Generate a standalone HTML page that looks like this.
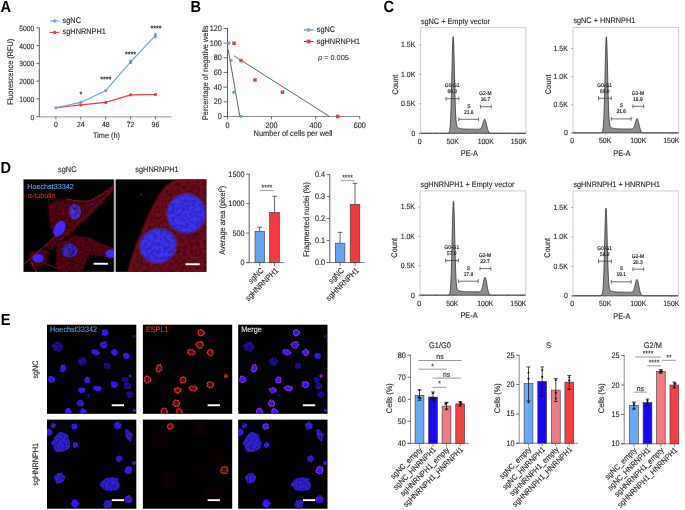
<!DOCTYPE html>
<html><head><meta charset="utf-8"><style>
html,body{margin:0;padding:0;background:#fff;width:685px;height:510px;overflow:hidden}
svg{position:absolute;left:0;top:0;font-family:"Liberation Sans", sans-serif;text-rendering:geometricPrecision;will-change:transform}
</style></head><body>
<svg width="685" height="510" viewBox="0 0 685 510">
<defs>
<filter id="b05" x="-50%" y="-50%" width="200%" height="200%"><feGaussianBlur stdDeviation="0.45"/></filter>
<filter id="b1" x="-50%" y="-50%" width="200%" height="200%"><feGaussianBlur stdDeviation="0.8"/></filter>
<filter id="b2" x="-50%" y="-50%" width="200%" height="200%"><feGaussianBlur stdDeviation="1.6"/></filter>
<filter id="b3" x="-50%" y="-50%" width="200%" height="200%"><feGaussianBlur stdDeviation="3"/></filter>
<filter id="tx1" x="-10%" y="-10%" width="120%" height="120%">
  <feTurbulence type="fractalNoise" baseFrequency="0.45" numOctaves="2" seed="4" result="n"/>
  <feColorMatrix in="n" type="matrix" values="0 0 0 0 0  0 0 0 0 0  0 0 0 0 0  1.8 0 0 0 -0.55" result="a"/>
  <feComposite in="SourceGraphic" in2="a" operator="in" result="c"/>
  <feGaussianBlur in="c" stdDeviation="0.5"/>
</filter>
<filter id="tx2" x="-10%" y="-10%" width="120%" height="120%">
  <feTurbulence type="fractalNoise" baseFrequency="0.5" numOctaves="2" seed="9" result="n"/>
  <feColorMatrix in="n" type="matrix" values="0 0 0 0 0  0 0 0 0 0  0 0 0 0 0  2.2 0 0 0 -0.85" result="a"/>
  <feComposite in="SourceGraphic" in2="a" operator="in" result="c"/>
  <feGaussianBlur in="c" stdDeviation="0.5"/>
</filter>
<filter id="txD" x="-10%" y="-10%" width="120%" height="120%">
  <feTurbulence type="fractalNoise" baseFrequency="0.3" numOctaves="3" seed="11" result="n"/>
  <feColorMatrix in="n" type="matrix" values="0 0 0 0 0  0 0 0 0 0  0 0 0 0 0  2.4 0 0 0 -0.9" result="a"/>
  <feComposite in="SourceGraphic" in2="a" operator="in" result="c"/>
  <feGaussianBlur in="c" stdDeviation="0.6"/>
</filter>
<filter id="txN" x="-10%" y="-10%" width="120%" height="120%">
  <feTurbulence type="fractalNoise" baseFrequency="0.28" numOctaves="3" seed="5" result="n"/>
  <feColorMatrix in="n" type="matrix" values="0 0 0 0 0  0 0 0 0 0  0 0 0 0 0  2.6 0 0 0 -1.0" result="a"/>
  <feComposite in="SourceGraphic" in2="a" operator="in" result="c"/>
  <feGaussianBlur in="c" stdDeviation="0.7"/>
</filter>
<clipPath id="cD1"><rect x="23.5" y="179.4" width="90.4" height="92.5"/></clipPath>
<clipPath id="cD2"><rect x="115.8" y="179.4" width="90.5" height="92.5"/></clipPath>

<clipPath id="cE1"><rect x="47.00" y="324.70" width="89.3" height="89.1"/></clipPath>
<clipPath id="cE2"><rect x="142.90" y="324.70" width="89.3" height="89.1"/></clipPath>
<clipPath id="cE3"><rect x="238.20" y="324.70" width="89.3" height="89.1"/></clipPath>
<clipPath id="cE4"><rect x="47.00" y="419.60" width="89.3" height="89.1"/></clipPath>
<clipPath id="cE5"><rect x="142.90" y="419.60" width="89.3" height="89.1"/></clipPath>
<clipPath id="cE6"><rect x="238.20" y="419.60" width="89.3" height="89.1"/></clipPath></defs>
<rect width="685" height="510" fill="#fff"/>
<rect x="23.5" y="179.4" width="90.4" height="92.5" fill="#000"/>
<g clip-path="url(#cD1)">
<g filter="url(#b2)" fill="#3a060c">
<path d="M48,206 L55,200 L67,199 L80,201 L90,201 L100,195 L113,186 L114,191 L106,199 L96,210 L86,220 L77,227 L70,235 L62,240 L55,237 L50,226Z"/>
<path d="M56,240 L65,241 L75,235 L86,237 L100,244 L114,249 L114,258 L100,257 L90,255 L86,262 L82,272 L58,272 L55,262 L56,250Z"/>
<path d="M30,252 L42,249 L50,252 L48,262 L40,268 L30,266Z"/>
<path d="M44,247 L56,236 L60,240 L52,250Z"/>
</g>
<g filter="url(#tx1)" fill="#9a1222" opacity="0.5">
<path d="M48,206 L55,200 L67,199 L80,201 L90,201 L100,195 L113,186 L114,191 L106,199 L96,210 L86,220 L77,227 L70,235 L62,240 L55,237 L50,226Z"/>
<path d="M56,240 L65,241 L75,235 L86,237 L100,244 L114,249 L114,258 L100,257 L90,255 L86,262 L82,272 L58,272 L55,262 L56,250Z"/>
<path d="M30,252 L42,249 L50,252 L48,262 L40,268 L30,266Z"/>
<path d="M44,247 L56,236 L60,240 L52,250Z"/>
</g>
<path d="M48,254 L55,253 L56,267 L49,268Z" fill="#000" filter="url(#b1)"/>
<g fill="none" filter="url(#b05)" stroke-linecap="round">
<path d="M24.4,263.7 L40,250 L57,235" stroke="#c82030" stroke-width="0.8" opacity="0.85"/>
<path d="M60,240 L76.2,225 L95,207 L112.5,189" stroke="#b01c28" stroke-width="0.65" opacity="0.8"/>
<path d="M67,199 Q80,202 90,201 Q100,196 113,186" stroke="#8a1420" stroke-width="1.0"/>
<path d="M45.6,190 Q50,204 53.4,217.7" stroke="#5a0c14" stroke-width="0.8"/>
<path d="M31.8,262.8 Q34,267 36.8,272" stroke="#c01e28" stroke-width="0.9"/>
<path d="M41.4,261.9 Q50,266 58,268.3 Q64,267 68,264" stroke="#7a1018" stroke-width="0.8"/>
<path d="M86,237 L100,244 L114,249" stroke="#7a1018" stroke-width="0.8"/>
</g>
<g filter="url(#b05)">
<ellipse cx="74.8" cy="211.7" rx="6.1" ry="7.8" fill="#4a36cc"/>
<ellipse cx="59.5" cy="228.6" rx="5.2" ry="8.4" fill="#3c2cff" transform="rotate(28 59.5 228.6)"/>
<ellipse cx="69.5" cy="250.6" rx="8.2" ry="6.9" fill="#3a2ab8"/>
<ellipse cx="38.2" cy="258.2" rx="5.6" ry="4.3" fill="#3a28ff"/>
<ellipse cx="110.6" cy="253.6" rx="5" ry="4.1" fill="#3c2aff"/>
<circle cx="92.3" cy="204.3" r="0.9" fill="#3a28d0"/>
</g>
<g filter="url(#txN)" fill="#100640" opacity="0.6">
<ellipse cx="74.8" cy="211.7" rx="5.9" ry="7.6"/><ellipse cx="69.5" cy="250.6" rx="8" ry="6.7"/>
</g>
</g>
<rect x="93.6" y="262.8" width="14.3" height="1.9" fill="#fff"/>
<text x="27.3" y="188.8" font-size="7.2" fill="#62a2ee" stroke="#62a2ee" stroke-width="0.12">Hoechst33342</text>
<text x="27.7" y="198.3" font-size="7.2" fill="#e02424" stroke="#e02424" stroke-width="0.12">&#945;-tubulin</text>
<rect x="113.9" y="179.4" width="1.9" height="92.5" fill="#b8b8b8"/>
<rect x="115.8" y="179.4" width="90.5" height="92.5" fill="#000"/>
<g clip-path="url(#cD2)">
<path d="M188,176 L210,176 L210,275 L128,275 C131,262 136,246 142,234 C147,222 153,204 164,190 C170,183 178,179 188,177Z" fill="#660a1a" filter="url(#b2)"/>
<path d="M188,176 L210,176 L210,275 L128,275 C131,262 136,246 142,234 C147,222 153,204 164,190 C170,183 178,179 188,177Z" fill="#200206" filter="url(#txD)" opacity="0.6"/>
<path d="M188,176 L210,176 L210,275 L128,275 C131,262 136,246 142,234 C147,222 153,204 164,190 C170,183 178,179 188,177Z" fill="#a01424" filter="url(#tx1)" opacity="0.35"/>
<path d="M129,273 C131,262 136,246 142,234 C147,222 153,204 164,190 C170,183 178,179 188,177" fill="none" stroke="#8a1424" stroke-width="2.4" filter="url(#b1)" opacity="0.8"/>
<g filter="url(#b1)">
<ellipse cx="186.1" cy="213.6" rx="19.2" ry="19.6" fill="#3e34ec" transform="rotate(25 186.1 213.6)"/>
<ellipse cx="158.1" cy="245.8" rx="18.6" ry="17.2" fill="#3e34ec" transform="rotate(-20 158.1 245.8)"/>
</g>
<g filter="url(#txN)" fill="#140a80" opacity="0.45">
<ellipse cx="186.1" cy="213.6" rx="18.6" ry="19" transform="rotate(25 186.1 213.6)"/>
<ellipse cx="158.1" cy="245.8" rx="18" ry="16.6" transform="rotate(-20 158.1 245.8)"/>
</g>
<circle cx="141.3" cy="194.6" r="1.3" fill="#4a0a10"/>
<circle cx="124" cy="254" r="1.6" fill="none" stroke="#3a0810" stroke-width="0.6"/>
</g>
<rect x="185.6" y="263.3" width="14.1" height="1.9" fill="#fff"/>
<rect x="47.00" y="324.70" width="89.3" height="89.1" fill="#000"/>
<g clip-path="url(#cE1)">
<path d="M108.78,333.10 C108.73,333.56 108.22,333.69 107.95,334.06 C107.69,334.43 107.56,335.01 107.18,335.30 C106.81,335.60 106.13,335.71 105.68,335.84 C105.23,335.98 104.93,336.22 104.46,336.11 C104.00,336.00 103.30,335.44 102.90,335.17 C102.49,334.91 102.17,334.93 102.05,334.52 C101.93,334.11 102.20,333.33 102.18,332.71 C102.16,332.09 101.77,331.30 101.92,330.80 C102.07,330.30 102.70,329.94 103.09,329.70 C103.47,329.46 103.71,329.41 104.25,329.37 C104.79,329.33 105.85,329.27 106.30,329.47 C106.76,329.67 106.64,330.26 106.96,330.56 C107.29,330.86 107.96,330.84 108.26,331.27 C108.56,331.69 108.83,332.63 108.78,333.10Z" fill="#3018ff" filter="url(#b05)"/>
<path d="M63.50,346.38 C63.53,347.20 62.28,348.52 61.84,349.28 C61.39,350.05 61.38,350.41 60.85,350.97 C60.33,351.53 59.32,352.56 58.69,352.62 C58.05,352.68 57.81,351.64 57.04,351.31 C56.26,350.99 54.64,351.14 54.06,350.68 C53.47,350.22 53.88,349.17 53.52,348.56 C53.16,347.94 52.16,347.63 51.90,346.97 C51.64,346.32 51.40,345.25 51.94,344.62 C52.49,343.98 54.52,343.63 55.17,343.17 C55.82,342.70 55.14,342.01 55.82,341.83 C56.50,341.65 58.46,341.95 59.25,342.09 C60.03,342.23 60.13,342.28 60.54,342.66 C60.94,343.03 61.17,343.72 61.66,344.34 C62.16,344.96 63.47,345.56 63.50,346.38Z" fill="#2010a0" filter="url(#b05)"/>
<path d="M63.21,346.41 C63.24,347.19 62.04,348.44 61.62,349.16 C61.20,349.89 61.19,350.24 60.69,350.77 C60.19,351.29 59.24,352.28 58.63,352.33 C58.03,352.39 57.80,351.40 57.06,351.09 C56.33,350.79 54.79,350.92 54.23,350.49 C53.68,350.05 54.07,349.06 53.72,348.47 C53.38,347.89 52.44,347.60 52.19,346.97 C51.94,346.35 51.71,345.33 52.22,344.73 C52.74,344.13 54.68,343.79 55.29,343.35 C55.91,342.91 55.26,342.25 55.91,342.08 C56.55,341.91 58.42,342.20 59.16,342.33 C59.91,342.46 60.01,342.51 60.39,342.87 C60.77,343.23 60.99,343.88 61.46,344.47 C61.93,345.06 63.18,345.62 63.21,346.41Z" fill="#0a0440" opacity="0.8" filter="url(#tx2)"/>
<path d="M108.04,345.27 C107.97,345.71 107.13,345.39 106.79,345.87 C106.46,346.34 106.43,347.73 106.03,348.12 C105.64,348.50 104.96,348.13 104.43,348.20 C103.90,348.27 103.31,348.66 102.85,348.52 C102.40,348.37 102.08,347.67 101.71,347.32 C101.34,346.96 100.98,346.86 100.61,346.40 C100.24,345.94 99.48,345.17 99.48,344.57 C99.48,343.97 100.25,343.22 100.61,342.82 C100.97,342.41 101.28,342.32 101.64,342.16 C102.00,342.01 102.29,341.99 102.78,341.87 C103.26,341.74 103.95,341.48 104.54,341.41 C105.13,341.34 105.87,341.15 106.32,341.45 C106.76,341.74 106.93,342.55 107.21,343.18 C107.50,343.82 108.11,344.82 108.04,345.27Z" fill="#3420e0" filter="url(#b05)"/>
<path d="M107.83,345.24 C107.76,345.67 106.96,345.36 106.64,345.81 C106.33,346.26 106.29,347.58 105.92,347.95 C105.55,348.32 104.90,347.97 104.40,348.03 C103.90,348.09 103.33,348.47 102.90,348.33 C102.47,348.19 102.17,347.53 101.82,347.19 C101.46,346.86 101.13,346.76 100.77,346.32 C100.42,345.89 99.70,345.15 99.70,344.58 C99.70,344.01 100.43,343.30 100.77,342.91 C101.11,342.53 101.40,342.45 101.75,342.30 C102.09,342.15 102.37,342.13 102.83,342.01 C103.29,341.90 103.95,341.65 104.51,341.58 C105.07,341.51 105.77,341.33 106.19,341.62 C106.62,341.90 106.77,342.66 107.04,343.26 C107.31,343.87 107.89,344.82 107.83,345.24Z" fill="#0a0440" opacity="0.7" filter="url(#tx2)"/>
<path d="M99.88,352.91 C99.82,353.26 99.75,353.91 99.32,354.17 C98.90,354.44 97.78,354.31 97.31,354.52 C96.84,354.72 97.01,355.40 96.52,355.41 C96.02,355.41 95.09,354.85 94.35,354.53 C93.62,354.21 92.60,353.85 92.09,353.50 C91.59,353.14 91.39,352.73 91.33,352.37 C91.27,352.02 91.71,351.77 91.74,351.35 C91.77,350.94 91.29,350.25 91.51,349.90 C91.74,349.56 92.47,349.31 93.10,349.29 C93.73,349.26 94.60,349.69 95.30,349.77 C96.00,349.84 96.85,349.57 97.30,349.74 C97.75,349.90 97.59,350.37 97.99,350.76 C98.38,351.14 99.35,351.69 99.67,352.05 C99.98,352.40 99.94,352.55 99.88,352.91Z" fill="#3018ff" filter="url(#b05)"/>
<path d="M117.45,352.42 C117.36,352.86 117.36,353.39 117.26,353.80 C117.15,354.21 117.20,354.47 116.84,354.87 C116.47,355.28 115.56,356.11 115.05,356.21 C114.54,356.31 114.15,355.67 113.75,355.46 C113.36,355.26 112.95,355.21 112.68,354.97 C112.41,354.73 112.44,354.39 112.13,354.04 C111.82,353.69 110.94,353.40 110.83,352.86 C110.72,352.31 111.10,351.21 111.45,350.76 C111.80,350.32 112.56,350.41 112.93,350.16 C113.30,349.91 113.23,349.47 113.68,349.28 C114.13,349.10 115.14,348.83 115.62,349.05 C116.10,349.26 116.20,350.20 116.56,350.55 C116.92,350.91 117.64,350.85 117.78,351.17 C117.93,351.48 117.54,351.98 117.45,352.42Z" fill="#3018ff" filter="url(#b05)"/>
<path d="M129.56,355.90 C129.59,356.53 129.52,357.15 129.30,357.63 C129.07,358.11 128.57,358.59 128.21,358.79 C127.86,358.98 127.68,358.75 127.15,358.78 C126.61,358.82 125.50,359.14 125.01,358.98 C124.51,358.82 124.42,358.11 124.17,357.80 C123.91,357.48 123.70,357.43 123.47,357.09 C123.25,356.75 122.84,356.14 122.82,355.77 C122.80,355.39 123.22,355.31 123.37,354.86 C123.51,354.41 123.29,353.38 123.67,353.07 C124.05,352.76 125.11,353.00 125.65,353.01 C126.19,353.01 126.54,353.01 126.92,353.11 C127.29,353.22 127.53,353.54 127.90,353.67 C128.27,353.79 128.86,353.49 129.14,353.86 C129.41,354.23 129.54,355.27 129.56,355.90Z" fill="#3018ff" filter="url(#b05)"/>
<path d="M86.84,361.72 C86.78,362.24 85.94,362.57 85.70,363.02 C85.46,363.48 85.78,363.98 85.38,364.44 C84.99,364.89 83.98,365.52 83.32,365.74 C82.67,365.97 82.04,365.90 81.44,365.79 C80.83,365.68 80.15,365.56 79.68,365.08 C79.21,364.61 78.91,363.55 78.62,362.93 C78.34,362.31 77.98,361.87 77.95,361.36 C77.91,360.85 78.05,360.38 78.42,359.87 C78.79,359.36 79.63,358.75 80.17,358.29 C80.71,357.82 81.09,357.19 81.64,357.09 C82.19,357.00 82.95,357.62 83.47,357.71 C83.99,357.80 84.33,357.24 84.76,357.61 C85.19,357.98 85.70,359.24 86.04,359.92 C86.39,360.61 86.89,361.20 86.84,361.72Z" fill="#2010a0" filter="url(#b05)"/>
<path d="M86.61,361.70 C86.56,362.19 85.76,362.51 85.53,362.94 C85.30,363.37 85.61,363.85 85.23,364.28 C84.85,364.71 83.90,365.31 83.27,365.53 C82.65,365.74 82.06,365.68 81.48,365.57 C80.90,365.47 80.25,365.35 79.81,364.90 C79.36,364.45 79.08,363.44 78.81,362.85 C78.53,362.26 78.20,361.85 78.16,361.36 C78.13,360.88 78.26,360.43 78.61,359.95 C78.96,359.46 79.77,358.88 80.28,358.44 C80.79,358.00 81.15,357.40 81.67,357.31 C82.20,357.22 82.92,357.81 83.41,357.89 C83.90,357.98 84.23,357.45 84.64,357.80 C85.04,358.15 85.53,359.35 85.86,360.00 C86.18,360.65 86.66,361.21 86.61,361.70Z" fill="#0a0440" opacity="0.8" filter="url(#tx2)"/>
<path d="M109.91,365.68 C109.79,366.19 109.66,366.68 109.49,367.11 C109.33,367.55 109.18,367.98 108.94,368.28 C108.71,368.58 108.46,368.81 108.07,368.93 C107.69,369.05 107.07,369.13 106.64,369.00 C106.20,368.88 105.95,368.45 105.47,368.19 C104.98,367.93 103.97,367.80 103.73,367.45 C103.49,367.10 104.04,366.64 104.02,366.07 C104.01,365.50 103.45,364.51 103.63,364.05 C103.80,363.58 104.55,363.44 105.06,363.27 C105.57,363.10 106.21,363.09 106.69,363.03 C107.17,362.96 107.62,362.82 107.94,362.88 C108.25,362.95 108.21,363.21 108.59,363.41 C108.97,363.61 110.00,363.69 110.22,364.06 C110.44,364.44 110.03,365.17 109.91,365.68Z" fill="#2010a0" filter="url(#b05)"/>
<path d="M109.76,365.68 C109.65,366.17 109.52,366.64 109.37,367.05 C109.22,367.46 109.07,367.87 108.85,368.16 C108.62,368.44 108.39,368.66 108.02,368.77 C107.65,368.89 107.07,368.96 106.65,368.84 C106.24,368.73 106.00,368.32 105.54,368.07 C105.08,367.83 104.12,367.70 103.89,367.37 C103.66,367.03 104.19,366.60 104.17,366.06 C104.16,365.52 103.63,364.58 103.79,364.13 C103.96,363.69 104.67,363.56 105.16,363.40 C105.64,363.24 106.25,363.23 106.71,363.16 C107.16,363.10 107.59,362.97 107.89,363.03 C108.19,363.09 108.15,363.34 108.51,363.53 C108.87,363.72 109.85,363.79 110.06,364.15 C110.26,364.51 109.87,365.20 109.76,365.68Z" fill="#0a0440" opacity="0.8" filter="url(#tx2)"/>
<path d="M66.04,368.81 C65.95,369.41 65.58,370.15 65.25,370.61 C64.92,371.07 64.52,371.29 64.05,371.57 C63.57,371.85 62.83,372.16 62.39,372.28 C61.96,372.41 61.72,372.47 61.42,372.33 C61.12,372.20 60.86,371.79 60.60,371.45 C60.34,371.11 59.89,370.80 59.86,370.29 C59.83,369.78 60.25,368.97 60.41,368.38 C60.57,367.80 60.62,367.43 60.84,366.77 C61.05,366.12 61.33,364.79 61.70,364.47 C62.06,364.16 62.58,364.99 63.03,364.88 C63.48,364.77 64.04,363.77 64.39,363.81 C64.74,363.85 64.90,364.62 65.13,365.15 C65.37,365.68 65.65,366.37 65.81,366.98 C65.96,367.59 66.13,368.20 66.04,368.81Z" fill="#3018ff" filter="url(#b05)"/>
<path d="M54.75,379.57 C54.79,380.05 55.22,380.58 55.08,380.99 C54.94,381.41 54.44,381.80 53.89,382.06 C53.34,382.33 52.34,382.40 51.79,382.58 C51.23,382.76 50.91,383.16 50.54,383.14 C50.18,383.11 49.99,382.80 49.61,382.44 C49.22,382.07 48.44,381.44 48.23,380.94 C48.01,380.44 48.25,379.85 48.31,379.43 C48.37,379.02 48.49,378.95 48.59,378.46 C48.69,377.96 48.57,376.90 48.91,376.47 C49.25,376.03 50.09,375.95 50.63,375.85 C51.17,375.75 51.72,375.71 52.14,375.88 C52.56,376.05 52.72,376.50 53.18,376.88 C53.63,377.25 54.60,377.66 54.86,378.11 C55.12,378.56 54.71,379.09 54.75,379.57Z" fill="#3018ff" filter="url(#b05)"/>
<path d="M90.32,380.15 C90.34,380.55 89.96,380.92 89.77,381.40 C89.58,381.88 89.54,382.79 89.20,383.04 C88.86,383.28 88.18,382.88 87.73,382.88 C87.28,382.88 86.96,382.99 86.52,383.03 C86.07,383.07 85.39,383.46 85.07,383.12 C84.76,382.78 84.84,381.53 84.64,380.98 C84.45,380.42 83.92,380.16 83.90,379.81 C83.88,379.47 84.25,379.27 84.49,378.89 C84.73,378.51 84.99,377.91 85.34,377.55 C85.69,377.20 86.21,376.93 86.60,376.78 C86.99,376.63 87.13,376.52 87.67,376.64 C88.21,376.76 89.50,377.09 89.83,377.49 C90.17,377.88 89.59,378.55 89.67,378.99 C89.75,379.44 90.30,379.75 90.32,380.15Z" fill="#3018ff" filter="url(#b05)"/>
<path d="M117.97,384.46 C117.97,385.07 117.57,385.83 117.35,386.31 C117.13,386.79 116.96,387.06 116.64,387.32 C116.32,387.58 115.97,387.71 115.44,387.86 C114.90,388.01 113.90,388.33 113.43,388.22 C112.96,388.12 113.01,387.52 112.62,387.24 C112.23,386.95 111.29,386.99 111.10,386.51 C110.90,386.03 111.47,385.06 111.45,384.36 C111.43,383.67 110.84,382.80 110.98,382.33 C111.11,381.87 111.81,381.68 112.24,381.57 C112.66,381.47 113.04,381.71 113.52,381.71 C113.99,381.72 114.63,381.58 115.08,381.60 C115.53,381.63 115.83,381.69 116.20,381.86 C116.57,382.04 117.03,382.23 117.33,382.66 C117.62,383.09 117.97,383.85 117.97,384.46Z" fill="#3018ff" filter="url(#b05)"/>
<path d="M128.66,379.58 C128.66,379.97 128.01,380.50 127.83,380.84 C127.64,381.18 127.78,381.30 127.54,381.62 C127.31,381.95 126.89,382.63 126.41,382.79 C125.93,382.95 125.16,382.71 124.67,382.59 C124.19,382.47 123.78,382.30 123.49,382.05 C123.21,381.80 123.20,381.46 122.97,381.10 C122.74,380.73 122.20,380.31 122.10,379.88 C122.00,379.44 122.17,378.91 122.37,378.48 C122.56,378.06 122.87,377.60 123.27,377.32 C123.66,377.04 124.25,376.82 124.74,376.80 C125.24,376.78 125.82,377.22 126.26,377.21 C126.69,377.19 127.08,376.50 127.34,376.71 C127.60,376.93 127.61,378.01 127.83,378.48 C128.05,378.96 128.66,379.19 128.66,379.58Z" fill="#2010a0" filter="url(#b05)"/>
<path d="M128.50,379.58 C128.50,379.95 127.89,380.45 127.71,380.78 C127.53,381.10 127.66,381.21 127.44,381.52 C127.22,381.83 126.82,382.48 126.37,382.63 C125.91,382.78 125.18,382.56 124.71,382.44 C124.25,382.32 123.86,382.16 123.59,381.92 C123.32,381.69 123.32,381.36 123.10,381.02 C122.88,380.68 122.36,380.28 122.27,379.86 C122.17,379.45 122.34,378.94 122.52,378.54 C122.71,378.13 123.00,377.70 123.38,377.44 C123.75,377.17 124.31,376.96 124.78,376.94 C125.26,376.92 125.81,377.34 126.22,377.33 C126.63,377.31 127.00,376.66 127.25,376.86 C127.50,377.06 127.50,378.09 127.71,378.54 C127.92,378.99 128.50,379.21 128.50,379.58Z" fill="#0a0440" opacity="0.8" filter="url(#tx2)"/>
<path d="M131.12,385.98 C131.12,386.62 131.11,387.67 130.85,388.11 C130.58,388.54 129.95,388.40 129.53,388.60 C129.10,388.80 128.81,389.20 128.29,389.31 C127.78,389.41 126.93,389.32 126.43,389.22 C125.92,389.13 125.62,388.95 125.25,388.73 C124.89,388.50 124.49,388.35 124.21,387.88 C123.93,387.41 123.59,386.36 123.58,385.90 C123.57,385.44 124.00,385.56 124.16,385.12 C124.31,384.67 124.09,383.73 124.51,383.26 C124.94,382.78 126.05,382.40 126.71,382.27 C127.36,382.14 127.90,382.29 128.46,382.48 C129.03,382.66 129.69,383.09 130.09,383.39 C130.48,383.68 130.65,383.81 130.82,384.24 C130.99,384.68 131.12,385.34 131.12,385.98Z" fill="#2010a0" filter="url(#b05)"/>
<path d="M130.93,385.99 C130.93,386.60 130.92,387.60 130.67,388.01 C130.42,388.43 129.82,388.29 129.41,388.48 C129.01,388.67 128.73,389.05 128.24,389.15 C127.75,389.25 126.95,389.17 126.47,389.07 C125.99,388.98 125.71,388.81 125.36,388.60 C125.01,388.39 124.63,388.24 124.37,387.80 C124.10,387.35 123.77,386.35 123.77,385.91 C123.76,385.48 124.17,385.59 124.31,385.17 C124.46,384.75 124.25,383.85 124.65,383.40 C125.06,382.95 126.11,382.59 126.74,382.47 C127.36,382.34 127.87,382.49 128.40,382.66 C128.94,382.84 129.57,383.25 129.95,383.53 C130.32,383.81 130.48,383.93 130.65,384.34 C130.81,384.75 130.93,385.38 130.93,385.99Z" fill="#0a0440" opacity="0.8" filter="url(#tx2)"/>
<path d="M131.50,375.85 C131.56,376.10 131.54,376.61 131.43,376.80 C131.31,377.00 131.03,376.90 130.82,377.03 C130.61,377.15 130.36,377.47 130.16,377.56 C129.97,377.65 129.83,377.61 129.62,377.57 C129.41,377.53 129.06,377.45 128.91,377.31 C128.76,377.16 128.81,376.94 128.73,376.70 C128.66,376.46 128.54,376.08 128.48,375.86 C128.42,375.64 128.26,375.52 128.37,375.37 C128.47,375.22 128.91,375.09 129.11,374.94 C129.31,374.79 129.40,374.54 129.57,374.45 C129.74,374.37 129.94,374.38 130.13,374.44 C130.31,374.50 130.53,374.67 130.68,374.82 C130.83,374.96 130.92,375.12 131.05,375.30 C131.19,375.47 131.43,375.60 131.50,375.85Z" fill="#3018ff" filter="url(#b05)"/>
<path d="M85.18,390.46 C85.12,390.83 85.22,391.09 84.96,391.38 C84.71,391.66 84.07,391.87 83.65,392.15 C83.23,392.44 82.99,392.91 82.46,393.09 C81.93,393.28 80.94,393.39 80.49,393.26 C80.04,393.14 80.08,392.67 79.75,392.33 C79.43,391.98 78.76,391.52 78.52,391.19 C78.28,390.86 78.39,390.77 78.31,390.34 C78.23,389.91 77.80,388.99 78.06,388.62 C78.32,388.25 79.31,388.34 79.87,388.15 C80.43,387.95 80.97,387.56 81.41,387.46 C81.86,387.36 82.10,387.38 82.52,387.53 C82.95,387.67 83.50,388.07 83.96,388.33 C84.43,388.59 85.12,388.75 85.32,389.10 C85.53,389.45 85.24,390.08 85.18,390.46Z" fill="#3018ff" filter="url(#b05)"/>
<path d="M101.35,388.31 C101.31,388.75 101.16,389.16 100.94,389.56 C100.73,389.95 100.46,390.41 100.05,390.69 C99.64,390.97 99.01,391.19 98.49,391.25 C97.96,391.30 97.45,391.17 96.89,391.03 C96.34,390.89 95.70,390.68 95.18,390.41 C94.66,390.14 94.20,389.78 93.77,389.41 C93.34,389.04 92.72,388.54 92.60,388.17 C92.47,387.80 92.64,387.55 93.02,387.18 C93.40,386.81 94.38,386.16 94.87,385.93 C95.36,385.69 95.40,385.78 95.97,385.77 C96.53,385.75 97.67,385.77 98.26,385.85 C98.84,385.92 98.98,386.05 99.48,386.22 C99.97,386.40 100.90,386.54 101.22,386.89 C101.53,387.24 101.40,387.86 101.35,388.31Z" fill="#3018ff" filter="url(#b05)"/>
<path d="M133.65,394.62 C133.52,395.17 132.85,395.78 132.58,396.28 C132.30,396.77 132.34,397.38 131.98,397.58 C131.63,397.79 130.85,397.45 130.44,397.50 C130.04,397.54 129.98,397.94 129.54,397.85 C129.10,397.75 128.24,397.23 127.82,396.92 C127.40,396.60 127.33,396.42 127.03,395.98 C126.72,395.54 126.12,394.78 126.00,394.27 C125.87,393.77 126.07,393.35 126.28,392.96 C126.49,392.57 126.72,392.14 127.26,391.92 C127.80,391.70 128.90,391.74 129.50,391.63 C130.10,391.52 130.41,391.13 130.84,391.26 C131.26,391.39 131.64,392.14 132.06,392.43 C132.48,392.71 133.11,392.60 133.38,392.97 C133.64,393.33 133.79,394.07 133.65,394.62Z" fill="#2010a0" filter="url(#b05)"/>
<path d="M133.47,394.62 C133.34,395.14 132.71,395.72 132.44,396.19 C132.18,396.66 132.21,397.24 131.88,397.43 C131.54,397.63 130.80,397.31 130.42,397.35 C130.03,397.40 129.97,397.78 129.56,397.68 C129.14,397.59 128.32,397.09 127.92,396.80 C127.52,396.50 127.46,396.33 127.17,395.91 C126.88,395.50 126.31,394.77 126.19,394.29 C126.08,393.81 126.26,393.41 126.46,393.04 C126.66,392.67 126.88,392.27 127.39,392.06 C127.90,391.84 128.95,391.88 129.52,391.78 C130.09,391.67 130.39,391.30 130.79,391.43 C131.20,391.55 131.55,392.27 131.95,392.54 C132.35,392.81 132.95,392.70 133.20,393.05 C133.46,393.40 133.59,394.09 133.47,394.62Z" fill="#0a0440" opacity="0.8" filter="url(#tx2)"/>
<path d="M89.97,395.39 C89.94,395.62 89.75,395.80 89.65,396.00 C89.55,396.20 89.51,396.45 89.37,396.59 C89.23,396.73 89.00,396.81 88.81,396.84 C88.63,396.87 88.48,396.82 88.29,396.76 C88.09,396.71 87.83,396.60 87.63,396.49 C87.43,396.38 87.21,396.30 87.09,396.11 C86.97,395.92 86.86,395.54 86.89,395.36 C86.93,395.18 87.19,395.19 87.32,395.02 C87.45,394.85 87.54,394.49 87.67,394.33 C87.79,394.17 87.85,394.13 88.07,394.08 C88.29,394.03 88.79,393.96 88.98,394.02 C89.18,394.07 89.09,394.33 89.24,394.43 C89.39,394.53 89.75,394.47 89.87,394.63 C89.99,394.79 90.01,395.16 89.97,395.39Z" fill="#2010a0" filter="url(#b05)"/>
<path d="M89.90,395.39 C89.86,395.61 89.69,395.78 89.59,395.97 C89.50,396.17 89.46,396.40 89.33,396.54 C89.20,396.67 88.97,396.75 88.80,396.78 C88.63,396.80 88.48,396.76 88.30,396.70 C88.11,396.65 87.87,396.54 87.68,396.44 C87.49,396.34 87.28,396.26 87.16,396.08 C87.04,395.90 86.94,395.54 86.98,395.37 C87.01,395.19 87.25,395.21 87.38,395.04 C87.50,394.88 87.59,394.54 87.71,394.39 C87.83,394.24 87.88,394.20 88.09,394.15 C88.30,394.10 88.77,394.04 88.96,394.09 C89.14,394.15 89.06,394.38 89.20,394.48 C89.35,394.58 89.69,394.52 89.80,394.67 C89.92,394.82 89.93,395.18 89.90,395.39Z" fill="#0a0440" opacity="0.8" filter="url(#tx2)"/>
<path d="M84.04,403.56 C84.04,404.03 83.56,404.45 83.36,404.94 C83.16,405.43 83.22,406.29 82.83,406.53 C82.44,406.77 81.56,406.36 81.04,406.37 C80.51,406.37 80.12,406.63 79.67,406.57 C79.21,406.51 78.68,406.25 78.30,406.00 C77.92,405.76 77.66,405.51 77.38,405.10 C77.10,404.69 76.61,404.03 76.62,403.56 C76.63,403.10 77.23,402.76 77.42,402.30 C77.62,401.84 77.49,401.22 77.79,400.79 C78.10,400.36 78.69,399.85 79.26,399.74 C79.83,399.63 80.70,400.07 81.19,400.15 C81.69,400.23 81.90,399.91 82.26,400.24 C82.61,400.57 83.03,401.57 83.33,402.12 C83.62,402.68 84.03,403.09 84.04,403.56Z" fill="#3420e0" filter="url(#b05)"/>
<path d="M83.84,403.55 C83.85,404.00 83.39,404.39 83.20,404.86 C83.01,405.33 83.07,406.15 82.70,406.38 C82.33,406.60 81.50,406.21 80.99,406.22 C80.49,406.22 80.13,406.47 79.69,406.41 C79.26,406.35 78.75,406.10 78.39,405.87 C78.03,405.64 77.79,405.40 77.52,405.02 C77.26,404.63 76.79,404.00 76.80,403.55 C76.81,403.11 77.37,402.79 77.56,402.35 C77.75,401.91 77.62,401.32 77.91,400.92 C78.21,400.51 78.77,400.02 79.31,399.92 C79.85,399.82 80.67,400.23 81.15,400.31 C81.62,400.39 81.82,400.08 82.15,400.40 C82.49,400.71 82.89,401.66 83.17,402.19 C83.45,402.71 83.84,403.11 83.84,403.55Z" fill="#0a0440" opacity="0.7" filter="url(#tx2)"/>
<path d="M71.90,411.76 C72.06,412.35 71.88,412.96 71.67,413.35 C71.46,413.75 71.14,413.80 70.64,414.13 C70.15,414.45 69.23,415.26 68.70,415.31 C68.17,415.36 67.95,414.53 67.46,414.42 C66.96,414.31 66.06,414.87 65.72,414.65 C65.38,414.43 65.55,413.70 65.39,413.10 C65.23,412.50 64.82,411.51 64.78,411.03 C64.74,410.54 64.88,410.59 65.15,410.19 C65.42,409.79 66.04,409.02 66.40,408.63 C66.77,408.24 66.86,407.95 67.33,407.85 C67.80,407.76 68.75,407.97 69.22,408.06 C69.69,408.15 69.89,408.10 70.14,408.39 C70.40,408.67 70.46,409.23 70.76,409.80 C71.05,410.36 71.75,411.17 71.90,411.76Z" fill="#3018ff" filter="url(#b05)"/>
<path d="M86.81,411.41 C86.80,411.85 86.37,412.75 86.19,413.26 C86.01,413.77 86.14,414.15 85.72,414.46 C85.31,414.76 84.25,415.03 83.71,415.08 C83.18,415.12 82.88,414.82 82.51,414.72 C82.14,414.61 81.81,414.77 81.49,414.46 C81.17,414.16 80.79,413.40 80.56,412.91 C80.33,412.41 80.12,411.86 80.12,411.48 C80.11,411.10 80.35,411.11 80.54,410.62 C80.73,410.14 80.90,408.98 81.27,408.57 C81.63,408.17 82.34,408.21 82.73,408.20 C83.11,408.19 83.17,408.32 83.56,408.52 C83.95,408.72 84.59,409.04 85.04,409.39 C85.49,409.74 85.97,410.28 86.26,410.62 C86.56,410.95 86.82,410.97 86.81,411.41Z" fill="#3018ff" filter="url(#b05)"/>
<path d="M135.61,336.54 C135.64,336.73 136.03,336.84 135.96,336.98 C135.89,337.11 135.42,337.22 135.19,337.36 C134.96,337.49 134.78,337.74 134.57,337.80 C134.35,337.85 134.08,337.76 133.87,337.69 C133.66,337.63 133.50,337.50 133.31,337.40 C133.12,337.30 132.85,337.29 132.73,337.11 C132.61,336.93 132.51,336.54 132.59,336.32 C132.66,336.10 133.04,336.00 133.18,335.79 C133.33,335.59 133.32,335.22 133.45,335.11 C133.58,334.99 133.72,335.14 133.94,335.11 C134.16,335.08 134.52,334.91 134.77,334.93 C135.02,334.95 135.29,335.07 135.45,335.23 C135.61,335.39 135.72,335.67 135.75,335.89 C135.77,336.11 135.57,336.36 135.61,336.54Z" fill="#2010a0" filter="url(#b05)"/>
<path d="M135.54,336.54 C135.58,336.71 135.94,336.82 135.87,336.95 C135.81,337.08 135.37,337.18 135.15,337.31 C134.92,337.44 134.76,337.67 134.55,337.73 C134.34,337.78 134.09,337.69 133.90,337.63 C133.70,337.57 133.54,337.44 133.36,337.35 C133.18,337.25 132.92,337.24 132.81,337.07 C132.70,336.90 132.60,336.54 132.67,336.33 C132.74,336.12 133.10,336.02 133.24,335.82 C133.38,335.63 133.37,335.28 133.49,335.17 C133.61,335.06 133.75,335.20 133.96,335.17 C134.17,335.14 134.51,334.98 134.74,335.00 C134.98,335.02 135.24,335.14 135.39,335.29 C135.55,335.44 135.65,335.71 135.67,335.92 C135.70,336.12 135.51,336.37 135.54,336.54Z" fill="#0a0440" opacity="0.8" filter="url(#tx2)"/>
<path d="M136.13,410.69 C136.09,410.90 135.62,411.03 135.48,411.21 C135.33,411.38 135.39,411.63 135.24,411.74 C135.10,411.85 134.80,411.81 134.60,411.87 C134.40,411.92 134.26,412.06 134.06,412.05 C133.86,412.04 133.56,411.93 133.40,411.79 C133.25,411.66 133.25,411.46 133.14,411.23 C133.03,411.00 132.81,410.67 132.74,410.42 C132.68,410.17 132.63,409.90 132.75,409.75 C132.86,409.59 133.20,409.61 133.42,409.47 C133.63,409.32 133.82,408.97 134.04,408.87 C134.26,408.78 134.51,408.80 134.73,408.89 C134.95,408.98 135.22,409.25 135.38,409.42 C135.54,409.59 135.59,409.71 135.72,409.92 C135.84,410.13 136.17,410.47 136.13,410.69Z" fill="#3018ff" filter="url(#b05)"/>
</g>
<text x="50.00" y="332.20" font-size="7.3" fill="#68a0e8" stroke="#68a0e8" stroke-width="0.08" transform="translate(50.00 332.20) scale(1 1.08) translate(-50.00 -332.20)">Hoechst33342</text>
<rect x="111.70" y="404.30" width="12.3" height="1.9" fill="#fff"/>
<rect x="142.90" y="324.70" width="89.3" height="89.1" fill="#000"/>
<g clip-path="url(#cE2)">
<path d="M204.39,333.07 C204.34,333.50 203.88,333.62 203.63,333.96 C203.39,334.30 203.27,334.83 202.93,335.10 C202.58,335.37 201.96,335.47 201.54,335.60 C201.12,335.72 200.85,335.95 200.42,335.85 C200.00,335.74 199.35,335.22 198.98,334.98 C198.61,334.74 198.32,334.76 198.21,334.39 C198.10,334.01 198.34,333.29 198.32,332.72 C198.30,332.15 197.94,331.42 198.08,330.96 C198.22,330.50 198.80,330.17 199.15,329.95 C199.51,329.73 199.73,329.68 200.23,329.65 C200.72,329.61 201.70,329.56 202.12,329.74 C202.53,329.92 202.42,330.46 202.72,330.74 C203.02,331.01 203.64,331.00 203.92,331.39 C204.19,331.78 204.44,332.64 204.39,333.07Z" fill="#4a0808" filter="url(#b05)"/>
<path d="M204.32,333.07 C204.27,333.49 203.82,333.61 203.58,333.94 C203.34,334.27 203.23,334.78 202.89,335.05 C202.54,335.32 201.94,335.42 201.53,335.54 C201.12,335.66 200.85,335.88 200.44,335.78 C200.02,335.68 199.39,335.17 199.03,334.93 C198.67,334.69 198.38,334.72 198.27,334.35 C198.16,333.98 198.40,333.28 198.38,332.72 C198.36,332.16 198.01,331.45 198.15,331.00 C198.28,330.55 198.85,330.23 199.20,330.01 C199.55,329.80 199.76,329.75 200.25,329.71 C200.73,329.68 201.69,329.63 202.09,329.80 C202.50,329.98 202.39,330.51 202.69,330.78 C202.98,331.05 203.58,331.04 203.86,331.42 C204.13,331.80 204.37,332.65 204.32,333.07Z" fill="none" stroke="#f02c1e" stroke-width="1.3" stroke-dasharray="2.2 0.45" filter="url(#b05)"/>
<path d="M203.60,345.23 C203.53,345.64 202.76,345.34 202.45,345.78 C202.15,346.22 202.12,347.49 201.75,347.85 C201.39,348.21 200.77,347.87 200.28,347.93 C199.79,347.99 199.24,348.35 198.83,348.22 C198.41,348.08 198.12,347.44 197.78,347.12 C197.44,346.79 197.11,346.69 196.77,346.27 C196.43,345.85 195.73,345.14 195.73,344.59 C195.73,344.04 196.44,343.34 196.77,342.97 C197.10,342.61 197.38,342.52 197.71,342.37 C198.04,342.23 198.31,342.22 198.76,342.10 C199.20,341.99 199.84,341.74 200.38,341.68 C200.93,341.62 201.61,341.44 202.02,341.72 C202.43,341.99 202.58,342.73 202.84,343.31 C203.10,343.90 203.66,344.82 203.60,345.23Z" fill="#4a0808" filter="url(#b05)"/>
<path d="M203.51,345.22 C203.45,345.62 202.69,345.33 202.39,345.76 C202.09,346.19 202.06,347.43 201.71,347.78 C201.36,348.13 200.75,347.80 200.27,347.86 C199.79,347.92 199.25,348.28 198.85,348.14 C198.44,348.01 198.16,347.38 197.82,347.06 C197.48,346.75 197.17,346.65 196.83,346.24 C196.50,345.83 195.82,345.13 195.82,344.59 C195.82,344.05 196.51,343.37 196.83,343.01 C197.15,342.65 197.43,342.57 197.76,342.43 C198.08,342.28 198.34,342.27 198.78,342.16 C199.21,342.05 199.84,341.81 200.37,341.75 C200.90,341.69 201.57,341.52 201.97,341.78 C202.37,342.05 202.51,342.77 202.77,343.34 C203.03,343.92 203.58,344.82 203.51,345.22Z" fill="none" stroke="#f02c1e" stroke-width="1.3" stroke-dasharray="2.2 0.45" filter="url(#b05)"/>
<path d="M195.43,352.85 C195.38,353.18 195.31,353.77 194.92,354.02 C194.52,354.26 193.50,354.14 193.07,354.33 C192.64,354.52 192.79,355.15 192.33,355.15 C191.88,355.15 191.02,354.64 190.35,354.34 C189.67,354.05 188.73,353.72 188.26,353.39 C187.80,353.06 187.62,352.69 187.57,352.36 C187.51,352.03 187.91,351.80 187.94,351.42 C187.97,351.04 187.52,350.40 187.73,350.09 C187.94,349.77 188.61,349.54 189.19,349.52 C189.77,349.50 190.57,349.89 191.22,349.96 C191.86,350.03 192.64,349.78 193.05,349.94 C193.47,350.09 193.33,350.52 193.69,350.87 C194.05,351.23 194.95,351.73 195.24,352.06 C195.53,352.39 195.48,352.52 195.43,352.85Z" fill="#4a0808" filter="url(#b05)"/>
<path d="M195.34,352.83 C195.29,353.15 195.23,353.74 194.84,353.98 C194.46,354.22 193.45,354.10 193.03,354.28 C192.61,354.47 192.76,355.08 192.31,355.09 C191.87,355.09 191.03,354.58 190.37,354.30 C189.71,354.01 188.79,353.69 188.33,353.37 C187.88,353.04 187.70,352.68 187.65,352.36 C187.60,352.04 187.99,351.81 188.02,351.44 C188.04,351.07 187.61,350.44 187.81,350.13 C188.02,349.82 188.67,349.60 189.24,349.58 C189.81,349.56 190.59,349.94 191.22,350.01 C191.85,350.08 192.62,349.84 193.02,349.99 C193.42,350.13 193.28,350.56 193.64,350.90 C194.00,351.25 194.87,351.74 195.15,352.06 C195.44,352.38 195.39,352.52 195.34,352.83Z" fill="none" stroke="#f02c1e" stroke-width="1.3" stroke-dasharray="2.2 0.45" filter="url(#b05)"/>
<path d="M213.12,352.43 C213.04,352.84 213.04,353.33 212.94,353.70 C212.85,354.08 212.90,354.32 212.56,354.69 C212.22,355.06 211.39,355.83 210.91,355.92 C210.44,356.01 210.08,355.43 209.72,355.24 C209.36,355.05 208.98,355.00 208.73,354.78 C208.48,354.56 208.51,354.25 208.23,353.92 C207.94,353.60 207.13,353.34 207.03,352.84 C206.93,352.34 207.28,351.33 207.60,350.91 C207.93,350.50 208.62,350.58 208.96,350.36 C209.30,350.13 209.24,349.72 209.66,349.55 C210.07,349.38 211.00,349.14 211.44,349.33 C211.88,349.53 211.97,350.39 212.31,350.72 C212.64,351.04 213.29,350.99 213.43,351.28 C213.57,351.57 213.20,352.03 213.12,352.43Z" fill="#4a0808" filter="url(#b05)"/>
<path d="M213.06,352.44 C212.98,352.83 212.98,353.31 212.89,353.68 C212.80,354.05 212.84,354.28 212.51,354.65 C212.18,355.01 211.37,355.76 210.91,355.85 C210.44,355.94 210.09,355.36 209.74,355.18 C209.38,354.99 209.01,354.94 208.77,354.73 C208.53,354.52 208.55,354.21 208.28,353.89 C208.00,353.58 207.21,353.32 207.11,352.83 C207.00,352.34 207.35,351.35 207.67,350.95 C207.98,350.54 208.66,350.63 209.00,350.41 C209.33,350.18 209.27,349.78 209.67,349.61 C210.08,349.45 210.99,349.21 211.42,349.40 C211.85,349.59 211.94,350.44 212.27,350.76 C212.59,351.08 213.23,351.03 213.37,351.31 C213.50,351.59 213.14,352.04 213.06,352.44Z" fill="none" stroke="#f02c1e" stroke-width="1.3" stroke-dasharray="2.2 0.45" filter="url(#b05)"/>
<path d="M161.69,368.78 C161.61,369.34 161.27,370.01 160.96,370.44 C160.66,370.86 160.29,371.07 159.86,371.33 C159.42,371.58 158.74,371.86 158.33,371.98 C157.93,372.10 157.72,372.16 157.44,372.03 C157.17,371.90 156.92,371.53 156.68,371.21 C156.44,370.90 156.03,370.62 156.00,370.15 C155.98,369.68 156.36,368.93 156.51,368.39 C156.66,367.85 156.70,367.51 156.90,366.91 C157.10,366.31 157.36,365.08 157.69,364.79 C158.03,364.50 158.51,365.27 158.92,365.17 C159.33,365.07 159.85,364.14 160.17,364.19 C160.49,364.23 160.64,364.93 160.86,365.42 C161.07,365.90 161.33,366.54 161.47,367.11 C161.61,367.67 161.78,368.23 161.69,368.78Z" fill="#4a0808" filter="url(#b05)"/>
<path d="M161.63,368.78 C161.54,369.32 161.22,369.98 160.92,370.40 C160.62,370.81 160.26,371.01 159.83,371.26 C159.41,371.52 158.74,371.79 158.34,371.91 C157.95,372.02 157.74,372.08 157.47,371.95 C157.20,371.83 156.96,371.46 156.73,371.15 C156.50,370.85 156.09,370.57 156.07,370.11 C156.04,369.65 156.41,368.92 156.56,368.40 C156.71,367.87 156.75,367.53 156.94,366.95 C157.13,366.36 157.39,365.16 157.72,364.87 C158.05,364.59 158.51,365.34 158.92,365.24 C159.32,365.14 159.82,364.24 160.14,364.28 C160.45,364.32 160.60,365.01 160.81,365.48 C161.02,365.96 161.28,366.59 161.42,367.14 C161.55,367.68 161.71,368.23 161.63,368.78Z" fill="none" stroke="#f02c1e" stroke-width="1.3" stroke-dasharray="2.2 0.45" filter="url(#b05)"/>
<path d="M150.38,379.57 C150.41,380.02 150.82,380.50 150.69,380.88 C150.56,381.26 150.10,381.62 149.59,381.86 C149.09,382.11 148.17,382.17 147.65,382.34 C147.14,382.50 146.85,382.87 146.51,382.85 C146.18,382.83 146.01,382.55 145.65,382.21 C145.30,381.87 144.58,381.29 144.38,380.83 C144.18,380.37 144.40,379.83 144.46,379.45 C144.51,379.07 144.62,379.00 144.71,378.55 C144.80,378.09 144.69,377.12 145.01,376.72 C145.32,376.32 146.10,376.24 146.59,376.15 C147.09,376.06 147.59,376.02 147.98,376.18 C148.37,376.33 148.52,376.75 148.93,377.09 C149.35,377.44 150.24,377.81 150.48,378.23 C150.73,378.64 150.35,379.13 150.38,379.57Z" fill="#4a0808" filter="url(#b05)"/>
<path d="M150.31,379.57 C150.35,380.01 150.74,380.48 150.61,380.85 C150.48,381.23 150.04,381.58 149.54,381.82 C149.05,382.05 148.15,382.12 147.65,382.28 C147.14,382.44 146.86,382.80 146.53,382.78 C146.20,382.76 146.04,382.48 145.69,382.15 C145.34,381.82 144.64,381.26 144.45,380.81 C144.25,380.36 144.47,379.82 144.52,379.45 C144.57,379.08 144.68,379.02 144.77,378.57 C144.86,378.13 144.75,377.17 145.06,376.78 C145.36,376.39 146.12,376.31 146.61,376.23 C147.09,376.14 147.58,376.10 147.97,376.25 C148.35,376.41 148.49,376.81 148.90,377.15 C149.31,377.48 150.18,377.85 150.41,378.26 C150.65,378.66 150.28,379.14 150.31,379.57Z" fill="none" stroke="#f02c1e" stroke-width="1.3" stroke-dasharray="2.2 0.45" filter="url(#b05)"/>
<path d="M185.97,380.15 C185.99,380.52 185.64,380.85 185.47,381.29 C185.29,381.74 185.25,382.57 184.94,382.80 C184.63,383.03 184.00,382.66 183.59,382.66 C183.17,382.66 182.88,382.76 182.47,382.80 C182.06,382.84 181.43,383.19 181.14,382.88 C180.86,382.56 180.93,381.41 180.75,380.91 C180.57,380.40 180.09,380.16 180.06,379.84 C180.04,379.52 180.39,379.33 180.61,378.99 C180.83,378.64 181.07,378.08 181.39,377.76 C181.71,377.43 182.19,377.18 182.54,377.04 C182.90,376.90 183.04,376.81 183.54,376.92 C184.03,377.03 185.22,377.33 185.52,377.69 C185.83,378.06 185.30,378.67 185.37,379.08 C185.44,379.49 185.96,379.78 185.97,380.15Z" fill="#4a0808" filter="url(#b05)"/>
<path d="M185.91,380.15 C185.93,380.51 185.58,380.84 185.41,381.27 C185.25,381.70 185.21,382.52 184.90,382.74 C184.59,382.96 183.98,382.60 183.57,382.60 C183.17,382.60 182.88,382.70 182.48,382.74 C182.09,382.78 181.47,383.13 181.19,382.82 C180.91,382.51 180.97,381.38 180.80,380.89 C180.62,380.39 180.15,380.16 180.13,379.84 C180.11,379.53 180.45,379.35 180.66,379.01 C180.88,378.67 181.11,378.13 181.43,377.81 C181.74,377.49 182.21,377.25 182.56,377.11 C182.91,376.97 183.04,376.88 183.53,376.99 C184.01,377.09 185.17,377.39 185.47,377.75 C185.77,378.10 185.25,378.70 185.32,379.10 C185.39,379.50 185.89,379.79 185.91,380.15Z" fill="none" stroke="#f02c1e" stroke-width="1.3" stroke-dasharray="2.2 0.45" filter="url(#b05)"/>
<path d="M213.59,384.46 C213.59,385.02 213.22,385.73 213.01,386.17 C212.81,386.60 212.66,386.86 212.36,387.10 C212.07,387.33 211.75,387.45 211.26,387.59 C210.76,387.73 209.84,388.02 209.40,387.93 C208.97,387.83 209.02,387.28 208.66,387.02 C208.31,386.76 207.44,386.79 207.26,386.35 C207.08,385.91 207.60,385.01 207.58,384.37 C207.57,383.73 207.03,382.93 207.15,382.51 C207.27,382.08 207.92,381.90 208.31,381.81 C208.70,381.71 209.05,381.93 209.49,381.94 C209.92,381.94 210.52,381.81 210.93,381.84 C211.34,381.86 211.61,381.91 211.96,382.07 C212.30,382.24 212.72,382.41 212.99,382.81 C213.26,383.20 213.58,383.90 213.59,384.46Z" fill="#4a0808" filter="url(#b05)"/>
<path d="M213.51,384.46 C213.52,385.01 213.15,385.70 212.95,386.13 C212.75,386.56 212.60,386.81 212.32,387.04 C212.03,387.27 211.72,387.39 211.23,387.52 C210.75,387.66 209.85,387.94 209.42,387.85 C209.00,387.76 209.05,387.22 208.70,386.97 C208.35,386.71 207.50,386.74 207.33,386.31 C207.15,385.88 207.66,385.00 207.64,384.38 C207.63,383.75 207.10,382.97 207.22,382.55 C207.34,382.13 207.97,381.96 208.35,381.87 C208.74,381.77 209.08,381.99 209.51,381.99 C209.93,382.00 210.51,381.87 210.91,381.89 C211.32,381.92 211.58,381.97 211.92,382.13 C212.26,382.28 212.67,382.45 212.93,382.84 C213.20,383.23 213.51,383.92 213.51,384.46Z" fill="none" stroke="#f02c1e" stroke-width="1.3" stroke-dasharray="2.2 0.45" filter="url(#b05)"/>
<path d="M227.27,375.86 C227.33,376.09 227.31,376.56 227.20,376.74 C227.10,376.92 226.84,376.83 226.64,376.94 C226.45,377.06 226.23,377.35 226.04,377.43 C225.86,377.52 225.73,377.48 225.54,377.44 C225.35,377.41 225.02,377.34 224.89,377.20 C224.75,377.07 224.79,376.86 224.73,376.64 C224.66,376.42 224.55,376.08 224.49,375.87 C224.44,375.67 224.30,375.56 224.39,375.42 C224.49,375.28 224.89,375.17 225.07,375.03 C225.26,374.89 225.34,374.65 225.49,374.58 C225.65,374.50 225.84,374.51 226.01,374.56 C226.18,374.62 226.38,374.78 226.52,374.91 C226.66,375.04 226.73,375.19 226.86,375.35 C226.98,375.51 227.21,375.63 227.27,375.86Z" fill="#4a0808" filter="url(#b05)"/>
<path d="M227.24,375.86 C227.29,376.09 227.28,376.55 227.17,376.72 C227.07,376.90 226.81,376.81 226.62,376.92 C226.43,377.04 226.22,377.32 226.04,377.40 C225.86,377.48 225.74,377.45 225.55,377.41 C225.36,377.37 225.04,377.31 224.91,377.18 C224.78,377.05 224.82,376.85 224.75,376.63 C224.69,376.41 224.58,376.08 224.52,375.88 C224.47,375.68 224.33,375.57 224.42,375.43 C224.52,375.29 224.91,375.18 225.09,375.05 C225.27,374.91 225.35,374.68 225.50,374.61 C225.65,374.53 225.84,374.54 226.00,374.60 C226.17,374.65 226.36,374.81 226.50,374.94 C226.64,375.06 226.71,375.21 226.84,375.37 C226.96,375.52 227.18,375.64 227.24,375.86Z" fill="none" stroke="#f02c1e" stroke-width="1.3" stroke-dasharray="2.2 0.45" filter="url(#b05)"/>
<path d="M180.82,390.44 C180.76,390.78 180.85,391.02 180.62,391.28 C180.38,391.54 179.79,391.73 179.41,392.00 C179.02,392.26 178.80,392.69 178.31,392.86 C177.83,393.03 176.91,393.14 176.50,393.02 C176.08,392.90 176.13,392.48 175.83,392.16 C175.52,391.84 174.91,391.41 174.69,391.11 C174.47,390.80 174.57,390.72 174.50,390.33 C174.43,389.94 174.03,389.08 174.27,388.75 C174.50,388.41 175.42,388.49 175.93,388.31 C176.45,388.13 176.95,387.77 177.35,387.68 C177.76,387.58 177.98,387.61 178.37,387.74 C178.76,387.87 179.27,388.24 179.70,388.48 C180.13,388.72 180.76,388.86 180.95,389.19 C181.14,389.51 180.87,390.09 180.82,390.44Z" fill="#4a0808" filter="url(#b05)"/>
<path d="M180.75,390.43 C180.70,390.77 180.79,391.00 180.56,391.26 C180.33,391.51 179.75,391.70 179.37,391.96 C179.00,392.21 178.78,392.64 178.30,392.80 C177.83,392.97 176.93,393.07 176.53,392.96 C176.12,392.84 176.16,392.43 175.87,392.12 C175.57,391.80 174.98,391.39 174.76,391.09 C174.54,390.79 174.64,390.71 174.57,390.33 C174.50,389.94 174.11,389.11 174.34,388.78 C174.58,388.45 175.47,388.53 175.97,388.35 C176.48,388.18 176.97,387.83 177.36,387.73 C177.76,387.64 177.98,387.66 178.36,387.79 C178.74,387.92 179.24,388.28 179.66,388.52 C180.08,388.75 180.70,388.89 180.88,389.21 C181.06,389.53 180.81,390.09 180.75,390.43Z" fill="none" stroke="#f02c1e" stroke-width="1.3" stroke-dasharray="2.2 0.45" filter="url(#b05)"/>
<path d="M196.93,388.31 C196.88,388.72 196.75,389.10 196.55,389.46 C196.35,389.83 196.11,390.25 195.73,390.51 C195.36,390.77 194.78,390.97 194.29,391.02 C193.81,391.07 193.33,390.95 192.83,390.82 C192.32,390.69 191.73,390.49 191.25,390.24 C190.77,390.00 190.35,389.67 189.95,389.33 C189.56,388.99 188.99,388.53 188.87,388.19 C188.76,387.85 188.92,387.62 189.26,387.28 C189.61,386.93 190.51,386.34 190.96,386.13 C191.41,385.91 191.45,385.99 191.97,385.98 C192.49,385.96 193.54,385.98 194.08,386.05 C194.62,386.12 194.75,386.24 195.20,386.40 C195.66,386.56 196.52,386.69 196.80,387.01 C197.09,387.33 196.97,387.91 196.93,388.31Z" fill="#4a0808" filter="url(#b05)"/>
<path d="M196.85,388.32 C196.80,388.72 196.67,389.08 196.48,389.44 C196.28,389.80 196.05,390.21 195.68,390.46 C195.31,390.72 194.74,390.91 194.27,390.96 C193.80,391.01 193.33,390.89 192.83,390.76 C192.34,390.64 191.76,390.45 191.29,390.20 C190.82,389.96 190.41,389.64 190.02,389.31 C189.64,388.97 189.08,388.53 188.97,388.20 C188.86,387.86 189.01,387.64 189.35,387.30 C189.69,386.96 190.57,386.39 191.01,386.17 C191.45,385.96 191.49,386.04 192.00,386.03 C192.51,386.02 193.54,386.03 194.06,386.10 C194.59,386.17 194.72,386.28 195.16,386.44 C195.60,386.60 196.44,386.73 196.72,387.04 C197.01,387.35 196.89,387.92 196.85,388.32Z" fill="none" stroke="#f02c1e" stroke-width="1.3" stroke-dasharray="2.2 0.45" filter="url(#b05)"/>
<path d="M179.63,403.55 C179.63,403.98 179.19,404.36 179.01,404.82 C178.82,405.27 178.88,406.06 178.52,406.28 C178.17,406.50 177.36,406.12 176.87,406.13 C176.38,406.13 176.03,406.37 175.61,406.32 C175.19,406.26 174.70,406.02 174.35,405.79 C174.00,405.57 173.76,405.34 173.51,404.96 C173.25,404.59 172.80,403.98 172.81,403.55 C172.81,403.12 173.36,402.81 173.54,402.39 C173.72,401.96 173.60,401.39 173.89,401.00 C174.17,400.61 174.71,400.13 175.24,400.03 C175.76,399.94 176.56,400.33 177.02,400.41 C177.47,400.49 177.67,400.19 177.99,400.49 C178.32,400.79 178.70,401.72 178.98,402.23 C179.25,402.74 179.62,403.12 179.63,403.55Z" fill="#4a0808" filter="url(#b05)"/>
<path d="M179.55,403.55 C179.56,403.97 179.12,404.34 178.94,404.79 C178.76,405.23 178.82,406.01 178.47,406.22 C178.12,406.43 177.33,406.06 176.85,406.07 C176.38,406.07 176.03,406.31 175.62,406.25 C175.21,406.20 174.73,405.96 174.39,405.74 C174.04,405.52 173.81,405.30 173.56,404.93 C173.31,404.57 172.87,403.97 172.88,403.55 C172.89,403.13 173.42,402.83 173.60,402.41 C173.77,401.99 173.66,401.43 173.93,401.05 C174.21,400.67 174.74,400.20 175.26,400.11 C175.77,400.01 176.55,400.40 177.00,400.48 C177.44,400.55 177.63,400.26 177.95,400.56 C178.27,400.85 178.65,401.75 178.91,402.25 C179.18,402.75 179.55,403.12 179.55,403.55Z" fill="none" stroke="#f02c1e" stroke-width="1.3" stroke-dasharray="2.2 0.45" filter="url(#b05)"/>
<path d="M167.51,411.73 C167.65,412.28 167.49,412.83 167.29,413.20 C167.10,413.56 166.80,413.61 166.35,413.91 C165.89,414.21 165.05,414.95 164.56,415.00 C164.07,415.04 163.87,414.28 163.42,414.17 C162.96,414.07 162.14,414.59 161.82,414.39 C161.50,414.19 161.66,413.52 161.51,412.96 C161.37,412.41 160.99,411.51 160.95,411.06 C160.92,410.61 161.05,410.65 161.29,410.28 C161.54,409.91 162.11,409.21 162.45,408.85 C162.78,408.49 162.86,408.22 163.30,408.14 C163.73,408.05 164.61,408.25 165.04,408.33 C165.47,408.41 165.65,408.36 165.89,408.63 C166.12,408.89 166.18,409.41 166.45,409.92 C166.72,410.44 167.37,411.19 167.51,411.73Z" fill="#4a0808" filter="url(#b05)"/>
<path d="M167.43,411.73 C167.57,412.26 167.41,412.80 167.22,413.16 C167.03,413.51 166.75,413.56 166.30,413.85 C165.85,414.15 165.03,414.88 164.55,414.92 C164.07,414.96 163.88,414.21 163.43,414.11 C162.98,414.02 162.18,414.52 161.87,414.32 C161.56,414.13 161.71,413.47 161.57,412.93 C161.43,412.39 161.06,411.50 161.02,411.07 C160.99,410.63 161.11,410.67 161.36,410.31 C161.60,409.95 162.16,409.25 162.48,408.90 C162.81,408.55 162.89,408.29 163.31,408.21 C163.74,408.12 164.60,408.32 165.02,408.40 C165.44,408.48 165.62,408.43 165.85,408.69 C166.08,408.95 166.14,409.45 166.40,409.96 C166.66,410.46 167.30,411.19 167.43,411.73Z" fill="none" stroke="#f02c1e" stroke-width="1.3" stroke-dasharray="2.2 0.45" filter="url(#b05)"/>
<path d="M182.42,411.43 C182.41,411.84 182.02,412.67 181.85,413.14 C181.69,413.60 181.80,413.96 181.42,414.24 C181.04,414.51 180.06,414.77 179.57,414.81 C179.08,414.85 178.80,414.57 178.46,414.48 C178.12,414.38 177.83,414.52 177.53,414.24 C177.23,413.97 176.88,413.27 176.67,412.81 C176.46,412.35 176.27,411.85 176.26,411.50 C176.26,411.15 176.48,411.15 176.65,410.71 C176.83,410.26 176.99,409.20 177.32,408.82 C177.66,408.45 178.31,408.49 178.66,408.48 C179.02,408.47 179.08,408.59 179.43,408.77 C179.79,408.96 180.38,409.25 180.79,409.57 C181.21,409.89 181.65,410.39 181.92,410.70 C182.19,411.01 182.43,411.03 182.42,411.43Z" fill="#4a0808" filter="url(#b05)"/>
<path d="M182.35,411.44 C182.34,411.84 181.96,412.65 181.79,413.11 C181.63,413.56 181.74,413.91 181.37,414.18 C181.00,414.45 180.04,414.70 179.56,414.74 C179.08,414.78 178.81,414.51 178.48,414.41 C178.14,414.32 177.85,414.46 177.56,414.19 C177.27,413.92 176.93,413.23 176.72,412.78 C176.52,412.34 176.33,411.85 176.33,411.50 C176.32,411.16 176.53,411.17 176.70,410.73 C176.88,410.29 177.03,409.25 177.36,408.89 C177.69,408.52 178.33,408.56 178.67,408.55 C179.02,408.54 179.08,408.66 179.42,408.84 C179.77,409.01 180.35,409.30 180.76,409.62 C181.16,409.93 181.59,410.42 181.86,410.72 C182.12,411.03 182.36,411.04 182.35,411.44Z" fill="none" stroke="#f02c1e" stroke-width="1.3" stroke-dasharray="2.2 0.45" filter="url(#b05)"/>
</g>
<text x="145.90" y="332.20" font-size="7.3" fill="#ee2a22" stroke="#ee2a22" stroke-width="0.22" transform="translate(145.90 332.20) scale(1 1.08) translate(-145.90 -332.20)">ESPL1</text>
<rect x="207.60" y="404.30" width="12.3" height="1.9" fill="#fff"/>
<rect x="238.20" y="324.70" width="89.3" height="89.1" fill="#000"/>
<g clip-path="url(#cE3)">
<path d="M299.98,333.10 C299.93,333.56 299.42,333.69 299.15,334.06 C298.89,334.43 298.76,335.01 298.38,335.30 C298.01,335.60 297.33,335.71 296.88,335.84 C296.43,335.98 296.13,336.22 295.66,336.11 C295.20,336.00 294.50,335.44 294.10,335.17 C293.69,334.91 293.37,334.93 293.25,334.52 C293.13,334.11 293.40,333.33 293.38,332.71 C293.36,332.09 292.97,331.30 293.12,330.80 C293.27,330.30 293.90,329.94 294.29,329.70 C294.67,329.46 294.91,329.41 295.45,329.37 C295.99,329.33 297.05,329.27 297.50,329.47 C297.96,329.67 297.84,330.26 298.16,330.56 C298.49,330.86 299.16,330.84 299.46,331.27 C299.76,331.69 300.03,332.63 299.98,333.10Z" fill="#3018ff" filter="url(#b05)"/>
<path d="M299.69,333.07 C299.64,333.50 299.18,333.62 298.93,333.96 C298.69,334.30 298.57,334.83 298.23,335.10 C297.88,335.37 297.26,335.47 296.84,335.60 C296.42,335.72 296.15,335.95 295.72,335.85 C295.30,335.74 294.65,335.22 294.28,334.98 C293.91,334.74 293.62,334.76 293.51,334.39 C293.40,334.01 293.64,333.29 293.62,332.72 C293.60,332.15 293.24,331.42 293.38,330.96 C293.52,330.50 294.10,330.17 294.45,329.95 C294.81,329.73 295.03,329.68 295.53,329.65 C296.02,329.61 297.00,329.56 297.42,329.74 C297.83,329.92 297.72,330.46 298.02,330.74 C298.32,331.01 298.94,331.00 299.22,331.39 C299.49,331.78 299.74,332.64 299.69,333.07Z" fill="none" stroke="#e030d0" stroke-width="1.0" stroke-dasharray="2 0.6" opacity="0.9" filter="url(#b05)"/>
<path d="M254.70,346.38 C254.73,347.20 253.48,348.52 253.04,349.28 C252.59,350.05 252.58,350.41 252.05,350.97 C251.53,351.53 250.52,352.56 249.89,352.62 C249.25,352.68 249.01,351.64 248.24,351.31 C247.46,350.99 245.84,351.14 245.26,350.68 C244.67,350.22 245.08,349.17 244.72,348.56 C244.36,347.94 243.36,347.63 243.10,346.97 C242.84,346.32 242.60,345.25 243.14,344.62 C243.69,343.98 245.72,343.63 246.37,343.17 C247.02,342.70 246.34,342.01 247.02,341.83 C247.70,341.65 249.66,341.95 250.45,342.09 C251.23,342.23 251.33,342.28 251.74,342.66 C252.14,343.03 252.37,343.72 252.86,344.34 C253.36,344.96 254.67,345.56 254.70,346.38Z" fill="#2010a0" filter="url(#b05)"/>
<path d="M254.41,346.41 C254.44,347.19 253.24,348.44 252.82,349.16 C252.40,349.89 252.39,350.24 251.89,350.77 C251.39,351.29 250.44,352.28 249.83,352.33 C249.23,352.39 249.00,351.40 248.26,351.09 C247.53,350.79 245.99,350.92 245.43,350.49 C244.88,350.05 245.27,349.06 244.92,348.47 C244.58,347.89 243.64,347.60 243.39,346.97 C243.14,346.35 242.91,345.33 243.42,344.73 C243.94,344.13 245.88,343.79 246.49,343.35 C247.11,342.91 246.46,342.25 247.11,342.08 C247.75,341.91 249.62,342.20 250.36,342.33 C251.11,342.46 251.21,342.51 251.59,342.87 C251.97,343.23 252.19,343.88 252.66,344.47 C253.13,345.06 254.38,345.62 254.41,346.41Z" fill="#0a0440" opacity="0.8" filter="url(#tx2)"/>
<path d="M299.24,345.27 C299.17,345.71 298.33,345.39 297.99,345.87 C297.66,346.34 297.63,347.73 297.23,348.12 C296.84,348.50 296.16,348.13 295.63,348.20 C295.10,348.27 294.51,348.66 294.05,348.52 C293.60,348.37 293.28,347.67 292.91,347.32 C292.54,346.96 292.18,346.86 291.81,346.40 C291.44,345.94 290.68,345.17 290.68,344.57 C290.68,343.97 291.45,343.22 291.81,342.82 C292.17,342.41 292.48,342.32 292.84,342.16 C293.20,342.01 293.49,341.99 293.98,341.87 C294.46,341.74 295.15,341.48 295.74,341.41 C296.33,341.34 297.07,341.15 297.52,341.45 C297.96,341.74 298.13,342.55 298.41,343.18 C298.70,343.82 299.31,344.82 299.24,345.27Z" fill="#3420e0" filter="url(#b05)"/>
<path d="M299.03,345.24 C298.96,345.67 298.16,345.36 297.84,345.81 C297.53,346.26 297.49,347.58 297.12,347.95 C296.75,348.32 296.10,347.97 295.60,348.03 C295.10,348.09 294.53,348.47 294.10,348.33 C293.67,348.19 293.37,347.53 293.02,347.19 C292.66,346.86 292.33,346.76 291.97,346.32 C291.62,345.89 290.90,345.15 290.90,344.58 C290.90,344.01 291.63,343.30 291.97,342.91 C292.31,342.53 292.60,342.45 292.95,342.30 C293.29,342.15 293.57,342.13 294.03,342.01 C294.49,341.90 295.15,341.65 295.71,341.58 C296.27,341.51 296.97,341.33 297.39,341.62 C297.82,341.90 297.97,342.66 298.24,343.26 C298.51,343.87 299.09,344.82 299.03,345.24Z" fill="#0a0440" opacity="0.7" filter="url(#tx2)"/>
<path d="M298.90,345.23 C298.83,345.64 298.06,345.34 297.75,345.78 C297.45,346.22 297.42,347.49 297.05,347.85 C296.69,348.21 296.07,347.87 295.58,347.93 C295.09,347.99 294.54,348.35 294.13,348.22 C293.71,348.08 293.42,347.44 293.08,347.12 C292.74,346.79 292.41,346.69 292.07,346.27 C291.73,345.85 291.03,345.14 291.03,344.59 C291.03,344.04 291.74,343.34 292.07,342.97 C292.40,342.61 292.68,342.52 293.01,342.37 C293.34,342.23 293.61,342.22 294.06,342.10 C294.50,341.99 295.14,341.74 295.68,341.68 C296.23,341.62 296.91,341.44 297.32,341.72 C297.73,341.99 297.88,342.73 298.14,343.31 C298.40,343.90 298.96,344.82 298.90,345.23Z" fill="none" stroke="#e030d0" stroke-width="1.0" stroke-dasharray="2 0.6" opacity="0.9" filter="url(#b05)"/>
<path d="M291.08,352.91 C291.02,353.26 290.95,353.91 290.52,354.17 C290.10,354.44 288.98,354.31 288.51,354.52 C288.04,354.72 288.21,355.40 287.72,355.41 C287.22,355.41 286.29,354.85 285.55,354.53 C284.82,354.21 283.80,353.85 283.29,353.50 C282.79,353.14 282.59,352.73 282.53,352.37 C282.47,352.02 282.91,351.77 282.94,351.35 C282.97,350.94 282.49,350.25 282.71,349.90 C282.94,349.56 283.67,349.31 284.30,349.29 C284.93,349.26 285.80,349.69 286.50,349.77 C287.20,349.84 288.05,349.57 288.50,349.74 C288.95,349.90 288.79,350.37 289.19,350.76 C289.58,351.14 290.55,351.69 290.87,352.05 C291.18,352.40 291.14,352.55 291.08,352.91Z" fill="#3018ff" filter="url(#b05)"/>
<path d="M290.73,352.85 C290.68,353.18 290.61,353.77 290.22,354.02 C289.82,354.26 288.80,354.14 288.37,354.33 C287.94,354.52 288.09,355.15 287.63,355.15 C287.18,355.15 286.32,354.64 285.65,354.34 C284.97,354.05 284.03,353.72 283.56,353.39 C283.10,353.06 282.92,352.69 282.87,352.36 C282.81,352.03 283.21,351.80 283.24,351.42 C283.27,351.04 282.82,350.40 283.03,350.09 C283.24,349.77 283.91,349.54 284.49,349.52 C285.07,349.50 285.87,349.89 286.52,349.96 C287.16,350.03 287.94,349.78 288.35,349.94 C288.77,350.09 288.63,350.52 288.99,350.87 C289.35,351.23 290.25,351.73 290.54,352.06 C290.83,352.39 290.78,352.52 290.73,352.85Z" fill="none" stroke="#e030d0" stroke-width="1.0" stroke-dasharray="2 0.6" opacity="0.9" filter="url(#b05)"/>
<path d="M308.65,352.42 C308.56,352.86 308.56,353.39 308.46,353.80 C308.35,354.21 308.40,354.47 308.04,354.87 C307.67,355.28 306.76,356.11 306.25,356.21 C305.74,356.31 305.35,355.67 304.95,355.46 C304.56,355.26 304.15,355.21 303.88,354.97 C303.61,354.73 303.64,354.39 303.33,354.04 C303.02,353.69 302.14,353.40 302.03,352.86 C301.92,352.31 302.30,351.21 302.65,350.76 C303.00,350.32 303.76,350.41 304.13,350.16 C304.50,349.91 304.43,349.47 304.88,349.28 C305.33,349.10 306.34,348.83 306.82,349.05 C307.30,349.26 307.40,350.20 307.76,350.55 C308.12,350.91 308.84,350.85 308.98,351.17 C309.13,351.48 308.74,351.98 308.65,352.42Z" fill="#3018ff" filter="url(#b05)"/>
<path d="M308.42,352.43 C308.34,352.84 308.34,353.33 308.24,353.70 C308.15,354.08 308.20,354.32 307.86,354.69 C307.52,355.06 306.69,355.83 306.21,355.92 C305.74,356.01 305.38,355.43 305.02,355.24 C304.66,355.05 304.28,355.00 304.03,354.78 C303.78,354.56 303.81,354.25 303.53,353.92 C303.24,353.60 302.43,353.34 302.33,352.84 C302.23,352.34 302.58,351.33 302.90,350.91 C303.23,350.50 303.92,350.58 304.26,350.36 C304.60,350.13 304.54,349.72 304.96,349.55 C305.37,349.38 306.30,349.14 306.74,349.33 C307.18,349.53 307.27,350.39 307.61,350.72 C307.94,351.04 308.59,350.99 308.73,351.28 C308.87,351.57 308.50,352.03 308.42,352.43Z" fill="none" stroke="#e030d0" stroke-width="1.0" stroke-dasharray="2 0.6" opacity="0.9" filter="url(#b05)"/>
<path d="M320.76,355.90 C320.79,356.53 320.72,357.15 320.50,357.63 C320.27,358.11 319.77,358.59 319.41,358.79 C319.06,358.98 318.88,358.75 318.35,358.78 C317.81,358.82 316.70,359.14 316.21,358.98 C315.71,358.82 315.62,358.11 315.37,357.80 C315.11,357.48 314.90,357.43 314.67,357.09 C314.45,356.75 314.04,356.14 314.02,355.77 C314.00,355.39 314.42,355.31 314.57,354.86 C314.71,354.41 314.49,353.38 314.87,353.07 C315.25,352.76 316.31,353.00 316.85,353.01 C317.39,353.01 317.74,353.01 318.12,353.11 C318.49,353.22 318.73,353.54 319.10,353.67 C319.47,353.79 320.06,353.49 320.34,353.86 C320.61,354.23 320.74,355.27 320.76,355.90Z" fill="#3018ff" filter="url(#b05)"/>
<path d="M278.04,361.72 C277.98,362.24 277.14,362.57 276.90,363.02 C276.66,363.48 276.98,363.98 276.58,364.44 C276.19,364.89 275.18,365.52 274.52,365.74 C273.87,365.97 273.24,365.90 272.64,365.79 C272.03,365.68 271.35,365.56 270.88,365.08 C270.41,364.61 270.11,363.55 269.82,362.93 C269.54,362.31 269.18,361.87 269.15,361.36 C269.11,360.85 269.25,360.38 269.62,359.87 C269.99,359.36 270.83,358.75 271.37,358.29 C271.91,357.82 272.29,357.19 272.84,357.09 C273.39,357.00 274.15,357.62 274.67,357.71 C275.19,357.80 275.53,357.24 275.96,357.61 C276.39,357.98 276.90,359.24 277.24,359.92 C277.59,360.61 278.09,361.20 278.04,361.72Z" fill="#2010a0" filter="url(#b05)"/>
<path d="M277.81,361.70 C277.76,362.19 276.96,362.51 276.73,362.94 C276.50,363.37 276.81,363.85 276.43,364.28 C276.05,364.71 275.10,365.31 274.47,365.53 C273.85,365.74 273.26,365.68 272.68,365.57 C272.10,365.47 271.45,365.35 271.01,364.90 C270.56,364.45 270.28,363.44 270.01,362.85 C269.73,362.26 269.40,361.85 269.36,361.36 C269.33,360.88 269.46,360.43 269.81,359.95 C270.16,359.46 270.97,358.88 271.48,358.44 C271.99,358.00 272.35,357.40 272.87,357.31 C273.40,357.22 274.12,357.81 274.61,357.89 C275.10,357.98 275.43,357.45 275.84,357.80 C276.24,358.15 276.73,359.35 277.06,360.00 C277.38,360.65 277.86,361.21 277.81,361.70Z" fill="#0a0440" opacity="0.8" filter="url(#tx2)"/>
<path d="M301.11,365.68 C300.99,366.19 300.86,366.68 300.69,367.11 C300.53,367.55 300.38,367.98 300.14,368.28 C299.91,368.58 299.66,368.81 299.27,368.93 C298.89,369.05 298.27,369.13 297.84,369.00 C297.40,368.88 297.15,368.45 296.67,368.19 C296.18,367.93 295.17,367.80 294.93,367.45 C294.69,367.10 295.24,366.64 295.22,366.07 C295.21,365.50 294.65,364.51 294.83,364.05 C295.00,363.58 295.75,363.44 296.26,363.27 C296.77,363.10 297.41,363.09 297.89,363.03 C298.37,362.96 298.82,362.82 299.14,362.88 C299.45,362.95 299.41,363.21 299.79,363.41 C300.17,363.61 301.20,363.69 301.42,364.06 C301.64,364.44 301.23,365.17 301.11,365.68Z" fill="#2010a0" filter="url(#b05)"/>
<path d="M300.96,365.68 C300.85,366.17 300.72,366.64 300.57,367.05 C300.42,367.46 300.27,367.87 300.05,368.16 C299.82,368.44 299.59,368.66 299.22,368.77 C298.85,368.89 298.27,368.96 297.85,368.84 C297.44,368.73 297.20,368.32 296.74,368.07 C296.28,367.83 295.32,367.70 295.09,367.37 C294.86,367.03 295.39,366.60 295.37,366.06 C295.36,365.52 294.83,364.58 294.99,364.13 C295.16,363.69 295.87,363.56 296.36,363.40 C296.84,363.24 297.45,363.23 297.91,363.16 C298.36,363.10 298.79,362.97 299.09,363.03 C299.39,363.09 299.35,363.34 299.71,363.53 C300.07,363.72 301.05,363.79 301.26,364.15 C301.46,364.51 301.07,365.20 300.96,365.68Z" fill="#0a0440" opacity="0.8" filter="url(#tx2)"/>
<path d="M257.24,368.81 C257.15,369.41 256.78,370.15 256.45,370.61 C256.12,371.07 255.72,371.29 255.25,371.57 C254.77,371.85 254.03,372.16 253.59,372.28 C253.16,372.41 252.92,372.47 252.62,372.33 C252.32,372.20 252.06,371.79 251.80,371.45 C251.54,371.11 251.09,370.80 251.06,370.29 C251.03,369.78 251.45,368.97 251.61,368.38 C251.77,367.80 251.82,367.43 252.04,366.77 C252.25,366.12 252.53,364.79 252.90,364.47 C253.26,364.16 253.78,364.99 254.23,364.88 C254.68,364.77 255.24,363.77 255.59,363.81 C255.94,363.85 256.10,364.62 256.33,365.15 C256.57,365.68 256.85,366.37 257.01,366.98 C257.16,367.59 257.33,368.20 257.24,368.81Z" fill="#3018ff" filter="url(#b05)"/>
<path d="M256.99,368.78 C256.91,369.34 256.57,370.01 256.26,370.44 C255.96,370.86 255.59,371.07 255.16,371.33 C254.72,371.58 254.04,371.86 253.63,371.98 C253.23,372.10 253.02,372.16 252.74,372.03 C252.47,371.90 252.22,371.53 251.98,371.21 C251.74,370.90 251.33,370.62 251.30,370.15 C251.28,369.68 251.66,368.93 251.81,368.39 C251.96,367.85 252.00,367.51 252.20,366.91 C252.40,366.31 252.66,365.08 252.99,364.79 C253.33,364.50 253.81,365.27 254.22,365.17 C254.63,365.07 255.15,364.14 255.47,364.19 C255.79,364.23 255.94,364.93 256.16,365.42 C256.37,365.90 256.63,366.54 256.77,367.11 C256.91,367.67 257.08,368.23 256.99,368.78Z" fill="none" stroke="#e030d0" stroke-width="1.0" stroke-dasharray="2 0.6" opacity="0.9" filter="url(#b05)"/>
<path d="M245.95,379.57 C245.99,380.05 246.42,380.58 246.28,380.99 C246.14,381.41 245.64,381.80 245.09,382.06 C244.54,382.33 243.54,382.40 242.99,382.58 C242.43,382.76 242.11,383.16 241.74,383.14 C241.38,383.11 241.19,382.80 240.81,382.44 C240.42,382.07 239.64,381.44 239.43,380.94 C239.21,380.44 239.45,379.85 239.51,379.43 C239.57,379.02 239.69,378.95 239.79,378.46 C239.89,377.96 239.77,376.90 240.11,376.47 C240.45,376.03 241.29,375.95 241.83,375.85 C242.37,375.75 242.92,375.71 243.34,375.88 C243.76,376.05 243.92,376.50 244.38,376.88 C244.83,377.25 245.80,377.66 246.06,378.11 C246.32,378.56 245.91,379.09 245.95,379.57Z" fill="#3018ff" filter="url(#b05)"/>
<path d="M245.68,379.57 C245.71,380.02 246.12,380.50 245.99,380.88 C245.86,381.26 245.40,381.62 244.89,381.86 C244.39,382.11 243.47,382.17 242.95,382.34 C242.44,382.50 242.15,382.87 241.81,382.85 C241.48,382.83 241.31,382.55 240.95,382.21 C240.60,381.87 239.88,381.29 239.68,380.83 C239.48,380.37 239.70,379.83 239.76,379.45 C239.81,379.07 239.92,379.00 240.01,378.55 C240.10,378.09 239.99,377.12 240.31,376.72 C240.62,376.32 241.40,376.24 241.89,376.15 C242.39,376.06 242.89,376.02 243.28,376.18 C243.67,376.33 243.82,376.75 244.23,377.09 C244.65,377.44 245.54,377.81 245.78,378.23 C246.03,378.64 245.65,379.13 245.68,379.57Z" fill="none" stroke="#e030d0" stroke-width="1.0" stroke-dasharray="2 0.6" opacity="0.9" filter="url(#b05)"/>
<path d="M281.52,380.15 C281.54,380.55 281.16,380.92 280.97,381.40 C280.78,381.88 280.74,382.79 280.40,383.04 C280.06,383.28 279.38,382.88 278.93,382.88 C278.48,382.88 278.16,382.99 277.72,383.03 C277.27,383.07 276.59,383.46 276.27,383.12 C275.96,382.78 276.04,381.53 275.84,380.98 C275.65,380.42 275.12,380.16 275.10,379.81 C275.08,379.47 275.45,379.27 275.69,378.89 C275.93,378.51 276.19,377.91 276.54,377.55 C276.89,377.20 277.41,376.93 277.80,376.78 C278.19,376.63 278.33,376.52 278.87,376.64 C279.41,376.76 280.70,377.09 281.03,377.49 C281.37,377.88 280.79,378.55 280.87,378.99 C280.95,379.44 281.50,379.75 281.52,380.15Z" fill="#3018ff" filter="url(#b05)"/>
<path d="M281.27,380.15 C281.29,380.52 280.94,380.85 280.77,381.29 C280.59,381.74 280.55,382.57 280.24,382.80 C279.93,383.03 279.30,382.66 278.89,382.66 C278.47,382.66 278.18,382.76 277.77,382.80 C277.36,382.84 276.73,383.19 276.44,382.88 C276.16,382.56 276.23,381.41 276.05,380.91 C275.87,380.40 275.39,380.16 275.36,379.84 C275.34,379.52 275.69,379.33 275.91,378.99 C276.13,378.64 276.37,378.08 276.69,377.76 C277.01,377.43 277.49,377.18 277.84,377.04 C278.20,376.90 278.34,376.81 278.84,376.92 C279.33,377.03 280.52,377.33 280.82,377.69 C281.13,378.06 280.60,378.67 280.67,379.08 C280.74,379.49 281.26,379.78 281.27,380.15Z" fill="none" stroke="#e030d0" stroke-width="1.0" stroke-dasharray="2 0.6" opacity="0.9" filter="url(#b05)"/>
<path d="M309.17,384.46 C309.17,385.07 308.77,385.83 308.55,386.31 C308.33,386.79 308.16,387.06 307.84,387.32 C307.52,387.58 307.17,387.71 306.64,387.86 C306.10,388.01 305.10,388.33 304.63,388.22 C304.16,388.12 304.21,387.52 303.82,387.24 C303.43,386.95 302.49,386.99 302.30,386.51 C302.10,386.03 302.67,385.06 302.65,384.36 C302.63,383.67 302.04,382.80 302.18,382.33 C302.31,381.87 303.01,381.68 303.44,381.57 C303.86,381.47 304.24,381.71 304.72,381.71 C305.19,381.72 305.83,381.58 306.28,381.60 C306.73,381.63 307.03,381.69 307.40,381.86 C307.77,382.04 308.23,382.23 308.53,382.66 C308.82,383.09 309.17,383.85 309.17,384.46Z" fill="#3018ff" filter="url(#b05)"/>
<path d="M308.89,384.46 C308.89,385.02 308.52,385.73 308.31,386.17 C308.11,386.60 307.96,386.86 307.66,387.10 C307.37,387.33 307.05,387.45 306.56,387.59 C306.06,387.73 305.14,388.02 304.70,387.93 C304.27,387.83 304.32,387.28 303.96,387.02 C303.61,386.76 302.74,386.79 302.56,386.35 C302.38,385.91 302.90,385.01 302.88,384.37 C302.87,383.73 302.33,382.93 302.45,382.51 C302.57,382.08 303.22,381.90 303.61,381.81 C304.00,381.71 304.35,381.93 304.79,381.94 C305.22,381.94 305.82,381.81 306.23,381.84 C306.64,381.86 306.91,381.91 307.26,382.07 C307.60,382.24 308.02,382.41 308.29,382.81 C308.56,383.20 308.88,383.90 308.89,384.46Z" fill="none" stroke="#e030d0" stroke-width="1.0" stroke-dasharray="2 0.6" opacity="0.9" filter="url(#b05)"/>
<path d="M319.86,379.58 C319.86,379.97 319.21,380.50 319.03,380.84 C318.84,381.18 318.98,381.30 318.74,381.62 C318.51,381.95 318.09,382.63 317.61,382.79 C317.13,382.95 316.36,382.71 315.87,382.59 C315.39,382.47 314.98,382.30 314.69,382.05 C314.41,381.80 314.40,381.46 314.17,381.10 C313.94,380.73 313.40,380.31 313.30,379.88 C313.20,379.44 313.37,378.91 313.57,378.48 C313.76,378.06 314.07,377.60 314.47,377.32 C314.86,377.04 315.45,376.82 315.94,376.80 C316.44,376.78 317.02,377.22 317.46,377.21 C317.89,377.19 318.28,376.50 318.54,376.71 C318.80,376.93 318.81,378.01 319.03,378.48 C319.25,378.96 319.86,379.19 319.86,379.58Z" fill="#2010a0" filter="url(#b05)"/>
<path d="M319.70,379.58 C319.70,379.95 319.09,380.45 318.91,380.78 C318.73,381.10 318.86,381.21 318.64,381.52 C318.42,381.83 318.02,382.48 317.57,382.63 C317.11,382.78 316.38,382.56 315.91,382.44 C315.45,382.32 315.06,382.16 314.79,381.92 C314.52,381.69 314.52,381.36 314.30,381.02 C314.08,380.68 313.56,380.28 313.47,379.86 C313.37,379.45 313.54,378.94 313.72,378.54 C313.91,378.13 314.20,377.70 314.58,377.44 C314.95,377.17 315.51,376.96 315.98,376.94 C316.46,376.92 317.01,377.34 317.42,377.33 C317.83,377.31 318.20,376.66 318.45,376.86 C318.70,377.06 318.70,378.09 318.91,378.54 C319.12,378.99 319.70,379.21 319.70,379.58Z" fill="#0a0440" opacity="0.8" filter="url(#tx2)"/>
<path d="M322.32,385.98 C322.32,386.62 322.31,387.67 322.05,388.11 C321.78,388.54 321.15,388.40 320.73,388.60 C320.30,388.80 320.01,389.20 319.49,389.31 C318.98,389.41 318.13,389.32 317.63,389.22 C317.12,389.13 316.82,388.95 316.45,388.73 C316.09,388.50 315.69,388.35 315.41,387.88 C315.13,387.41 314.79,386.36 314.78,385.90 C314.77,385.44 315.20,385.56 315.36,385.12 C315.51,384.67 315.29,383.73 315.71,383.26 C316.14,382.78 317.25,382.40 317.91,382.27 C318.56,382.14 319.10,382.29 319.66,382.48 C320.23,382.66 320.89,383.09 321.29,383.39 C321.68,383.68 321.85,383.81 322.02,384.24 C322.19,384.68 322.32,385.34 322.32,385.98Z" fill="#2010a0" filter="url(#b05)"/>
<path d="M322.13,385.99 C322.13,386.60 322.12,387.60 321.87,388.01 C321.62,388.43 321.02,388.29 320.61,388.48 C320.21,388.67 319.93,389.05 319.44,389.15 C318.95,389.25 318.15,389.17 317.67,389.07 C317.19,388.98 316.91,388.81 316.56,388.60 C316.21,388.39 315.83,388.24 315.57,387.80 C315.30,387.35 314.97,386.35 314.97,385.91 C314.96,385.48 315.37,385.59 315.51,385.17 C315.66,384.75 315.45,383.85 315.85,383.40 C316.26,382.95 317.31,382.59 317.94,382.47 C318.56,382.34 319.07,382.49 319.60,382.66 C320.14,382.84 320.77,383.25 321.15,383.53 C321.52,383.81 321.68,383.93 321.85,384.34 C322.01,384.75 322.13,385.38 322.13,385.99Z" fill="#0a0440" opacity="0.8" filter="url(#tx2)"/>
<path d="M322.70,375.85 C322.76,376.10 322.74,376.61 322.63,376.80 C322.51,377.00 322.23,376.90 322.02,377.03 C321.81,377.15 321.56,377.47 321.36,377.56 C321.17,377.65 321.03,377.61 320.82,377.57 C320.61,377.53 320.26,377.45 320.11,377.31 C319.96,377.16 320.01,376.94 319.93,376.70 C319.86,376.46 319.74,376.08 319.68,375.86 C319.62,375.64 319.46,375.52 319.57,375.37 C319.67,375.22 320.11,375.09 320.31,374.94 C320.51,374.79 320.60,374.54 320.77,374.45 C320.94,374.37 321.14,374.38 321.33,374.44 C321.51,374.50 321.73,374.67 321.88,374.82 C322.03,374.96 322.12,375.12 322.25,375.30 C322.39,375.47 322.63,375.60 322.70,375.85Z" fill="#3018ff" filter="url(#b05)"/>
<path d="M322.57,375.86 C322.63,376.09 322.61,376.56 322.50,376.74 C322.40,376.92 322.14,376.83 321.94,376.94 C321.75,377.06 321.53,377.35 321.34,377.43 C321.16,377.52 321.03,377.48 320.84,377.44 C320.65,377.41 320.32,377.34 320.19,377.20 C320.05,377.07 320.09,376.86 320.03,376.64 C319.96,376.42 319.85,376.08 319.79,375.87 C319.74,375.67 319.60,375.56 319.69,375.42 C319.79,375.28 320.19,375.17 320.37,375.03 C320.56,374.89 320.64,374.65 320.79,374.58 C320.95,374.50 321.14,374.51 321.31,374.56 C321.48,374.62 321.68,374.78 321.82,374.91 C321.96,375.04 322.03,375.19 322.16,375.35 C322.28,375.51 322.51,375.63 322.57,375.86Z" fill="none" stroke="#e030d0" stroke-width="1.0" stroke-dasharray="2 0.6" opacity="0.9" filter="url(#b05)"/>
<path d="M276.38,390.46 C276.32,390.83 276.42,391.09 276.16,391.38 C275.91,391.66 275.27,391.87 274.85,392.15 C274.43,392.44 274.19,392.91 273.66,393.09 C273.13,393.28 272.14,393.39 271.69,393.26 C271.24,393.14 271.28,392.67 270.95,392.33 C270.63,391.98 269.96,391.52 269.72,391.19 C269.48,390.86 269.59,390.77 269.51,390.34 C269.43,389.91 269.00,388.99 269.26,388.62 C269.52,388.25 270.51,388.34 271.07,388.15 C271.63,387.95 272.17,387.56 272.61,387.46 C273.06,387.36 273.30,387.38 273.72,387.53 C274.15,387.67 274.70,388.07 275.16,388.33 C275.63,388.59 276.32,388.75 276.52,389.10 C276.73,389.45 276.44,390.08 276.38,390.46Z" fill="#3018ff" filter="url(#b05)"/>
<path d="M276.12,390.44 C276.06,390.78 276.15,391.02 275.92,391.28 C275.68,391.54 275.09,391.73 274.71,392.00 C274.32,392.26 274.10,392.69 273.61,392.86 C273.13,393.03 272.21,393.14 271.80,393.02 C271.38,392.90 271.43,392.48 271.13,392.16 C270.82,391.84 270.21,391.41 269.99,391.11 C269.77,390.80 269.87,390.72 269.80,390.33 C269.73,389.94 269.33,389.08 269.57,388.75 C269.80,388.41 270.72,388.49 271.23,388.31 C271.75,388.13 272.25,387.77 272.65,387.68 C273.06,387.58 273.28,387.61 273.67,387.74 C274.06,387.87 274.57,388.24 275.00,388.48 C275.43,388.72 276.06,388.86 276.25,389.19 C276.44,389.51 276.17,390.09 276.12,390.44Z" fill="none" stroke="#e030d0" stroke-width="1.0" stroke-dasharray="2 0.6" opacity="0.9" filter="url(#b05)"/>
<path d="M292.55,388.31 C292.51,388.75 292.36,389.16 292.14,389.56 C291.93,389.95 291.66,390.41 291.25,390.69 C290.84,390.97 290.21,391.19 289.69,391.25 C289.16,391.30 288.65,391.17 288.09,391.03 C287.54,390.89 286.90,390.68 286.38,390.41 C285.86,390.14 285.40,389.78 284.97,389.41 C284.54,389.04 283.92,388.54 283.80,388.17 C283.67,387.80 283.84,387.55 284.22,387.18 C284.60,386.81 285.58,386.16 286.07,385.93 C286.56,385.69 286.60,385.78 287.17,385.77 C287.73,385.75 288.87,385.77 289.46,385.85 C290.04,385.92 290.18,386.05 290.68,386.22 C291.17,386.40 292.10,386.54 292.42,386.89 C292.73,387.24 292.60,387.86 292.55,388.31Z" fill="#3018ff" filter="url(#b05)"/>
<path d="M292.23,388.31 C292.18,388.72 292.05,389.10 291.85,389.46 C291.65,389.83 291.41,390.25 291.03,390.51 C290.66,390.77 290.08,390.97 289.59,391.02 C289.11,391.07 288.63,390.95 288.13,390.82 C287.62,390.69 287.03,390.49 286.55,390.24 C286.07,390.00 285.65,389.67 285.25,389.33 C284.86,388.99 284.29,388.53 284.17,388.19 C284.06,387.85 284.22,387.62 284.56,387.28 C284.91,386.93 285.81,386.34 286.26,386.13 C286.71,385.91 286.75,385.99 287.27,385.98 C287.79,385.96 288.84,385.98 289.38,386.05 C289.92,386.12 290.05,386.24 290.50,386.40 C290.96,386.56 291.82,386.69 292.10,387.01 C292.39,387.33 292.27,387.91 292.23,388.31Z" fill="none" stroke="#e030d0" stroke-width="1.0" stroke-dasharray="2 0.6" opacity="0.9" filter="url(#b05)"/>
<path d="M324.85,394.62 C324.72,395.17 324.05,395.78 323.78,396.28 C323.50,396.77 323.54,397.38 323.18,397.58 C322.83,397.79 322.05,397.45 321.64,397.50 C321.24,397.54 321.18,397.94 320.74,397.85 C320.30,397.75 319.44,397.23 319.02,396.92 C318.60,396.60 318.53,396.42 318.23,395.98 C317.92,395.54 317.32,394.78 317.20,394.27 C317.07,393.77 317.27,393.35 317.48,392.96 C317.69,392.57 317.92,392.14 318.46,391.92 C319.00,391.70 320.10,391.74 320.70,391.63 C321.30,391.52 321.61,391.13 322.04,391.26 C322.46,391.39 322.84,392.14 323.26,392.43 C323.68,392.71 324.31,392.60 324.58,392.97 C324.84,393.33 324.99,394.07 324.85,394.62Z" fill="#2010a0" filter="url(#b05)"/>
<path d="M324.67,394.62 C324.54,395.14 323.91,395.72 323.64,396.19 C323.38,396.66 323.41,397.24 323.08,397.43 C322.74,397.63 322.00,397.31 321.62,397.35 C321.23,397.40 321.17,397.78 320.76,397.68 C320.34,397.59 319.52,397.09 319.12,396.80 C318.72,396.50 318.66,396.33 318.37,395.91 C318.08,395.50 317.51,394.77 317.39,394.29 C317.28,393.81 317.46,393.41 317.66,393.04 C317.86,392.67 318.08,392.27 318.59,392.06 C319.10,391.84 320.15,391.88 320.72,391.78 C321.29,391.67 321.59,391.30 321.99,391.43 C322.40,391.55 322.75,392.27 323.15,392.54 C323.55,392.81 324.15,392.70 324.40,393.05 C324.66,393.40 324.79,394.09 324.67,394.62Z" fill="#0a0440" opacity="0.8" filter="url(#tx2)"/>
<path d="M281.17,395.39 C281.14,395.62 280.95,395.80 280.85,396.00 C280.75,396.20 280.71,396.45 280.57,396.59 C280.43,396.73 280.20,396.81 280.01,396.84 C279.83,396.87 279.68,396.82 279.49,396.76 C279.29,396.71 279.03,396.60 278.83,396.49 C278.63,396.38 278.41,396.30 278.29,396.11 C278.17,395.92 278.06,395.54 278.09,395.36 C278.13,395.18 278.39,395.19 278.52,395.02 C278.65,394.85 278.74,394.49 278.87,394.33 C278.99,394.17 279.05,394.13 279.27,394.08 C279.49,394.03 279.99,393.96 280.18,394.02 C280.38,394.07 280.29,394.33 280.44,394.43 C280.59,394.53 280.95,394.47 281.07,394.63 C281.19,394.79 281.21,395.16 281.17,395.39Z" fill="#2010a0" filter="url(#b05)"/>
<path d="M281.10,395.39 C281.06,395.61 280.89,395.78 280.79,395.97 C280.70,396.17 280.66,396.40 280.53,396.54 C280.40,396.67 280.17,396.75 280.00,396.78 C279.83,396.80 279.68,396.76 279.50,396.70 C279.31,396.65 279.07,396.54 278.88,396.44 C278.69,396.34 278.48,396.26 278.36,396.08 C278.24,395.90 278.14,395.54 278.18,395.37 C278.21,395.19 278.45,395.21 278.58,395.04 C278.70,394.88 278.79,394.54 278.91,394.39 C279.03,394.24 279.08,394.20 279.29,394.15 C279.50,394.10 279.97,394.04 280.16,394.09 C280.34,394.15 280.26,394.38 280.40,394.48 C280.55,394.58 280.89,394.52 281.00,394.67 C281.12,394.82 281.13,395.18 281.10,395.39Z" fill="#0a0440" opacity="0.8" filter="url(#tx2)"/>
<path d="M275.24,403.56 C275.24,404.03 274.76,404.45 274.56,404.94 C274.36,405.43 274.42,406.29 274.03,406.53 C273.64,406.77 272.76,406.36 272.24,406.37 C271.71,406.37 271.32,406.63 270.87,406.57 C270.41,406.51 269.88,406.25 269.50,406.00 C269.12,405.76 268.86,405.51 268.58,405.10 C268.30,404.69 267.81,404.03 267.82,403.56 C267.83,403.10 268.43,402.76 268.62,402.30 C268.82,401.84 268.69,401.22 268.99,400.79 C269.30,400.36 269.89,399.85 270.46,399.74 C271.03,399.63 271.90,400.07 272.39,400.15 C272.89,400.23 273.10,399.91 273.46,400.24 C273.81,400.57 274.23,401.57 274.53,402.12 C274.82,402.68 275.23,403.09 275.24,403.56Z" fill="#3420e0" filter="url(#b05)"/>
<path d="M275.04,403.55 C275.05,404.00 274.59,404.39 274.40,404.86 C274.21,405.33 274.27,406.15 273.90,406.38 C273.53,406.60 272.70,406.21 272.19,406.22 C271.69,406.22 271.33,406.47 270.89,406.41 C270.46,406.35 269.95,406.10 269.59,405.87 C269.23,405.64 268.99,405.40 268.72,405.02 C268.46,404.63 267.99,404.00 268.00,403.55 C268.01,403.11 268.57,402.79 268.76,402.35 C268.95,401.91 268.82,401.32 269.11,400.92 C269.41,400.51 269.97,400.02 270.51,399.92 C271.05,399.82 271.87,400.23 272.35,400.31 C272.82,400.39 273.02,400.08 273.35,400.40 C273.69,400.71 274.09,401.66 274.37,402.19 C274.65,402.71 275.04,403.11 275.04,403.55Z" fill="#0a0440" opacity="0.7" filter="url(#tx2)"/>
<path d="M274.93,403.55 C274.93,403.98 274.49,404.36 274.31,404.82 C274.12,405.27 274.18,406.06 273.82,406.28 C273.47,406.50 272.66,406.12 272.17,406.13 C271.68,406.13 271.33,406.37 270.91,406.32 C270.49,406.26 270.00,406.02 269.65,405.79 C269.30,405.57 269.06,405.34 268.81,404.96 C268.55,404.59 268.10,403.98 268.11,403.55 C268.11,403.12 268.66,402.81 268.84,402.39 C269.02,401.96 268.90,401.39 269.19,401.00 C269.47,400.61 270.01,400.13 270.54,400.03 C271.06,399.94 271.86,400.33 272.32,400.41 C272.77,400.49 272.97,400.19 273.29,400.49 C273.62,400.79 274.00,401.72 274.28,402.23 C274.55,402.74 274.92,403.12 274.93,403.55Z" fill="none" stroke="#e030d0" stroke-width="1.0" stroke-dasharray="2 0.6" opacity="0.9" filter="url(#b05)"/>
<path d="M263.10,411.76 C263.26,412.35 263.08,412.96 262.87,413.35 C262.66,413.75 262.34,413.80 261.84,414.13 C261.35,414.45 260.43,415.26 259.90,415.31 C259.37,415.36 259.15,414.53 258.66,414.42 C258.16,414.31 257.26,414.87 256.92,414.65 C256.58,414.43 256.75,413.70 256.59,413.10 C256.43,412.50 256.02,411.51 255.98,411.03 C255.94,410.54 256.08,410.59 256.35,410.19 C256.62,409.79 257.24,409.02 257.60,408.63 C257.97,408.24 258.06,407.95 258.53,407.85 C259.00,407.76 259.95,407.97 260.42,408.06 C260.89,408.15 261.09,408.10 261.34,408.39 C261.60,408.67 261.66,409.23 261.96,409.80 C262.25,410.36 262.95,411.17 263.10,411.76Z" fill="#3018ff" filter="url(#b05)"/>
<path d="M262.81,411.73 C262.95,412.28 262.79,412.83 262.59,413.20 C262.40,413.56 262.10,413.61 261.65,413.91 C261.19,414.21 260.35,414.95 259.86,415.00 C259.37,415.04 259.17,414.28 258.72,414.17 C258.26,414.07 257.44,414.59 257.12,414.39 C256.80,414.19 256.96,413.52 256.81,412.96 C256.67,412.41 256.29,411.51 256.25,411.06 C256.22,410.61 256.35,410.65 256.59,410.28 C256.84,409.91 257.41,409.21 257.75,408.85 C258.08,408.49 258.16,408.22 258.60,408.14 C259.03,408.05 259.91,408.25 260.34,408.33 C260.77,408.41 260.95,408.36 261.19,408.63 C261.42,408.89 261.48,409.41 261.75,409.92 C262.02,410.44 262.67,411.19 262.81,411.73Z" fill="none" stroke="#e030d0" stroke-width="1.0" stroke-dasharray="2 0.6" opacity="0.9" filter="url(#b05)"/>
<path d="M278.01,411.41 C278.00,411.85 277.57,412.75 277.39,413.26 C277.21,413.77 277.34,414.15 276.92,414.46 C276.51,414.76 275.45,415.03 274.91,415.08 C274.38,415.12 274.08,414.82 273.71,414.72 C273.34,414.61 273.01,414.77 272.69,414.46 C272.37,414.16 271.99,413.40 271.76,412.91 C271.53,412.41 271.32,411.86 271.32,411.48 C271.31,411.10 271.55,411.11 271.74,410.62 C271.93,410.14 272.10,408.98 272.47,408.57 C272.83,408.17 273.54,408.21 273.93,408.20 C274.31,408.19 274.37,408.32 274.76,408.52 C275.15,408.72 275.79,409.04 276.24,409.39 C276.69,409.74 277.17,410.28 277.46,410.62 C277.76,410.95 278.02,410.97 278.01,411.41Z" fill="#3018ff" filter="url(#b05)"/>
<path d="M277.72,411.43 C277.71,411.84 277.32,412.67 277.15,413.14 C276.99,413.60 277.10,413.96 276.72,414.24 C276.34,414.51 275.36,414.77 274.87,414.81 C274.38,414.85 274.10,414.57 273.76,414.48 C273.42,414.38 273.13,414.52 272.83,414.24 C272.53,413.97 272.18,413.27 271.97,412.81 C271.76,412.35 271.57,411.85 271.56,411.50 C271.56,411.15 271.78,411.15 271.95,410.71 C272.13,410.26 272.29,409.20 272.62,408.82 C272.96,408.45 273.61,408.49 273.96,408.48 C274.32,408.47 274.38,408.59 274.73,408.77 C275.09,408.96 275.68,409.25 276.09,409.57 C276.51,409.89 276.95,410.39 277.22,410.70 C277.49,411.01 277.73,411.03 277.72,411.43Z" fill="none" stroke="#e030d0" stroke-width="1.0" stroke-dasharray="2 0.6" opacity="0.9" filter="url(#b05)"/>
<path d="M326.81,336.54 C326.84,336.73 327.23,336.84 327.16,336.98 C327.09,337.11 326.62,337.22 326.39,337.36 C326.16,337.49 325.98,337.74 325.77,337.80 C325.55,337.85 325.28,337.76 325.07,337.69 C324.86,337.63 324.70,337.50 324.51,337.40 C324.32,337.30 324.05,337.29 323.93,337.11 C323.81,336.93 323.71,336.54 323.79,336.32 C323.86,336.10 324.24,336.00 324.38,335.79 C324.53,335.59 324.52,335.22 324.65,335.11 C324.78,334.99 324.92,335.14 325.14,335.11 C325.36,335.08 325.72,334.91 325.97,334.93 C326.22,334.95 326.49,335.07 326.65,335.23 C326.81,335.39 326.92,335.67 326.95,335.89 C326.97,336.11 326.77,336.36 326.81,336.54Z" fill="#2010a0" filter="url(#b05)"/>
<path d="M326.74,336.54 C326.78,336.71 327.14,336.82 327.07,336.95 C327.01,337.08 326.57,337.18 326.35,337.31 C326.12,337.44 325.96,337.67 325.75,337.73 C325.54,337.78 325.29,337.69 325.10,337.63 C324.90,337.57 324.74,337.44 324.56,337.35 C324.38,337.25 324.12,337.24 324.01,337.07 C323.90,336.90 323.80,336.54 323.87,336.33 C323.94,336.12 324.30,336.02 324.44,335.82 C324.58,335.63 324.57,335.28 324.69,335.17 C324.81,335.06 324.95,335.20 325.16,335.17 C325.37,335.14 325.71,334.98 325.94,335.00 C326.18,335.02 326.44,335.14 326.59,335.29 C326.75,335.44 326.85,335.71 326.87,335.92 C326.90,336.12 326.71,336.37 326.74,336.54Z" fill="#0a0440" opacity="0.8" filter="url(#tx2)"/>
<path d="M327.33,410.69 C327.29,410.90 326.82,411.03 326.68,411.21 C326.53,411.38 326.59,411.63 326.44,411.74 C326.30,411.85 326.00,411.81 325.80,411.87 C325.60,411.92 325.46,412.06 325.26,412.05 C325.06,412.04 324.76,411.93 324.60,411.79 C324.45,411.66 324.45,411.46 324.34,411.23 C324.23,411.00 324.01,410.67 323.94,410.42 C323.88,410.17 323.83,409.90 323.95,409.75 C324.06,409.59 324.40,409.61 324.62,409.47 C324.83,409.32 325.02,408.97 325.24,408.87 C325.46,408.78 325.71,408.80 325.93,408.89 C326.15,408.98 326.42,409.25 326.58,409.42 C326.74,409.59 326.79,409.71 326.92,409.92 C327.04,410.13 327.37,410.47 327.33,410.69Z" fill="#3018ff" filter="url(#b05)"/>
</g>
<text x="241.20" y="332.20" font-size="7.3" fill="#f2f2f2" stroke="#f2f2f2" stroke-width="0.08" transform="translate(241.20 332.20) scale(1 1.08) translate(-241.20 -332.20)">Merge</text>
<rect x="302.90" y="404.30" width="12.3" height="1.9" fill="#fff"/>
<rect x="47.00" y="419.60" width="89.3" height="89.1" fill="#000"/>
<g clip-path="url(#cE4)">
<path d="M70.03,442.04 C70.19,443.32 70.21,446.25 69.58,447.58 C68.95,448.92 67.43,449.33 66.25,450.05 C65.07,450.77 63.54,451.62 62.50,451.90 C61.45,452.17 61.16,451.74 59.99,451.70 C58.83,451.65 56.68,452.62 55.51,451.62 C54.35,450.62 53.73,447.07 53.01,445.68 C52.28,444.28 51.09,444.23 51.18,443.25 C51.27,442.28 52.89,440.94 53.57,439.81 C54.24,438.68 54.32,437.70 55.23,436.48 C56.15,435.25 57.82,433.14 59.07,432.46 C60.32,431.79 61.29,432.03 62.72,432.41 C64.15,432.80 66.68,433.56 67.65,434.80 C68.63,436.04 68.20,438.66 68.60,439.87 C68.99,441.08 69.86,440.75 70.03,442.04Z" fill="#3420e0" filter="url(#b05)"/>
<path d="M69.58,442.08 C69.74,443.30 69.75,446.08 69.15,447.35 C68.56,448.61 67.11,449.01 65.99,449.69 C64.87,450.37 63.42,451.18 62.43,451.44 C61.44,451.70 61.16,451.29 60.05,451.25 C58.94,451.21 56.90,452.13 55.79,451.18 C54.69,450.23 54.10,446.86 53.41,445.53 C52.72,444.21 51.59,444.16 51.68,443.23 C51.77,442.30 53.30,441.03 53.94,439.96 C54.58,438.89 54.65,437.96 55.53,436.79 C56.40,435.63 57.98,433.62 59.17,432.98 C60.36,432.34 61.28,432.56 62.64,432.93 C64.00,433.30 66.40,434.02 67.33,435.20 C68.26,436.38 67.85,438.87 68.22,440.02 C68.60,441.16 69.43,440.86 69.58,442.08Z" fill="#0a0440" opacity="0.7" filter="url(#tx2)"/>
<path d="M77.09,426.45 C77.09,426.96 77.42,427.82 77.31,428.22 C77.19,428.63 76.75,428.73 76.39,428.86 C76.04,428.99 75.61,428.89 75.18,429.00 C74.76,429.12 74.31,429.50 73.85,429.55 C73.39,429.59 72.71,429.55 72.42,429.26 C72.13,428.97 72.33,428.23 72.11,427.81 C71.90,427.39 71.21,427.16 71.14,426.72 C71.07,426.29 71.48,425.65 71.68,425.20 C71.88,424.75 72.00,424.27 72.34,424.03 C72.68,423.79 73.30,423.84 73.74,423.78 C74.18,423.72 74.56,423.69 74.98,423.66 C75.39,423.63 75.84,423.37 76.22,423.61 C76.61,423.86 77.17,424.68 77.31,425.15 C77.46,425.62 77.09,425.94 77.09,426.45Z" fill="#3018ff" filter="url(#b05)"/>
<path d="M52.43,431.89 C52.44,432.37 52.57,433.06 52.30,433.56 C52.03,434.05 51.29,434.52 50.83,434.88 C50.36,435.24 49.90,435.57 49.50,435.71 C49.09,435.85 48.89,435.85 48.40,435.71 C47.90,435.58 47.05,435.26 46.53,434.89 C46.00,434.53 45.41,433.96 45.26,433.52 C45.11,433.09 45.64,432.74 45.63,432.29 C45.61,431.85 45.00,431.34 45.18,430.84 C45.35,430.33 46.20,429.60 46.67,429.26 C47.13,428.92 47.53,428.89 47.97,428.80 C48.42,428.71 48.88,428.65 49.36,428.71 C49.83,428.77 50.35,428.84 50.82,429.17 C51.29,429.50 51.92,430.24 52.18,430.70 C52.45,431.15 52.41,431.42 52.43,431.89Z" fill="#3018ff" filter="url(#b05)"/>
<path d="M77.94,445.42 C77.91,445.88 78.04,446.31 77.85,446.55 C77.66,446.80 77.18,446.71 76.82,446.87 C76.46,447.02 76.06,447.27 75.68,447.49 C75.31,447.72 74.94,448.32 74.58,448.21 C74.22,448.11 73.77,447.16 73.52,446.86 C73.26,446.56 73.15,446.75 73.04,446.42 C72.93,446.10 72.87,445.29 72.86,444.92 C72.85,444.54 72.88,444.50 72.95,444.19 C73.01,443.88 73.01,443.34 73.25,443.06 C73.49,442.78 73.93,442.65 74.40,442.51 C74.86,442.37 75.59,442.18 76.03,442.21 C76.48,442.23 76.73,442.39 77.07,442.66 C77.40,442.92 77.88,443.34 78.03,443.80 C78.17,444.26 77.97,444.96 77.94,445.42Z" fill="#3018ff" filter="url(#b05)"/>
<path d="M56.00,426.01 C55.96,426.42 55.36,426.51 55.19,426.80 C55.01,427.08 55.23,427.57 54.96,427.73 C54.68,427.89 53.87,427.64 53.51,427.77 C53.15,427.90 53.09,428.48 52.79,428.51 C52.50,428.53 52.07,428.16 51.75,427.90 C51.44,427.64 51.07,427.34 50.88,426.93 C50.70,426.53 50.61,425.84 50.64,425.48 C50.67,425.11 50.89,425.05 51.06,424.74 C51.22,424.43 51.38,423.85 51.63,423.61 C51.89,423.37 52.25,423.33 52.60,423.30 C52.95,423.28 53.39,423.42 53.73,423.47 C54.07,423.51 54.36,423.43 54.64,423.58 C54.92,423.73 55.18,423.96 55.41,424.36 C55.64,424.77 56.04,425.60 56.00,426.01Z" fill="#3420e0" filter="url(#b05)"/>
<path d="M55.86,425.99 C55.82,426.38 55.25,426.47 55.09,426.74 C54.92,427.01 55.13,427.47 54.87,427.63 C54.60,427.78 53.84,427.54 53.50,427.66 C53.16,427.79 53.09,428.35 52.81,428.37 C52.53,428.39 52.13,428.04 51.83,427.79 C51.52,427.54 51.18,427.26 51.00,426.87 C50.82,426.49 50.74,425.84 50.77,425.49 C50.80,425.14 51.01,425.08 51.16,424.78 C51.32,424.49 51.47,423.94 51.71,423.72 C51.96,423.49 52.30,423.45 52.63,423.42 C52.96,423.40 53.38,423.53 53.70,423.58 C54.03,423.62 54.30,423.55 54.56,423.69 C54.83,423.83 55.08,424.04 55.30,424.43 C55.51,424.81 55.89,425.61 55.86,425.99Z" fill="#0a0440" opacity="0.7" filter="url(#tx2)"/>
<path d="M121.19,426.03 C121.13,426.64 121.55,427.41 121.41,427.87 C121.26,428.34 120.82,428.64 120.33,428.82 C119.84,429.00 119.06,428.79 118.48,428.95 C117.90,429.10 117.35,429.74 116.83,429.75 C116.31,429.77 115.74,429.45 115.38,429.03 C115.01,428.62 114.85,427.82 114.62,427.27 C114.38,426.73 114.10,426.33 113.95,425.76 C113.80,425.20 113.42,424.37 113.72,423.87 C114.01,423.38 115.16,423.15 115.73,422.80 C116.31,422.45 116.64,421.96 117.18,421.78 C117.72,421.60 118.55,421.52 118.98,421.72 C119.42,421.93 119.32,422.58 119.79,422.99 C120.25,423.41 121.55,423.69 121.78,424.19 C122.02,424.70 121.25,425.41 121.19,426.03Z" fill="#3420e0" filter="url(#b05)"/>
<path d="M121.01,426.01 C120.95,426.59 121.35,427.32 121.22,427.76 C121.08,428.21 120.66,428.50 120.19,428.67 C119.73,428.84 118.99,428.64 118.43,428.79 C117.88,428.93 117.36,429.54 116.87,429.55 C116.38,429.56 115.84,429.26 115.49,428.87 C115.14,428.47 114.99,427.71 114.76,427.19 C114.54,426.67 114.27,426.30 114.13,425.76 C113.99,425.22 113.63,424.43 113.91,423.97 C114.19,423.50 115.28,423.28 115.83,422.95 C116.37,422.61 116.68,422.14 117.20,421.97 C117.71,421.80 118.50,421.73 118.91,421.92 C119.33,422.12 119.23,422.74 119.68,423.13 C120.12,423.52 121.35,423.79 121.57,424.27 C121.80,424.75 121.07,425.43 121.01,426.01Z" fill="#0a0440" opacity="0.7" filter="url(#tx2)"/>
<path d="M132.08,433.58 C132.48,434.21 132.72,434.75 132.61,435.50 C132.51,436.25 131.67,437.23 131.46,438.10 C131.25,438.97 131.51,440.17 131.34,440.72 C131.17,441.28 130.92,441.58 130.43,441.43 C129.94,441.27 129.07,440.34 128.40,439.78 C127.74,439.22 126.92,438.85 126.44,438.09 C125.97,437.32 125.77,436.02 125.57,435.20 C125.38,434.38 125.40,433.89 125.28,433.16 C125.17,432.44 124.83,431.46 124.89,430.86 C124.95,430.26 125.22,429.84 125.65,429.56 C126.08,429.29 126.98,429.14 127.48,429.21 C127.98,429.29 128.18,429.60 128.64,430.01 C129.09,430.42 129.65,431.08 130.22,431.68 C130.80,432.27 131.68,432.94 132.08,433.58Z" fill="#3420e0" filter="url(#b05)"/>
<path d="M131.90,433.62 C132.28,434.23 132.51,434.73 132.41,435.45 C132.31,436.16 131.51,437.09 131.31,437.92 C131.11,438.74 131.36,439.88 131.20,440.41 C131.04,440.94 130.80,441.23 130.34,441.08 C129.87,440.93 129.04,440.05 128.41,439.52 C127.77,438.99 126.99,438.63 126.55,437.91 C126.10,437.18 125.90,435.95 125.72,435.17 C125.54,434.39 125.55,433.92 125.44,433.23 C125.33,432.54 125.01,431.62 125.07,431.05 C125.13,430.48 125.38,430.07 125.79,429.81 C126.20,429.55 127.06,429.40 127.53,429.48 C128.00,429.55 128.20,429.85 128.63,430.24 C129.07,430.63 129.59,431.25 130.14,431.82 C130.68,432.38 131.52,433.02 131.90,433.62Z" fill="#0a0440" opacity="0.7" filter="url(#tx2)"/>
<path d="M122.79,458.49 C122.81,459.08 122.58,460.16 122.33,460.61 C122.08,461.06 121.59,460.86 121.29,461.18 C120.99,461.49 121.00,462.40 120.52,462.49 C120.04,462.57 119.02,461.85 118.42,461.69 C117.83,461.52 117.31,461.81 116.97,461.49 C116.62,461.18 116.46,460.23 116.35,459.78 C116.23,459.34 116.35,459.31 116.26,458.84 C116.18,458.36 115.62,457.37 115.83,456.94 C116.05,456.51 117.12,456.44 117.57,456.27 C118.03,456.09 118.20,456.04 118.57,455.88 C118.93,455.73 119.37,455.31 119.78,455.34 C120.20,455.38 120.64,455.81 121.04,456.10 C121.44,456.39 121.90,456.68 122.19,457.08 C122.48,457.48 122.76,457.90 122.79,458.49Z" fill="#3420e0" filter="url(#b05)"/>
<path d="M122.61,458.50 C122.64,459.06 122.42,460.09 122.18,460.51 C121.94,460.94 121.48,460.76 121.19,461.05 C120.91,461.35 120.91,462.22 120.46,462.30 C120.00,462.38 119.03,461.69 118.47,461.54 C117.91,461.38 117.41,461.66 117.08,461.36 C116.75,461.05 116.60,460.15 116.49,459.73 C116.38,459.31 116.50,459.28 116.42,458.83 C116.34,458.38 115.80,457.43 116.01,457.03 C116.21,456.62 117.23,456.56 117.66,456.39 C118.09,456.22 118.25,456.17 118.60,456.02 C118.95,455.88 119.37,455.48 119.76,455.51 C120.15,455.54 120.58,455.95 120.96,456.23 C121.34,456.50 121.77,456.78 122.04,457.16 C122.32,457.54 122.59,457.94 122.61,458.50Z" fill="#0a0440" opacity="0.7" filter="url(#tx2)"/>
<path d="M136.21,462.90 C136.12,463.22 135.82,463.83 135.65,464.09 C135.48,464.34 135.37,464.32 135.19,464.44 C135.01,464.56 134.83,464.67 134.58,464.81 C134.32,464.96 133.92,465.35 133.66,465.31 C133.39,465.28 133.29,464.82 132.99,464.58 C132.69,464.34 132.00,464.09 131.85,463.87 C131.71,463.66 132.04,463.58 132.13,463.28 C132.22,462.98 132.28,462.38 132.37,462.07 C132.47,461.75 132.51,461.50 132.72,461.39 C132.94,461.29 133.37,461.50 133.68,461.43 C133.99,461.36 134.36,460.94 134.61,460.97 C134.85,461.00 134.91,461.40 135.16,461.60 C135.42,461.81 135.98,461.98 136.15,462.20 C136.33,462.42 136.29,462.59 136.21,462.90Z" fill="#3018ff" filter="url(#b05)"/>
<path d="M132.14,470.01 C132.07,470.48 131.53,471.03 131.37,471.62 C131.20,472.21 131.51,473.17 131.16,473.54 C130.81,473.91 129.89,473.82 129.27,473.84 C128.65,473.87 127.97,473.73 127.45,473.68 C126.92,473.64 126.53,473.79 126.10,473.56 C125.68,473.33 125.11,472.93 124.88,472.31 C124.66,471.70 124.63,470.44 124.76,469.85 C124.89,469.27 125.50,469.26 125.66,468.82 C125.83,468.39 125.38,467.65 125.74,467.25 C126.10,466.84 127.30,466.57 127.85,466.40 C128.40,466.24 128.44,466.11 129.05,466.26 C129.65,466.40 131.00,466.85 131.46,467.27 C131.93,467.68 131.72,468.30 131.83,468.76 C131.95,469.21 132.22,469.53 132.14,470.01Z" fill="#3018ff" filter="url(#b05)"/>
<path d="M64.47,479.03 C64.20,479.79 63.92,480.39 63.59,480.93 C63.26,481.48 63.00,481.98 62.47,482.31 C61.93,482.64 61.04,482.75 60.36,482.93 C59.69,483.11 59.07,483.28 58.39,483.37 C57.71,483.45 56.83,484.01 56.27,483.46 C55.71,482.92 55.38,480.96 55.01,480.10 C54.64,479.25 54.15,478.98 54.05,478.33 C53.96,477.68 54.03,476.85 54.44,476.22 C54.84,475.59 55.89,475.03 56.50,474.55 C57.10,474.08 57.22,473.66 58.05,473.36 C58.87,473.07 60.63,472.56 61.44,472.78 C62.25,472.99 62.30,474.04 62.92,474.64 C63.55,475.24 64.93,475.65 65.19,476.38 C65.45,477.11 64.74,478.27 64.47,479.03Z" fill="#3420e0" filter="url(#b05)"/>
<path d="M64.22,479.00 C63.96,479.72 63.70,480.29 63.38,480.81 C63.06,481.33 62.82,481.80 62.31,482.12 C61.80,482.44 60.96,482.54 60.32,482.71 C59.67,482.88 59.09,483.04 58.44,483.12 C57.79,483.21 56.96,483.73 56.43,483.22 C55.89,482.70 55.58,480.83 55.23,480.02 C54.88,479.21 54.41,478.95 54.32,478.34 C54.23,477.72 54.30,476.93 54.68,476.33 C55.07,475.74 56.07,475.20 56.64,474.75 C57.21,474.30 57.33,473.90 58.12,473.62 C58.90,473.34 60.57,472.86 61.34,473.06 C62.11,473.27 62.15,474.26 62.75,474.83 C63.34,475.40 64.65,475.79 64.90,476.49 C65.14,477.18 64.47,478.28 64.22,479.00Z" fill="#0a0440" opacity="0.7" filter="url(#tx2)"/>
<path d="M119.63,484.82 C119.81,486.00 119.50,487.25 119.11,488.13 C118.72,489.01 118.26,489.71 117.28,490.11 C116.30,490.51 114.66,490.42 113.22,490.53 C111.77,490.64 110.15,490.93 108.62,490.78 C107.09,490.63 105.12,490.22 104.04,489.65 C102.97,489.09 102.90,488.20 102.16,487.39 C101.43,486.59 99.61,485.94 99.63,484.82 C99.65,483.71 101.35,481.74 102.27,480.71 C103.18,479.69 104.01,479.16 105.13,478.67 C106.26,478.17 107.72,477.95 109.01,477.75 C110.29,477.54 111.32,477.31 112.84,477.45 C114.36,477.58 117.27,477.96 118.13,478.56 C118.99,479.16 117.76,480.00 118.00,481.05 C118.25,482.09 119.45,483.64 119.63,484.82Z" fill="#3420e0" filter="url(#b05)"/>
<path d="M119.17,484.79 C119.35,485.91 119.05,487.10 118.68,487.94 C118.30,488.78 117.87,489.44 116.94,489.82 C116.01,490.20 114.45,490.11 113.08,490.22 C111.71,490.33 110.17,490.59 108.71,490.46 C107.26,490.32 105.39,489.92 104.37,489.38 C103.34,488.85 103.28,488.00 102.58,487.24 C101.88,486.47 100.16,485.86 100.17,484.80 C100.19,483.74 101.81,481.87 102.68,480.89 C103.55,479.92 104.33,479.42 105.40,478.95 C106.47,478.48 107.86,478.27 109.08,478.07 C110.31,477.88 111.28,477.66 112.73,477.79 C114.17,477.92 116.93,478.28 117.75,478.85 C118.57,479.42 117.39,480.22 117.63,481.21 C117.87,482.20 119.00,483.67 119.17,484.79Z" fill="#0a0440" opacity="0.7" filter="url(#tx2)"/>
<path d="M132.43,499.28 C132.41,499.84 132.30,500.65 131.99,501.26 C131.68,501.87 131.02,502.69 130.57,502.94 C130.12,503.19 129.82,502.73 129.29,502.75 C128.76,502.77 128.07,503.13 127.38,503.06 C126.70,503.00 125.59,502.70 125.15,502.35 C124.72,502.00 124.97,501.44 124.79,500.97 C124.61,500.51 124.00,500.16 124.07,499.57 C124.13,498.98 124.89,497.98 125.18,497.44 C125.47,496.91 125.42,496.65 125.80,496.37 C126.19,496.08 126.99,495.92 127.48,495.71 C127.96,495.49 128.18,495.06 128.71,495.09 C129.24,495.12 130.11,495.43 130.66,495.90 C131.22,496.36 131.77,497.32 132.06,497.89 C132.35,498.45 132.44,498.72 132.43,499.28Z" fill="#3420e0" filter="url(#b05)"/>
<path d="M132.21,499.28 C132.20,499.82 132.10,500.59 131.80,501.16 C131.51,501.74 130.88,502.52 130.45,502.76 C130.02,502.99 129.74,502.56 129.23,502.58 C128.73,502.60 128.08,502.94 127.42,502.87 C126.77,502.81 125.72,502.53 125.31,502.20 C124.90,501.87 125.13,501.33 124.96,500.89 C124.79,500.45 124.21,500.12 124.28,499.56 C124.34,499.00 125.05,498.04 125.33,497.54 C125.60,497.03 125.56,496.79 125.92,496.51 C126.29,496.24 127.05,496.09 127.51,495.89 C127.97,495.68 128.18,495.27 128.68,495.30 C129.19,495.33 130.01,495.63 130.54,496.07 C131.07,496.51 131.59,497.42 131.87,497.96 C132.15,498.49 132.23,498.75 132.21,499.28Z" fill="#0a0440" opacity="0.7" filter="url(#tx2)"/>
<path d="M79.67,503.19 C79.64,503.75 78.50,504.75 78.13,505.31 C77.76,505.87 77.83,506.10 77.44,506.58 C77.05,507.05 76.29,507.94 75.79,508.14 C75.30,508.34 74.96,508.03 74.47,507.77 C73.99,507.51 73.35,506.99 72.89,506.60 C72.44,506.21 72.14,505.91 71.75,505.43 C71.37,504.95 70.50,504.30 70.59,503.74 C70.67,503.18 71.98,502.66 72.25,502.07 C72.51,501.48 71.80,500.59 72.18,500.18 C72.56,499.77 73.85,499.71 74.53,499.61 C75.22,499.51 75.82,499.45 76.29,499.59 C76.76,499.74 77.02,500.09 77.36,500.49 C77.70,500.88 77.95,501.53 78.34,501.98 C78.72,502.43 79.71,502.64 79.67,503.19Z" fill="#3018ff" filter="url(#b05)"/>
<path d="M111.78,504.36 C111.63,505.10 111.78,505.96 111.53,506.53 C111.28,507.10 110.80,507.31 110.28,507.78 C109.76,508.24 108.93,509.24 108.42,509.34 C107.91,509.44 107.90,508.54 107.23,508.37 C106.56,508.20 104.87,508.65 104.40,508.32 C103.94,508.00 104.72,507.14 104.46,506.43 C104.19,505.71 102.84,504.60 102.83,504.02 C102.82,503.43 104.02,503.55 104.37,502.94 C104.71,502.32 104.50,500.74 104.90,500.33 C105.29,499.92 105.99,500.52 106.74,500.46 C107.50,500.40 108.66,499.82 109.40,499.95 C110.14,500.09 110.67,500.90 111.17,501.25 C111.68,501.60 112.32,501.53 112.42,502.05 C112.52,502.57 111.93,503.61 111.78,504.36Z" fill="#3420e0" filter="url(#b05)"/>
<path d="M111.58,504.37 C111.44,505.08 111.58,505.89 111.35,506.43 C111.11,506.97 110.65,507.17 110.16,507.62 C109.67,508.06 108.88,509.01 108.39,509.10 C107.91,509.20 107.90,508.35 107.27,508.19 C106.63,508.02 105.02,508.45 104.58,508.14 C104.14,507.83 104.88,507.02 104.63,506.34 C104.38,505.65 103.10,504.60 103.08,504.05 C103.07,503.49 104.22,503.60 104.54,503.02 C104.87,502.44 104.67,500.94 105.05,500.54 C105.42,500.15 106.09,500.72 106.80,500.66 C107.52,500.61 108.63,500.06 109.33,500.19 C110.03,500.31 110.53,501.08 111.01,501.41 C111.49,501.75 112.10,501.69 112.19,502.18 C112.29,502.67 111.72,503.66 111.58,504.37Z" fill="#0a0440" opacity="0.7" filter="url(#tx2)"/>
</g>
<rect x="111.70" y="499.20" width="12.3" height="1.9" fill="#fff"/>
<rect x="142.90" y="419.60" width="89.3" height="89.1" fill="#000"/>
<g clip-path="url(#cE5)">
<g filter="url(#b3)" fill="#0a0102" opacity="0.8">
<circle cx="160" cy="440" r="10"/>
<circle cx="200" cy="430" r="8"/>
<circle cx="215" cy="455" r="10"/>
<circle cx="170" cy="480" r="9"/>
<circle cx="210" cy="495" r="9"/>
<circle cx="195" cy="470" r="6"/>
</g>
<path d="M172.77,426.45 C172.77,426.92 173.08,427.71 172.97,428.08 C172.87,428.45 172.46,428.54 172.13,428.66 C171.81,428.78 171.41,428.69 171.02,428.79 C170.63,428.90 170.22,429.26 169.79,429.30 C169.37,429.34 168.75,429.30 168.48,429.04 C168.21,428.77 168.39,428.09 168.19,427.70 C168.00,427.31 167.37,427.10 167.30,426.70 C167.24,426.30 167.62,425.71 167.80,425.29 C167.98,424.88 168.09,424.44 168.41,424.22 C168.72,424.00 169.29,424.05 169.69,423.99 C170.10,423.93 170.45,423.90 170.83,423.88 C171.21,423.85 171.62,423.61 171.98,423.84 C172.34,424.07 172.85,424.81 172.98,425.25 C173.11,425.69 172.77,425.98 172.77,426.45Z" fill="#4a0808" filter="url(#b05)"/>
<path d="M172.72,426.45 C172.72,426.91 173.02,427.68 172.92,428.04 C172.81,428.40 172.41,428.50 172.09,428.61 C171.78,428.73 171.39,428.64 171.01,428.74 C170.62,428.84 170.22,429.19 169.80,429.23 C169.39,429.27 168.78,429.24 168.52,428.98 C168.26,428.72 168.43,428.05 168.24,427.67 C168.05,427.29 167.43,427.08 167.37,426.69 C167.30,426.30 167.67,425.72 167.85,425.32 C168.03,424.91 168.14,424.48 168.45,424.27 C168.76,424.05 169.31,424.10 169.70,424.04 C170.10,423.99 170.45,423.96 170.82,423.93 C171.19,423.91 171.59,423.67 171.94,423.89 C172.29,424.12 172.79,424.85 172.92,425.28 C173.05,425.70 172.72,425.99 172.72,426.45Z" fill="none" stroke="#f02c1e" stroke-width="1.3" stroke-dasharray="2.2 0.45" filter="url(#b05)"/>
<path d="M227.75,470.02 C227.68,470.46 227.19,470.96 227.04,471.51 C226.89,472.05 227.17,472.93 226.85,473.28 C226.53,473.62 225.68,473.53 225.11,473.55 C224.54,473.57 223.92,473.45 223.43,473.40 C222.94,473.36 222.59,473.50 222.20,473.29 C221.80,473.08 221.28,472.71 221.07,472.14 C220.86,471.58 220.84,470.42 220.95,469.88 C221.07,469.35 221.64,469.33 221.79,468.93 C221.94,468.53 221.53,467.85 221.86,467.48 C222.20,467.11 223.30,466.86 223.80,466.71 C224.31,466.55 224.35,466.44 224.90,466.57 C225.46,466.70 226.70,467.12 227.13,467.50 C227.55,467.89 227.36,468.45 227.47,468.87 C227.57,469.29 227.82,469.58 227.75,470.02Z" fill="#4a0808" filter="url(#b05)"/>
<path d="M227.68,470.03 C227.61,470.46 227.13,470.95 226.98,471.48 C226.83,472.01 227.11,472.88 226.80,473.21 C226.48,473.54 225.65,473.46 225.10,473.48 C224.54,473.50 223.93,473.38 223.45,473.33 C222.98,473.29 222.63,473.43 222.24,473.22 C221.86,473.02 221.35,472.66 221.14,472.10 C220.94,471.55 220.91,470.41 221.03,469.89 C221.15,469.36 221.70,469.35 221.85,468.96 C222.00,468.57 221.59,467.90 221.92,467.54 C222.24,467.18 223.32,466.93 223.81,466.78 C224.31,466.63 224.35,466.52 224.89,466.65 C225.43,466.78 226.65,467.19 227.07,467.56 C227.48,467.94 227.30,468.49 227.40,468.90 C227.50,469.31 227.75,469.60 227.68,470.03Z" fill="none" stroke="#f02c1e" stroke-width="1.3" stroke-dasharray="2.2 0.45" filter="url(#b05)"/>
</g>
<rect x="207.60" y="499.20" width="12.3" height="1.9" fill="#fff"/>
<rect x="238.20" y="419.60" width="89.3" height="89.1" fill="#000"/>
<g clip-path="url(#cE6)">
<path d="M261.23,442.04 C261.39,443.32 261.41,446.25 260.78,447.58 C260.15,448.92 258.63,449.33 257.45,450.05 C256.27,450.77 254.74,451.62 253.70,451.90 C252.65,452.17 252.36,451.74 251.19,451.70 C250.03,451.65 247.88,452.62 246.71,451.62 C245.55,450.62 244.93,447.07 244.21,445.68 C243.48,444.28 242.29,444.23 242.38,443.25 C242.47,442.28 244.09,440.94 244.77,439.81 C245.44,438.68 245.52,437.70 246.43,436.48 C247.35,435.25 249.02,433.14 250.27,432.46 C251.52,431.79 252.49,432.03 253.92,432.41 C255.35,432.80 257.88,433.56 258.85,434.80 C259.83,436.04 259.40,438.66 259.80,439.87 C260.19,441.08 261.06,440.75 261.23,442.04Z" fill="#3420e0" filter="url(#b05)"/>
<path d="M260.78,442.08 C260.94,443.30 260.95,446.08 260.35,447.35 C259.76,448.61 258.31,449.01 257.19,449.69 C256.07,450.37 254.62,451.18 253.63,451.44 C252.64,451.70 252.36,451.29 251.25,451.25 C250.14,451.21 248.10,452.13 246.99,451.18 C245.89,450.23 245.30,446.86 244.61,445.53 C243.92,444.21 242.79,444.16 242.88,443.23 C242.97,442.30 244.50,441.03 245.14,439.96 C245.78,438.89 245.85,437.96 246.73,436.79 C247.60,435.63 249.18,433.62 250.37,432.98 C251.56,432.34 252.48,432.56 253.84,432.93 C255.20,433.30 257.60,434.02 258.53,435.20 C259.46,436.38 259.05,438.87 259.42,440.02 C259.80,441.16 260.63,440.86 260.78,442.08Z" fill="#0a0440" opacity="0.7" filter="url(#tx2)"/>
<path d="M268.29,426.45 C268.29,426.96 268.62,427.82 268.51,428.22 C268.39,428.63 267.95,428.73 267.59,428.86 C267.24,428.99 266.81,428.89 266.38,429.00 C265.96,429.12 265.51,429.50 265.05,429.55 C264.59,429.59 263.91,429.55 263.62,429.26 C263.33,428.97 263.53,428.23 263.31,427.81 C263.10,427.39 262.41,427.16 262.34,426.72 C262.27,426.29 262.68,425.65 262.88,425.20 C263.08,424.75 263.20,424.27 263.54,424.03 C263.88,423.79 264.50,423.84 264.94,423.78 C265.38,423.72 265.76,423.69 266.18,423.66 C266.59,423.63 267.04,423.37 267.42,423.61 C267.81,423.86 268.37,424.68 268.51,425.15 C268.66,425.62 268.29,425.94 268.29,426.45Z" fill="#3018ff" filter="url(#b05)"/>
<path d="M268.07,426.45 C268.07,426.92 268.38,427.71 268.27,428.08 C268.17,428.45 267.76,428.54 267.43,428.66 C267.11,428.78 266.71,428.69 266.32,428.79 C265.93,428.90 265.52,429.26 265.09,429.30 C264.67,429.34 264.05,429.30 263.78,429.04 C263.51,428.77 263.69,428.09 263.49,427.70 C263.30,427.31 262.67,427.10 262.60,426.70 C262.54,426.30 262.92,425.71 263.10,425.29 C263.28,424.88 263.39,424.44 263.71,424.22 C264.02,424.00 264.59,424.05 264.99,423.99 C265.40,423.93 265.75,423.90 266.13,423.88 C266.51,423.85 266.92,423.61 267.28,423.84 C267.64,424.07 268.15,424.81 268.28,425.25 C268.41,425.69 268.07,425.98 268.07,426.45Z" fill="none" stroke="#e030d0" stroke-width="1.0" stroke-dasharray="2 0.6" opacity="0.9" filter="url(#b05)"/>
<path d="M243.63,431.89 C243.64,432.37 243.77,433.06 243.50,433.56 C243.23,434.05 242.49,434.52 242.03,434.88 C241.56,435.24 241.10,435.57 240.70,435.71 C240.29,435.85 240.09,435.85 239.60,435.71 C239.10,435.58 238.25,435.26 237.73,434.89 C237.20,434.53 236.61,433.96 236.46,433.52 C236.31,433.09 236.84,432.74 236.83,432.29 C236.81,431.85 236.20,431.34 236.38,430.84 C236.55,430.33 237.40,429.60 237.87,429.26 C238.33,428.92 238.73,428.89 239.17,428.80 C239.62,428.71 240.08,428.65 240.56,428.71 C241.03,428.77 241.55,428.84 242.02,429.17 C242.49,429.50 243.12,430.24 243.38,430.70 C243.65,431.15 243.61,431.42 243.63,431.89Z" fill="#3018ff" filter="url(#b05)"/>
<path d="M269.14,445.42 C269.11,445.88 269.24,446.31 269.05,446.55 C268.86,446.80 268.38,446.71 268.02,446.87 C267.66,447.02 267.26,447.27 266.88,447.49 C266.51,447.72 266.14,448.32 265.78,448.21 C265.42,448.11 264.97,447.16 264.72,446.86 C264.46,446.56 264.35,446.75 264.24,446.42 C264.13,446.10 264.07,445.29 264.06,444.92 C264.05,444.54 264.08,444.50 264.15,444.19 C264.21,443.88 264.21,443.34 264.45,443.06 C264.69,442.78 265.13,442.65 265.60,442.51 C266.06,442.37 266.79,442.18 267.23,442.21 C267.68,442.23 267.93,442.39 268.27,442.66 C268.60,442.92 269.08,443.34 269.23,443.80 C269.37,444.26 269.17,444.96 269.14,445.42Z" fill="#3018ff" filter="url(#b05)"/>
<path d="M247.20,426.01 C247.16,426.42 246.56,426.51 246.39,426.80 C246.21,427.08 246.43,427.57 246.16,427.73 C245.88,427.89 245.07,427.64 244.71,427.77 C244.35,427.90 244.29,428.48 243.99,428.51 C243.70,428.53 243.27,428.16 242.95,427.90 C242.64,427.64 242.27,427.34 242.08,426.93 C241.90,426.53 241.81,425.84 241.84,425.48 C241.87,425.11 242.09,425.05 242.26,424.74 C242.42,424.43 242.58,423.85 242.83,423.61 C243.09,423.37 243.45,423.33 243.80,423.30 C244.15,423.28 244.59,423.42 244.93,423.47 C245.27,423.51 245.56,423.43 245.84,423.58 C246.12,423.73 246.38,423.96 246.61,424.36 C246.84,424.77 247.24,425.60 247.20,426.01Z" fill="#3420e0" filter="url(#b05)"/>
<path d="M247.06,425.99 C247.02,426.38 246.45,426.47 246.29,426.74 C246.12,427.01 246.33,427.47 246.07,427.63 C245.80,427.78 245.04,427.54 244.70,427.66 C244.36,427.79 244.29,428.35 244.01,428.37 C243.73,428.39 243.33,428.04 243.03,427.79 C242.72,427.54 242.38,427.26 242.20,426.87 C242.02,426.49 241.94,425.84 241.97,425.49 C242.00,425.14 242.21,425.08 242.36,424.78 C242.52,424.49 242.67,423.94 242.91,423.72 C243.16,423.49 243.50,423.45 243.83,423.42 C244.16,423.40 244.58,423.53 244.90,423.58 C245.23,423.62 245.50,423.55 245.76,423.69 C246.03,423.83 246.28,424.04 246.50,424.43 C246.71,424.81 247.09,425.61 247.06,425.99Z" fill="#0a0440" opacity="0.7" filter="url(#tx2)"/>
<path d="M312.39,426.03 C312.33,426.64 312.75,427.41 312.61,427.87 C312.46,428.34 312.02,428.64 311.53,428.82 C311.04,429.00 310.26,428.79 309.68,428.95 C309.10,429.10 308.55,429.74 308.03,429.75 C307.51,429.77 306.94,429.45 306.58,429.03 C306.21,428.62 306.05,427.82 305.82,427.27 C305.58,426.73 305.30,426.33 305.15,425.76 C305.00,425.20 304.62,424.37 304.92,423.87 C305.21,423.38 306.36,423.15 306.93,422.80 C307.51,422.45 307.84,421.96 308.38,421.78 C308.92,421.60 309.75,421.52 310.18,421.72 C310.62,421.93 310.52,422.58 310.99,422.99 C311.45,423.41 312.75,423.69 312.98,424.19 C313.22,424.70 312.45,425.41 312.39,426.03Z" fill="#3420e0" filter="url(#b05)"/>
<path d="M312.21,426.01 C312.15,426.59 312.55,427.32 312.42,427.76 C312.28,428.21 311.86,428.50 311.39,428.67 C310.93,428.84 310.19,428.64 309.63,428.79 C309.08,428.93 308.56,429.54 308.07,429.55 C307.58,429.56 307.04,429.26 306.69,428.87 C306.34,428.47 306.19,427.71 305.96,427.19 C305.74,426.67 305.47,426.30 305.33,425.76 C305.19,425.22 304.83,424.43 305.11,423.97 C305.39,423.50 306.48,423.28 307.03,422.95 C307.57,422.61 307.88,422.14 308.40,421.97 C308.91,421.80 309.70,421.73 310.11,421.92 C310.53,422.12 310.43,422.74 310.88,423.13 C311.32,423.52 312.55,423.79 312.77,424.27 C313.00,424.75 312.27,425.43 312.21,426.01Z" fill="#0a0440" opacity="0.7" filter="url(#tx2)"/>
<path d="M323.28,433.58 C323.68,434.21 323.92,434.75 323.81,435.50 C323.71,436.25 322.87,437.23 322.66,438.10 C322.45,438.97 322.71,440.17 322.54,440.72 C322.37,441.28 322.12,441.58 321.63,441.43 C321.14,441.27 320.27,440.34 319.60,439.78 C318.94,439.22 318.12,438.85 317.64,438.09 C317.17,437.32 316.97,436.02 316.77,435.20 C316.58,434.38 316.60,433.89 316.48,433.16 C316.37,432.44 316.03,431.46 316.09,430.86 C316.15,430.26 316.42,429.84 316.85,429.56 C317.28,429.29 318.18,429.14 318.68,429.21 C319.18,429.29 319.38,429.60 319.84,430.01 C320.29,430.42 320.85,431.08 321.42,431.68 C322.00,432.27 322.88,432.94 323.28,433.58Z" fill="#3420e0" filter="url(#b05)"/>
<path d="M323.10,433.62 C323.48,434.23 323.71,434.73 323.61,435.45 C323.51,436.16 322.71,437.09 322.51,437.92 C322.31,438.74 322.56,439.88 322.40,440.41 C322.24,440.94 322.00,441.23 321.54,441.08 C321.07,440.93 320.24,440.05 319.61,439.52 C318.97,438.99 318.19,438.63 317.75,437.91 C317.30,437.18 317.10,435.95 316.92,435.17 C316.74,434.39 316.75,433.92 316.64,433.23 C316.53,432.54 316.21,431.62 316.27,431.05 C316.33,430.48 316.58,430.07 316.99,429.81 C317.40,429.55 318.26,429.40 318.73,429.48 C319.20,429.55 319.40,429.85 319.83,430.24 C320.27,430.63 320.79,431.25 321.34,431.82 C321.88,432.38 322.72,433.02 323.10,433.62Z" fill="#0a0440" opacity="0.7" filter="url(#tx2)"/>
<path d="M313.99,458.49 C314.01,459.08 313.78,460.16 313.53,460.61 C313.28,461.06 312.79,460.86 312.49,461.18 C312.19,461.49 312.20,462.40 311.72,462.49 C311.24,462.57 310.22,461.85 309.62,461.69 C309.03,461.52 308.51,461.81 308.17,461.49 C307.82,461.18 307.66,460.23 307.55,459.78 C307.43,459.34 307.55,459.31 307.46,458.84 C307.38,458.36 306.82,457.37 307.03,456.94 C307.25,456.51 308.32,456.44 308.77,456.27 C309.23,456.09 309.40,456.04 309.77,455.88 C310.13,455.73 310.57,455.31 310.98,455.34 C311.40,455.38 311.84,455.81 312.24,456.10 C312.64,456.39 313.10,456.68 313.39,457.08 C313.68,457.48 313.96,457.90 313.99,458.49Z" fill="#3420e0" filter="url(#b05)"/>
<path d="M313.81,458.50 C313.84,459.06 313.62,460.09 313.38,460.51 C313.14,460.94 312.68,460.76 312.39,461.05 C312.11,461.35 312.11,462.22 311.66,462.30 C311.20,462.38 310.23,461.69 309.67,461.54 C309.11,461.38 308.61,461.66 308.28,461.36 C307.95,461.05 307.80,460.15 307.69,459.73 C307.58,459.31 307.70,459.28 307.62,458.83 C307.54,458.38 307.00,457.43 307.21,457.03 C307.41,456.62 308.43,456.56 308.86,456.39 C309.29,456.22 309.45,456.17 309.80,456.02 C310.15,455.88 310.57,455.48 310.96,455.51 C311.35,455.54 311.78,455.95 312.16,456.23 C312.54,456.50 312.97,456.78 313.24,457.16 C313.52,457.54 313.79,457.94 313.81,458.50Z" fill="#0a0440" opacity="0.7" filter="url(#tx2)"/>
<path d="M327.41,462.90 C327.32,463.22 327.02,463.83 326.85,464.09 C326.68,464.34 326.57,464.32 326.39,464.44 C326.21,464.56 326.03,464.67 325.78,464.81 C325.52,464.96 325.12,465.35 324.86,465.31 C324.59,465.28 324.49,464.82 324.19,464.58 C323.89,464.34 323.20,464.09 323.05,463.87 C322.91,463.66 323.24,463.58 323.33,463.28 C323.42,462.98 323.48,462.38 323.57,462.07 C323.67,461.75 323.71,461.50 323.92,461.39 C324.14,461.29 324.57,461.50 324.88,461.43 C325.19,461.36 325.56,460.94 325.81,460.97 C326.05,461.00 326.11,461.40 326.36,461.60 C326.62,461.81 327.18,461.98 327.35,462.20 C327.53,462.42 327.49,462.59 327.41,462.90Z" fill="#3018ff" filter="url(#b05)"/>
<path d="M323.34,470.01 C323.27,470.48 322.73,471.03 322.57,471.62 C322.40,472.21 322.71,473.17 322.36,473.54 C322.01,473.91 321.09,473.82 320.47,473.84 C319.85,473.87 319.17,473.73 318.65,473.68 C318.12,473.64 317.73,473.79 317.30,473.56 C316.88,473.33 316.31,472.93 316.08,472.31 C315.86,471.70 315.83,470.44 315.96,469.85 C316.09,469.27 316.70,469.26 316.86,468.82 C317.03,468.39 316.58,467.65 316.94,467.25 C317.30,466.84 318.50,466.57 319.05,466.40 C319.60,466.24 319.64,466.11 320.25,466.26 C320.85,466.40 322.20,466.85 322.66,467.27 C323.13,467.68 322.92,468.30 323.03,468.76 C323.15,469.21 323.42,469.53 323.34,470.01Z" fill="#3018ff" filter="url(#b05)"/>
<path d="M323.05,470.02 C322.98,470.46 322.49,470.96 322.34,471.51 C322.19,472.05 322.47,472.93 322.15,473.28 C321.83,473.62 320.98,473.53 320.41,473.55 C319.84,473.57 319.22,473.45 318.73,473.40 C318.24,473.36 317.89,473.50 317.50,473.29 C317.10,473.08 316.58,472.71 316.37,472.14 C316.16,471.58 316.14,470.42 316.25,469.88 C316.37,469.35 316.94,469.33 317.09,468.93 C317.24,468.53 316.83,467.85 317.16,467.48 C317.50,467.11 318.60,466.86 319.10,466.71 C319.61,466.55 319.65,466.44 320.20,466.57 C320.76,466.70 322.00,467.12 322.43,467.50 C322.85,467.89 322.66,468.45 322.77,468.87 C322.87,469.29 323.12,469.58 323.05,470.02Z" fill="none" stroke="#e030d0" stroke-width="1.0" stroke-dasharray="2 0.6" opacity="0.9" filter="url(#b05)"/>
<path d="M255.67,479.03 C255.40,479.79 255.12,480.39 254.79,480.93 C254.46,481.48 254.20,481.98 253.67,482.31 C253.13,482.64 252.24,482.75 251.56,482.93 C250.89,483.11 250.27,483.28 249.59,483.37 C248.91,483.45 248.03,484.01 247.47,483.46 C246.91,482.92 246.58,480.96 246.21,480.10 C245.84,479.25 245.35,478.98 245.25,478.33 C245.16,477.68 245.23,476.85 245.64,476.22 C246.04,475.59 247.09,475.03 247.70,474.55 C248.30,474.08 248.42,473.66 249.25,473.36 C250.07,473.07 251.83,472.56 252.64,472.78 C253.45,472.99 253.50,474.04 254.12,474.64 C254.75,475.24 256.13,475.65 256.39,476.38 C256.65,477.11 255.94,478.27 255.67,479.03Z" fill="#3420e0" filter="url(#b05)"/>
<path d="M255.42,479.00 C255.16,479.72 254.90,480.29 254.58,480.81 C254.26,481.33 254.02,481.80 253.51,482.12 C253.00,482.44 252.16,482.54 251.52,482.71 C250.87,482.88 250.29,483.04 249.64,483.12 C248.99,483.21 248.16,483.73 247.63,483.22 C247.09,482.70 246.78,480.83 246.43,480.02 C246.08,479.21 245.61,478.95 245.52,478.34 C245.43,477.72 245.50,476.93 245.88,476.33 C246.27,475.74 247.27,475.20 247.84,474.75 C248.41,474.30 248.53,473.90 249.32,473.62 C250.10,473.34 251.77,472.86 252.54,473.06 C253.31,473.27 253.35,474.26 253.95,474.83 C254.54,475.40 255.85,475.79 256.10,476.49 C256.34,477.18 255.67,478.28 255.42,479.00Z" fill="#0a0440" opacity="0.7" filter="url(#tx2)"/>
<path d="M310.83,484.82 C311.01,486.00 310.70,487.25 310.31,488.13 C309.92,489.01 309.46,489.71 308.48,490.11 C307.50,490.51 305.86,490.42 304.42,490.53 C302.97,490.64 301.35,490.93 299.82,490.78 C298.29,490.63 296.32,490.22 295.24,489.65 C294.17,489.09 294.10,488.20 293.36,487.39 C292.63,486.59 290.81,485.94 290.83,484.82 C290.85,483.71 292.55,481.74 293.47,480.71 C294.38,479.69 295.21,479.16 296.33,478.67 C297.46,478.17 298.92,477.95 300.21,477.75 C301.49,477.54 302.52,477.31 304.04,477.45 C305.56,477.58 308.47,477.96 309.33,478.56 C310.19,479.16 308.96,480.00 309.20,481.05 C309.45,482.09 310.65,483.64 310.83,484.82Z" fill="#3420e0" filter="url(#b05)"/>
<path d="M310.37,484.79 C310.55,485.91 310.25,487.10 309.88,487.94 C309.50,488.78 309.07,489.44 308.14,489.82 C307.21,490.20 305.65,490.11 304.28,490.22 C302.91,490.33 301.37,490.59 299.91,490.46 C298.46,490.32 296.59,489.92 295.57,489.38 C294.54,488.85 294.48,488.00 293.78,487.24 C293.08,486.47 291.36,485.86 291.37,484.80 C291.39,483.74 293.01,481.87 293.88,480.89 C294.75,479.92 295.53,479.42 296.60,478.95 C297.67,478.48 299.06,478.27 300.28,478.07 C301.51,477.88 302.48,477.66 303.93,477.79 C305.37,477.92 308.13,478.28 308.95,478.85 C309.77,479.42 308.59,480.22 308.83,481.21 C309.07,482.20 310.20,483.67 310.37,484.79Z" fill="#0a0440" opacity="0.7" filter="url(#tx2)"/>
<path d="M323.63,499.28 C323.61,499.84 323.50,500.65 323.19,501.26 C322.88,501.87 322.22,502.69 321.77,502.94 C321.32,503.19 321.02,502.73 320.49,502.75 C319.96,502.77 319.27,503.13 318.58,503.06 C317.90,503.00 316.79,502.70 316.35,502.35 C315.92,502.00 316.17,501.44 315.99,500.97 C315.81,500.51 315.20,500.16 315.27,499.57 C315.33,498.98 316.09,497.98 316.38,497.44 C316.67,496.91 316.62,496.65 317.00,496.37 C317.39,496.08 318.19,495.92 318.68,495.71 C319.16,495.49 319.38,495.06 319.91,495.09 C320.44,495.12 321.31,495.43 321.86,495.90 C322.42,496.36 322.97,497.32 323.26,497.89 C323.55,498.45 323.64,498.72 323.63,499.28Z" fill="#3420e0" filter="url(#b05)"/>
<path d="M323.41,499.28 C323.40,499.82 323.30,500.59 323.00,501.16 C322.71,501.74 322.08,502.52 321.65,502.76 C321.22,502.99 320.94,502.56 320.43,502.58 C319.93,502.60 319.28,502.94 318.62,502.87 C317.97,502.81 316.92,502.53 316.51,502.20 C316.10,501.87 316.33,501.33 316.16,500.89 C315.99,500.45 315.41,500.12 315.48,499.56 C315.54,499.00 316.25,498.04 316.53,497.54 C316.80,497.03 316.76,496.79 317.12,496.51 C317.49,496.24 318.25,496.09 318.71,495.89 C319.17,495.68 319.38,495.27 319.88,495.30 C320.39,495.33 321.21,495.63 321.74,496.07 C322.27,496.51 322.79,497.42 323.07,497.96 C323.35,498.49 323.43,498.75 323.41,499.28Z" fill="#0a0440" opacity="0.7" filter="url(#tx2)"/>
<path d="M270.87,503.19 C270.84,503.75 269.70,504.75 269.33,505.31 C268.96,505.87 269.03,506.10 268.64,506.58 C268.25,507.05 267.49,507.94 266.99,508.14 C266.50,508.34 266.16,508.03 265.67,507.77 C265.19,507.51 264.55,506.99 264.09,506.60 C263.64,506.21 263.34,505.91 262.95,505.43 C262.57,504.95 261.70,504.30 261.79,503.74 C261.87,503.18 263.18,502.66 263.45,502.07 C263.71,501.48 263.00,500.59 263.38,500.18 C263.76,499.77 265.05,499.71 265.73,499.61 C266.42,499.51 267.02,499.45 267.49,499.59 C267.96,499.74 268.22,500.09 268.56,500.49 C268.90,500.88 269.15,501.53 269.54,501.98 C269.92,502.43 270.91,502.64 270.87,503.19Z" fill="#3018ff" filter="url(#b05)"/>
<path d="M302.98,504.36 C302.83,505.10 302.98,505.96 302.73,506.53 C302.48,507.10 302.00,507.31 301.48,507.78 C300.96,508.24 300.13,509.24 299.62,509.34 C299.11,509.44 299.10,508.54 298.43,508.37 C297.76,508.20 296.07,508.65 295.60,508.32 C295.14,508.00 295.92,507.14 295.66,506.43 C295.39,505.71 294.04,504.60 294.03,504.02 C294.02,503.43 295.22,503.55 295.57,502.94 C295.91,502.32 295.70,500.74 296.10,500.33 C296.49,499.92 297.19,500.52 297.94,500.46 C298.70,500.40 299.86,499.82 300.60,499.95 C301.34,500.09 301.87,500.90 302.37,501.25 C302.88,501.60 303.52,501.53 303.62,502.05 C303.72,502.57 303.13,503.61 302.98,504.36Z" fill="#3420e0" filter="url(#b05)"/>
<path d="M302.78,504.37 C302.64,505.08 302.78,505.89 302.55,506.43 C302.31,506.97 301.85,507.17 301.36,507.62 C300.87,508.06 300.08,509.01 299.59,509.10 C299.11,509.20 299.10,508.35 298.47,508.19 C297.83,508.02 296.22,508.45 295.78,508.14 C295.34,507.83 296.08,507.02 295.83,506.34 C295.58,505.65 294.30,504.60 294.28,504.05 C294.27,503.49 295.42,503.60 295.74,503.02 C296.07,502.44 295.87,500.94 296.25,500.54 C296.62,500.15 297.29,500.72 298.00,500.66 C298.72,500.61 299.83,500.06 300.53,500.19 C301.23,500.31 301.73,501.08 302.21,501.41 C302.69,501.75 303.30,501.69 303.39,502.18 C303.49,502.67 302.92,503.66 302.78,504.37Z" fill="#0a0440" opacity="0.7" filter="url(#tx2)"/>
</g>
<rect x="302.90" y="499.20" width="12.3" height="1.9" fill="#fff"/>
<text x="0.40" y="12.10" font-size="14.6" text-anchor="start" fill="#000" font-weight="bold" transform="translate(0.40 12.10) scale(1 1.1) translate(-0.40 -12.10)" >A</text>
<text x="190.60" y="12.00" font-size="14.6" text-anchor="start" fill="#000" font-weight="bold" transform="translate(190.60 12.00) scale(1 1.1) translate(-190.60 -12.00)" >B</text>
<text x="383.60" y="11.60" font-size="14.6" text-anchor="start" fill="#000" font-weight="bold" transform="translate(383.60 11.60) scale(1 1.1) translate(-383.60 -11.60)" >C</text>
<text x="0.40" y="173.10" font-size="14.6" text-anchor="start" fill="#000" font-weight="bold" transform="translate(0.40 173.10) scale(1 1.1) translate(-0.40 -173.10)" >D</text>
<text x="0.70" y="325.30" font-size="14.6" text-anchor="start" fill="#000" font-weight="bold" transform="translate(0.70 325.30) scale(1 1.1) translate(-0.70 -325.30)" >E</text>
<line x1="39.30" y1="27.50" x2="39.30" y2="117.10" stroke="#4a4a4a" stroke-width="0.9" />
<line x1="38.90" y1="116.80" x2="171.50" y2="116.80" stroke="#a6a6a6" stroke-width="1.3" />
<line x1="36.30" y1="116.60" x2="39.30" y2="116.60" stroke="#4a4a4a" stroke-width="0.8" />
<text x="34.40" y="119.50" font-size="6.8" text-anchor="end" fill="#1e1e1e" stroke="#1e1e1e" stroke-width="0.1" transform="translate(34.40 119.50) scale(1 1.1) translate(-34.40 -119.50)" >0</text>
<line x1="36.30" y1="98.86" x2="39.30" y2="98.86" stroke="#4a4a4a" stroke-width="0.8" />
<text x="34.40" y="101.76" font-size="6.8" text-anchor="end" fill="#1e1e1e" stroke="#1e1e1e" stroke-width="0.1" transform="translate(34.40 101.76) scale(1 1.1) translate(-34.40 -101.76)" >1000</text>
<line x1="36.30" y1="81.12" x2="39.30" y2="81.12" stroke="#4a4a4a" stroke-width="0.8" />
<text x="34.40" y="84.02" font-size="6.8" text-anchor="end" fill="#1e1e1e" stroke="#1e1e1e" stroke-width="0.1" transform="translate(34.40 84.02) scale(1 1.1) translate(-34.40 -84.02)" >2000</text>
<line x1="36.30" y1="63.38" x2="39.30" y2="63.38" stroke="#4a4a4a" stroke-width="0.8" />
<text x="34.40" y="66.28" font-size="6.8" text-anchor="end" fill="#1e1e1e" stroke="#1e1e1e" stroke-width="0.1" transform="translate(34.40 66.28) scale(1 1.1) translate(-34.40 -66.28)" >3000</text>
<line x1="36.30" y1="45.64" x2="39.30" y2="45.64" stroke="#4a4a4a" stroke-width="0.8" />
<text x="34.40" y="48.54" font-size="6.8" text-anchor="end" fill="#1e1e1e" stroke="#1e1e1e" stroke-width="0.1" transform="translate(34.40 48.54) scale(1 1.1) translate(-34.40 -48.54)" >4000</text>
<line x1="36.30" y1="27.90" x2="39.30" y2="27.90" stroke="#4a4a4a" stroke-width="0.8" />
<text x="34.40" y="30.80" font-size="6.8" text-anchor="end" fill="#1e1e1e" stroke="#1e1e1e" stroke-width="0.1" transform="translate(34.40 30.80) scale(1 1.1) translate(-34.40 -30.80)" >5000</text>
<line x1="55.90" y1="116.60" x2="55.90" y2="119.40" stroke="#4a4a4a" stroke-width="0.8" />
<text x="55.90" y="127.20" font-size="6.8" text-anchor="middle" fill="#1e1e1e" stroke="#1e1e1e" stroke-width="0.1" transform="translate(55.90 127.20) scale(1 1.1) translate(-55.90 -127.20)" >0</text>
<line x1="80.80" y1="116.60" x2="80.80" y2="119.40" stroke="#4a4a4a" stroke-width="0.8" />
<text x="80.80" y="127.20" font-size="6.8" text-anchor="middle" fill="#1e1e1e" stroke="#1e1e1e" stroke-width="0.1" transform="translate(80.80 127.20) scale(1 1.1) translate(-80.80 -127.20)" >24</text>
<line x1="105.70" y1="116.60" x2="105.70" y2="119.40" stroke="#4a4a4a" stroke-width="0.8" />
<text x="105.70" y="127.20" font-size="6.8" text-anchor="middle" fill="#1e1e1e" stroke="#1e1e1e" stroke-width="0.1" transform="translate(105.70 127.20) scale(1 1.1) translate(-105.70 -127.20)" >48</text>
<line x1="130.60" y1="116.60" x2="130.60" y2="119.40" stroke="#4a4a4a" stroke-width="0.8" />
<text x="130.60" y="127.20" font-size="6.8" text-anchor="middle" fill="#1e1e1e" stroke="#1e1e1e" stroke-width="0.1" transform="translate(130.60 127.20) scale(1 1.1) translate(-130.60 -127.20)" >72</text>
<line x1="155.40" y1="116.60" x2="155.40" y2="119.40" stroke="#4a4a4a" stroke-width="0.8" />
<text x="155.40" y="127.20" font-size="6.8" text-anchor="middle" fill="#1e1e1e" stroke="#1e1e1e" stroke-width="0.1" transform="translate(155.40 127.20) scale(1 1.1) translate(-155.40 -127.20)" >96</text>
<text x="106.50" y="137.50" font-size="7.3" text-anchor="middle" fill="#1e1e1e" stroke="#1e1e1e" stroke-width="0.1" transform="translate(106.50 137.50) scale(1 1.1) translate(-106.50 -137.50)" >Time (h)</text>
<text x="13.20" y="71.80" font-size="7.35" text-anchor="middle" fill="#1e1e1e" stroke="#1e1e1e" stroke-width="0.1" transform="rotate(-90 13.20 71.80) translate(13.20 71.80) scale(1 1.1) translate(-13.20 -71.80)" >Fluorescence (RFU)</text>
<polyline points="55.90,107.80 80.80,104.90 105.70,102.40 130.60,94.90 155.40,94.50" fill="none" stroke="#f2393f" stroke-width="1.15"/>
<circle cx="80.80" cy="104.90" r="1.65" fill="#f2393f" />
<circle cx="105.70" cy="102.40" r="1.65" fill="#f2393f" />
<circle cx="130.60" cy="94.90" r="1.65" fill="#f2393f" />
<circle cx="155.40" cy="94.50" r="1.65" fill="#f2393f" />
<polyline points="55.90,107.80 80.80,102.40 105.70,90.60 130.60,61.80 155.40,35.70" fill="none" stroke="#62a2f7" stroke-width="1.15"/>
<circle cx="55.90" cy="107.80" r="1.65" fill="#62a2f7" />
<circle cx="80.80" cy="102.40" r="1.65" fill="#62a2f7" />
<circle cx="105.70" cy="90.60" r="1.65" fill="#62a2f7" />
<circle cx="130.60" cy="61.80" r="1.65" fill="#62a2f7" />
<circle cx="155.40" cy="35.70" r="1.65" fill="#62a2f7" />
<line x1="130.60" y1="60.20" x2="130.60" y2="63.40" stroke="#4a7fd0" stroke-width="0.7" />
<line x1="129.30" y1="60.20" x2="131.90" y2="60.20" stroke="#4a7fd0" stroke-width="0.7" />
<line x1="129.30" y1="63.40" x2="131.90" y2="63.40" stroke="#4a7fd0" stroke-width="0.7" />
<line x1="155.40" y1="33.60" x2="155.40" y2="37.80" stroke="#4a7fd0" stroke-width="0.7" />
<line x1="154.10" y1="33.60" x2="156.70" y2="33.60" stroke="#4a7fd0" stroke-width="0.7" />
<line x1="154.10" y1="37.80" x2="156.70" y2="37.80" stroke="#4a7fd0" stroke-width="0.7" />
<text x="80.80" y="96.70" font-size="7.1" text-anchor="middle" fill="#1e1e1e" stroke="#1e1e1e" stroke-width="0.1" transform="translate(80.80 96.70) scale(1 1.1) translate(-80.80 -96.70)" >*</text>
<text x="105.70" y="81.90" font-size="7.1" text-anchor="middle" fill="#1e1e1e" stroke="#1e1e1e" stroke-width="0.1" transform="translate(105.70 81.90) scale(1 1.1) translate(-105.70 -81.90)" >****</text>
<text x="130.60" y="56.80" font-size="7.1" text-anchor="middle" fill="#1e1e1e" stroke="#1e1e1e" stroke-width="0.1" transform="translate(130.60 56.80) scale(1 1.1) translate(-130.60 -56.80)" >****</text>
<text x="156.00" y="30.60" font-size="7.1" text-anchor="middle" fill="#1e1e1e" stroke="#1e1e1e" stroke-width="0.1" transform="translate(156.00 30.60) scale(1 1.1) translate(-156.00 -30.60)" >****</text>
<line x1="50.00" y1="21.00" x2="59.50" y2="21.00" stroke="#62a2f7" stroke-width="1" />
<circle cx="54.70" cy="21.00" r="1.65" fill="#62a2f7" />
<text x="62.60" y="22.90" font-size="7.35" text-anchor="start" fill="#1e1e1e" stroke="#1e1e1e" stroke-width="0.1" transform="translate(62.60 22.90) scale(1 1.1) translate(-62.60 -22.90)" >sgNC</text>
<line x1="50.00" y1="32.40" x2="59.50" y2="32.40" stroke="#f2393f" stroke-width="1" />
<circle cx="54.70" cy="32.40" r="1.65" fill="#f2393f" />
<text x="62.60" y="34.40" font-size="7.35" text-anchor="start" fill="#1e1e1e" stroke="#1e1e1e" stroke-width="0.1" transform="translate(62.60 34.40) scale(1 1.1) translate(-62.60 -34.40)" >sgHNRNPH1</text>
<line x1="227.50" y1="28.00" x2="227.50" y2="117.00" stroke="#4a4a4a" stroke-width="0.9" />
<line x1="224.00" y1="116.50" x2="360.00" y2="116.50" stroke="#8c8c8c" stroke-width="1.0" />
<line x1="223.50" y1="116.50" x2="227.50" y2="116.50" stroke="#4a4a4a" stroke-width="0.8" />
<text x="221.90" y="119.10" font-size="7.3" text-anchor="end" fill="#1e1e1e" stroke="#1e1e1e" stroke-width="0.1" transform="translate(221.90 119.10) scale(1 1.1) translate(-221.90 -119.10)" >0</text>
<line x1="223.50" y1="101.82" x2="227.50" y2="101.82" stroke="#4a4a4a" stroke-width="0.8" />
<text x="221.90" y="104.42" font-size="7.3" text-anchor="end" fill="#1e1e1e" stroke="#1e1e1e" stroke-width="0.1" transform="translate(221.90 104.42) scale(1 1.1) translate(-221.90 -104.42)" >20</text>
<line x1="223.50" y1="87.13" x2="227.50" y2="87.13" stroke="#4a4a4a" stroke-width="0.8" />
<text x="221.90" y="89.73" font-size="7.3" text-anchor="end" fill="#1e1e1e" stroke="#1e1e1e" stroke-width="0.1" transform="translate(221.90 89.73) scale(1 1.1) translate(-221.90 -89.73)" >40</text>
<line x1="223.50" y1="72.45" x2="227.50" y2="72.45" stroke="#4a4a4a" stroke-width="0.8" />
<text x="221.90" y="75.05" font-size="7.3" text-anchor="end" fill="#1e1e1e" stroke="#1e1e1e" stroke-width="0.1" transform="translate(221.90 75.05) scale(1 1.1) translate(-221.90 -75.05)" >60</text>
<line x1="223.50" y1="57.77" x2="227.50" y2="57.77" stroke="#4a4a4a" stroke-width="0.8" />
<text x="221.90" y="60.37" font-size="7.3" text-anchor="end" fill="#1e1e1e" stroke="#1e1e1e" stroke-width="0.1" transform="translate(221.90 60.37) scale(1 1.1) translate(-221.90 -60.37)" >80</text>
<line x1="223.50" y1="43.08" x2="227.50" y2="43.08" stroke="#4a4a4a" stroke-width="0.8" />
<text x="221.90" y="45.68" font-size="7.3" text-anchor="end" fill="#1e1e1e" stroke="#1e1e1e" stroke-width="0.1" transform="translate(221.90 45.68) scale(1 1.1) translate(-221.90 -45.68)" >100</text>
<line x1="223.50" y1="28.40" x2="227.50" y2="28.40" stroke="#4a4a4a" stroke-width="0.8" />
<text x="221.90" y="31.00" font-size="7.3" text-anchor="end" fill="#1e1e1e" stroke="#1e1e1e" stroke-width="0.1" transform="translate(221.90 31.00) scale(1 1.1) translate(-221.90 -31.00)" >120</text>
<line x1="227.50" y1="116.50" x2="227.50" y2="119.30" stroke="#4a4a4a" stroke-width="0.8" />
<text x="227.50" y="127.80" font-size="7.3" text-anchor="middle" fill="#1e1e1e" stroke="#1e1e1e" stroke-width="0.1" transform="translate(227.50 127.80) scale(1 1.1) translate(-227.50 -127.80)" >0</text>
<line x1="271.58" y1="116.50" x2="271.58" y2="119.30" stroke="#4a4a4a" stroke-width="0.8" />
<text x="271.58" y="127.80" font-size="7.3" text-anchor="middle" fill="#1e1e1e" stroke="#1e1e1e" stroke-width="0.1" transform="translate(271.58 127.80) scale(1 1.1) translate(-271.58 -127.80)" >200</text>
<line x1="315.66" y1="116.50" x2="315.66" y2="119.30" stroke="#4a4a4a" stroke-width="0.8" />
<text x="315.66" y="127.80" font-size="7.3" text-anchor="middle" fill="#1e1e1e" stroke="#1e1e1e" stroke-width="0.1" transform="translate(315.66 127.80) scale(1 1.1) translate(-315.66 -127.80)" >400</text>
<line x1="359.74" y1="116.50" x2="359.74" y2="119.30" stroke="#4a4a4a" stroke-width="0.8" />
<text x="359.74" y="127.80" font-size="7.3" text-anchor="middle" fill="#1e1e1e" stroke="#1e1e1e" stroke-width="0.1" transform="translate(359.74 127.80) scale(1 1.1) translate(-359.74 -127.80)" >600</text>
<text x="293.00" y="136.30" font-size="7.4" text-anchor="middle" fill="#1e1e1e" stroke="#1e1e1e" stroke-width="0.1" transform="translate(293.00 136.30) scale(1 1.1) translate(-293.00 -136.30)" >Number of cells per well</text>
<text x="207.60" y="72.80" font-size="7.4" text-anchor="middle" fill="#1e1e1e" stroke="#1e1e1e" stroke-width="0.1" transform="rotate(-90 207.60 72.80) translate(207.60 72.80) scale(1 1.1) translate(-207.60 -72.80)" >Percentage of negative wells</text>
<line x1="228.20" y1="49.60" x2="239.80" y2="116.50" stroke="#333" stroke-width="0.75" />
<line x1="234.00" y1="55.80" x2="329.50" y2="116.50" stroke="#333" stroke-width="0.75" />
<circle cx="228.80" cy="43.20" r="1.75" fill="#62a2f7" />
<circle cx="230.90" cy="60.50" r="1.75" fill="#62a2f7" />
<circle cx="234.00" cy="92.20" r="1.75" fill="#62a2f7" />
<circle cx="241.00" cy="116.50" r="1.75" fill="#62a2f7" />
<rect x="232.25" y="41.45" width="3.50" height="3.50" fill="#f2393f" />
<rect x="239.25" y="58.75" width="3.50" height="3.50" fill="#f2393f" />
<rect x="253.25" y="78.25" width="3.50" height="3.50" fill="#f2393f" />
<rect x="280.75" y="90.45" width="3.50" height="3.50" fill="#f2393f" />
<rect x="335.95" y="114.75" width="3.50" height="3.50" fill="#f2393f" />
<line x1="304.00" y1="29.90" x2="313.60" y2="29.90" stroke="#333" stroke-width="0.8" />
<circle cx="308.60" cy="29.90" r="1.9" fill="#62a2f7" />
<text x="316.80" y="32.30" font-size="7.35" text-anchor="start" fill="#1e1e1e" stroke="#1e1e1e" stroke-width="0.1" transform="translate(316.80 32.30) scale(1 1.1) translate(-316.80 -32.30)" >sgNC</text>
<line x1="304.00" y1="41.50" x2="313.60" y2="41.50" stroke="#333" stroke-width="0.8" />
<rect x="306.70" y="39.60" width="3.80" height="3.80" fill="#f2393f" />
<text x="316.80" y="44.20" font-size="7.35" text-anchor="start" fill="#1e1e1e" stroke="#1e1e1e" stroke-width="0.1" transform="translate(316.80 44.20) scale(1 1.1) translate(-316.80 -44.20)" >sgHNRNPH1</text>
<text x="318.0" y="60.0" font-size="7.35" fill="#1e1e1e"><tspan font-style="italic">p</tspan> = 0.005</text>
<path d="M419.60,133.30 L419.60,133.30 L419.93,133.30 L420.26,133.30 L420.59,133.30 L420.92,133.30 L421.25,133.30 L421.58,133.30 L421.91,133.30 L422.25,133.30 L422.58,133.30 L422.91,133.30 L423.24,133.30 L423.57,133.30 L423.90,133.30 L424.23,133.30 L424.56,133.30 L424.89,133.30 L425.22,133.30 L425.55,133.30 L425.88,133.30 L426.21,133.30 L426.54,133.30 L426.87,133.30 L427.20,133.30 L427.54,133.30 L427.87,133.30 L428.20,133.30 L428.53,133.30 L428.86,133.30 L429.19,133.30 L429.52,133.30 L429.85,133.30 L430.18,133.30 L430.51,133.30 L430.84,133.30 L431.17,133.30 L431.50,133.30 L431.83,133.30 L432.16,133.30 L432.50,133.30 L432.83,133.30 L433.16,133.30 L433.49,133.30 L433.82,133.30 L434.15,133.30 L434.48,133.30 L434.81,133.30 L435.14,133.30 L435.47,133.30 L435.80,133.30 L436.13,133.30 L436.46,133.30 L436.79,133.30 L437.12,133.30 L437.46,133.30 L437.79,133.30 L438.12,133.30 L438.45,133.30 L438.78,133.30 L439.11,133.30 L439.44,133.30 L439.77,133.30 L440.10,133.30 L440.43,133.30 L440.76,133.30 L441.09,133.30 L441.42,133.30 L441.75,133.30 L442.08,133.30 L442.41,133.30 L442.75,133.30 L443.08,133.30 L443.41,133.30 L443.74,133.30 L444.07,133.30 L444.40,133.30 L444.73,133.30 L445.06,133.30 L445.39,133.30 L445.72,133.30 L446.05,133.30 L446.38,133.30 L446.71,133.30 L447.04,133.27 L447.37,133.24 L447.71,133.19 L448.04,133.11 L448.37,132.97 L448.70,132.73 L449.03,132.31 L449.36,131.56 L449.69,130.19 L450.02,127.80 L450.35,123.84 L450.68,117.68 L451.01,108.84 L451.34,97.18 L451.67,83.21 L452.00,68.21 L452.33,54.08 L452.67,42.99 L453.00,36.81 L453.33,36.65 L453.66,42.58 L453.99,53.54 L454.32,67.51 L454.65,82.12 L454.98,95.44 L455.31,106.30 L455.64,114.35 L455.97,119.83 L456.30,123.30 L456.63,125.35 L456.96,126.51 L457.29,127.15 L457.62,127.53 L457.96,127.76 L458.29,127.92 L458.62,128.05 L458.95,128.16 L459.28,128.26 L459.61,128.35 L459.94,128.42 L460.27,128.50 L460.60,128.56 L460.93,128.62 L461.26,128.67 L461.59,128.72 L461.92,128.76 L462.25,128.80 L462.58,128.83 L462.92,128.87 L463.25,128.90 L463.58,128.92 L463.91,128.95 L464.24,128.97 L464.57,128.99 L464.90,129.00 L465.23,129.02 L465.56,129.03 L465.89,129.05 L466.22,129.06 L466.55,129.07 L466.88,129.08 L467.21,129.09 L467.54,129.10 L467.87,129.10 L468.21,129.11 L468.54,129.11 L468.87,129.12 L469.20,129.12 L469.53,129.13 L469.86,129.13 L470.19,129.14 L470.52,129.14 L470.85,129.14 L471.18,129.15 L471.51,129.15 L471.84,129.15 L472.17,129.15 L472.50,129.15 L472.83,129.15 L473.17,129.16 L473.50,129.16 L473.83,129.16 L474.16,129.16 L474.49,129.16 L474.82,129.16 L475.15,129.16 L475.48,129.16 L475.81,129.16 L476.14,129.16 L476.47,129.16 L476.80,129.17 L477.13,129.17 L477.46,129.16 L477.79,129.16 L478.13,129.16 L478.46,129.15 L478.79,129.14 L479.12,129.12 L479.45,129.08 L479.78,129.01 L480.11,128.90 L480.44,128.73 L480.77,128.48 L481.10,128.11 L481.43,127.61 L481.76,126.96 L482.09,126.14 L482.42,125.16 L482.75,124.05 L483.08,122.87 L483.42,121.70 L483.75,120.65 L484.08,119.83 L484.41,119.33 L484.74,119.22 L485.07,119.53 L485.40,120.24 L485.73,121.27 L486.06,122.55 L486.39,123.98 L486.72,125.46 L487.05,126.92 L487.38,128.26 L487.71,129.45 L488.04,130.46 L488.38,131.27 L488.71,131.89 L489.04,132.36 L489.37,132.69 L489.70,132.92 L490.03,133.07 L490.36,133.16 L490.69,133.22 L491.02,133.26 L491.35,133.30 L491.68,133.30 L492.01,133.30 L492.34,133.30 L492.67,133.30 L493.00,133.30 L493.33,133.30 L493.67,133.30 L494.00,133.30 L494.33,133.30 L494.66,133.30 L494.99,133.30 L495.32,133.30 L495.65,133.30 L495.98,133.30 L496.31,133.30 L496.64,133.30 L496.97,133.30 L497.30,133.30 L497.63,133.30 L497.96,133.30 L498.29,133.30 L498.63,133.30 L498.96,133.30 L499.29,133.30 L499.62,133.30 L499.95,133.30 L500.28,133.30 L500.61,133.30 L500.94,133.30 L501.27,133.30 L501.60,133.30 L501.93,133.30 L502.26,133.30 L502.59,133.30 L502.92,133.30 L503.25,133.30 L503.59,133.30 L503.92,133.30 L504.25,133.30 L504.58,133.30 L504.91,133.30 L505.24,133.30 L505.57,133.30 L505.90,133.30 L506.23,133.30 L506.56,133.30 L506.89,133.30 L507.22,133.30 L507.55,133.30 L507.88,133.30 L508.21,133.30 L508.54,133.30 L508.88,133.30 L509.21,133.30 L509.54,133.30 L509.87,133.30 L510.20,133.30 L510.53,133.30 L510.86,133.30 L511.19,133.30 L511.52,133.30 L511.85,133.30 L512.18,133.30 L512.51,133.30 L512.84,133.30 L513.17,133.30 L513.50,133.30 L513.84,133.30 L514.17,133.30 L514.50,133.30 L514.83,133.30 L515.16,133.30 L515.49,133.30 L515.82,133.30 L516.15,133.30 L516.48,133.30 L516.81,133.30 L517.14,133.30 L517.47,133.30 L517.80,133.30 L518.13,133.30 L518.46,133.30 L518.80,133.30 L519.13,133.30 L519.46,133.30 L519.79,133.30 L520.12,133.30 L520.45,133.30 L520.78,133.30 L521.11,133.30 L521.44,133.30 L521.77,133.30 L522.10,133.30 L522.43,133.30 L522.76,133.30 L523.09,133.30 L523.42,133.30 L523.75,133.30 L524.09,133.30 L524.42,133.30 L524.75,133.30 L525.08,133.30 L525.08,133.30" fill="#8e8e8e" stroke="#2b2b2b" stroke-width="0.75" stroke-linejoin="round"/>
<path d="M420.60,133.30 L420.60,27.60 L525.90,27.60 L525.90,133.30" fill="none" stroke="#c4c4c4" stroke-width="0.8"/>
<line x1="420.60" y1="133.30" x2="525.90" y2="133.30" stroke="#3a3a3a" stroke-width="0.9" />
<line x1="418.60" y1="133.30" x2="420.60" y2="133.30" stroke="#888" stroke-width="0.7" />
<text x="415.30" y="135.70" font-size="6.9" text-anchor="end" fill="#1e1e1e" stroke="#1e1e1e" stroke-width="0.1" transform="translate(415.30 135.70) scale(1 1.1) translate(-415.30 -135.70)" >0</text>
<line x1="418.60" y1="103.80" x2="420.60" y2="103.80" stroke="#888" stroke-width="0.7" />
<text x="415.30" y="106.20" font-size="6.9" text-anchor="end" fill="#1e1e1e" stroke="#1e1e1e" stroke-width="0.1" transform="translate(415.30 106.20) scale(1 1.1) translate(-415.30 -106.20)" >0.5K</text>
<line x1="418.60" y1="74.30" x2="420.60" y2="74.30" stroke="#888" stroke-width="0.7" />
<text x="415.30" y="76.70" font-size="6.9" text-anchor="end" fill="#1e1e1e" stroke="#1e1e1e" stroke-width="0.1" transform="translate(415.30 76.70) scale(1 1.1) translate(-415.30 -76.70)" >1.0K</text>
<line x1="418.60" y1="44.80" x2="420.60" y2="44.80" stroke="#888" stroke-width="0.7" />
<text x="415.30" y="47.20" font-size="6.9" text-anchor="end" fill="#1e1e1e" stroke="#1e1e1e" stroke-width="0.1" transform="translate(415.30 47.20) scale(1 1.1) translate(-415.30 -47.20)" >1.5K</text>
<line x1="419.50" y1="127.40" x2="420.60" y2="127.40" stroke="#bbb" stroke-width="0.5" />
<line x1="419.50" y1="121.50" x2="420.60" y2="121.50" stroke="#bbb" stroke-width="0.5" />
<line x1="419.50" y1="115.60" x2="420.60" y2="115.60" stroke="#bbb" stroke-width="0.5" />
<line x1="419.50" y1="109.70" x2="420.60" y2="109.70" stroke="#bbb" stroke-width="0.5" />
<line x1="419.50" y1="97.90" x2="420.60" y2="97.90" stroke="#bbb" stroke-width="0.5" />
<line x1="419.50" y1="92.00" x2="420.60" y2="92.00" stroke="#bbb" stroke-width="0.5" />
<line x1="419.50" y1="86.10" x2="420.60" y2="86.10" stroke="#bbb" stroke-width="0.5" />
<line x1="419.50" y1="80.20" x2="420.60" y2="80.20" stroke="#bbb" stroke-width="0.5" />
<line x1="419.50" y1="68.40" x2="420.60" y2="68.40" stroke="#bbb" stroke-width="0.5" />
<line x1="419.50" y1="62.50" x2="420.60" y2="62.50" stroke="#bbb" stroke-width="0.5" />
<line x1="419.50" y1="56.60" x2="420.60" y2="56.60" stroke="#bbb" stroke-width="0.5" />
<line x1="419.50" y1="50.70" x2="420.60" y2="50.70" stroke="#bbb" stroke-width="0.5" />
<line x1="419.50" y1="38.90" x2="420.60" y2="38.90" stroke="#bbb" stroke-width="0.5" />
<line x1="419.50" y1="33.00" x2="420.60" y2="33.00" stroke="#bbb" stroke-width="0.5" />
<line x1="419.60" y1="133.30" x2="419.60" y2="134.90" stroke="#999" stroke-width="0.6" />
<text x="419.60" y="143.60" font-size="6.9" text-anchor="middle" fill="#1e1e1e" stroke="#1e1e1e" stroke-width="0.1" transform="translate(419.60 143.60) scale(1 1.1) translate(-419.60 -143.60)" >0</text>
<line x1="452.67" y1="133.30" x2="452.67" y2="134.90" stroke="#999" stroke-width="0.6" />
<text x="452.67" y="143.60" font-size="6.9" text-anchor="middle" fill="#1e1e1e" stroke="#1e1e1e" stroke-width="0.1" transform="translate(452.67 143.60) scale(1 1.1) translate(-452.67 -143.60)" >50K</text>
<line x1="485.73" y1="133.30" x2="485.73" y2="134.90" stroke="#999" stroke-width="0.6" />
<text x="485.73" y="143.60" font-size="6.9" text-anchor="middle" fill="#1e1e1e" stroke="#1e1e1e" stroke-width="0.1" transform="translate(485.73 143.60) scale(1 1.1) translate(-485.73 -143.60)" >100K</text>
<line x1="518.80" y1="133.30" x2="518.80" y2="134.90" stroke="#999" stroke-width="0.6" />
<text x="518.80" y="143.60" font-size="6.9" text-anchor="middle" fill="#1e1e1e" stroke="#1e1e1e" stroke-width="0.1" transform="translate(518.80 143.60) scale(1 1.1) translate(-518.80 -143.60)" >150K</text>
<line x1="426.21" y1="133.30" x2="426.21" y2="134.20" stroke="#bbb" stroke-width="0.5" />
<line x1="432.83" y1="133.30" x2="432.83" y2="134.20" stroke="#bbb" stroke-width="0.5" />
<line x1="439.44" y1="133.30" x2="439.44" y2="134.20" stroke="#bbb" stroke-width="0.5" />
<line x1="446.05" y1="133.30" x2="446.05" y2="134.20" stroke="#bbb" stroke-width="0.5" />
<line x1="459.28" y1="133.30" x2="459.28" y2="134.20" stroke="#bbb" stroke-width="0.5" />
<line x1="465.89" y1="133.30" x2="465.89" y2="134.20" stroke="#bbb" stroke-width="0.5" />
<line x1="472.50" y1="133.30" x2="472.50" y2="134.20" stroke="#bbb" stroke-width="0.5" />
<line x1="479.12" y1="133.30" x2="479.12" y2="134.20" stroke="#bbb" stroke-width="0.5" />
<line x1="492.34" y1="133.30" x2="492.34" y2="134.20" stroke="#bbb" stroke-width="0.5" />
<line x1="498.96" y1="133.30" x2="498.96" y2="134.20" stroke="#bbb" stroke-width="0.5" />
<line x1="505.57" y1="133.30" x2="505.57" y2="134.20" stroke="#bbb" stroke-width="0.5" />
<line x1="512.18" y1="133.30" x2="512.18" y2="134.20" stroke="#bbb" stroke-width="0.5" />
<text x="469.40" y="156.20" font-size="7.4" text-anchor="middle" fill="#1e1e1e" stroke="#1e1e1e" stroke-width="0.1" transform="translate(469.40 156.20) scale(1 1.1) translate(-469.40 -156.20)" >PE-A</text>
<text x="397.60" y="84.50" font-size="7.4" text-anchor="middle" fill="#1e1e1e" stroke="#1e1e1e" stroke-width="0.1" transform="rotate(-90 397.60 84.50) translate(397.60 84.50) scale(1 1.1) translate(-397.60 -84.50)" >Count</text>
<text x="420.90" y="23.50" font-size="7.3" text-anchor="start" fill="#1e1e1e" stroke="#1e1e1e" stroke-width="0.1" transform="translate(420.90 23.50) scale(1 1.1) translate(-420.90 -23.50)" >sgNC + Empty vector</text>
<text x="452.20" y="87.20" font-size="4.9" text-anchor="middle" fill="#222" stroke="#222" stroke-width="0.16" transform="translate(452.20 87.20) scale(1 1.1) translate(-452.20 -87.20)" >G0-G1</text>
<text x="452.20" y="93.20" font-size="4.9" text-anchor="middle" fill="#222" stroke="#222" stroke-width="0.16" transform="translate(452.20 93.20) scale(1 1.1) translate(-452.20 -93.20)" >60.3</text>
<line x1="446.00" y1="98.70" x2="458.80" y2="98.70" stroke="#333" stroke-width="0.7" />
<line x1="446.00" y1="96.80" x2="446.00" y2="100.60" stroke="#333" stroke-width="0.7" />
<line x1="458.80" y1="96.80" x2="458.80" y2="100.60" stroke="#333" stroke-width="0.7" />
<text x="468.80" y="107.80" font-size="4.9" text-anchor="middle" fill="#222" stroke="#222" stroke-width="0.16" transform="translate(468.80 107.80) scale(1 1.1) translate(-468.80 -107.80)" >S</text>
<text x="468.80" y="113.80" font-size="4.9" text-anchor="middle" fill="#222" stroke="#222" stroke-width="0.16" transform="translate(468.80 113.80) scale(1 1.1) translate(-468.80 -113.80)" >21.6</text>
<line x1="458.80" y1="119.30" x2="478.60" y2="119.30" stroke="#333" stroke-width="0.7" />
<line x1="458.80" y1="117.40" x2="458.80" y2="121.20" stroke="#333" stroke-width="0.7" />
<line x1="478.60" y1="117.40" x2="478.60" y2="121.20" stroke="#333" stroke-width="0.7" />
<text x="485.40" y="95.40" font-size="4.9" text-anchor="middle" fill="#222" stroke="#222" stroke-width="0.16" transform="translate(485.40 95.40) scale(1 1.1) translate(-485.40 -95.40)" >G2-M</text>
<text x="485.40" y="101.40" font-size="4.9" text-anchor="middle" fill="#222" stroke="#222" stroke-width="0.16" transform="translate(485.40 101.40) scale(1 1.1) translate(-485.40 -101.40)" >16.7</text>
<line x1="480.40" y1="106.70" x2="491.20" y2="106.70" stroke="#333" stroke-width="0.7" />
<line x1="480.40" y1="104.80" x2="480.40" y2="108.60" stroke="#333" stroke-width="0.7" />
<line x1="491.20" y1="104.80" x2="491.20" y2="108.60" stroke="#333" stroke-width="0.7" />
<path d="M572.10,132.90 L572.10,132.90 L572.43,132.90 L572.76,132.90 L573.09,132.90 L573.42,132.90 L573.75,132.90 L574.08,132.90 L574.41,132.90 L574.75,132.90 L575.08,132.90 L575.41,132.90 L575.74,132.90 L576.07,132.90 L576.40,132.90 L576.73,132.90 L577.06,132.90 L577.39,132.90 L577.72,132.90 L578.05,132.90 L578.38,132.90 L578.71,132.90 L579.04,132.90 L579.37,132.90 L579.70,132.90 L580.04,132.90 L580.37,132.90 L580.70,132.90 L581.03,132.90 L581.36,132.90 L581.69,132.90 L582.02,132.90 L582.35,132.90 L582.68,132.90 L583.01,132.90 L583.34,132.90 L583.67,132.90 L584.00,132.90 L584.33,132.90 L584.66,132.90 L585.00,132.90 L585.33,132.90 L585.66,132.90 L585.99,132.90 L586.32,132.90 L586.65,132.90 L586.98,132.90 L587.31,132.90 L587.64,132.90 L587.97,132.90 L588.30,132.90 L588.63,132.90 L588.96,132.90 L589.29,132.90 L589.62,132.90 L589.96,132.90 L590.29,132.90 L590.62,132.90 L590.95,132.90 L591.28,132.90 L591.61,132.90 L591.94,132.90 L592.27,132.90 L592.60,132.90 L592.93,132.90 L593.26,132.90 L593.59,132.90 L593.92,132.90 L594.25,132.90 L594.58,132.90 L594.91,132.90 L595.25,132.90 L595.58,132.90 L595.91,132.90 L596.24,132.90 L596.57,132.90 L596.90,132.90 L597.23,132.90 L597.56,132.90 L597.89,132.90 L598.22,132.90 L598.55,132.90 L598.88,132.90 L599.21,132.90 L599.54,132.90 L599.87,132.90 L600.21,132.87 L600.54,132.85 L600.87,132.80 L601.20,132.73 L601.53,132.60 L601.86,132.38 L602.19,132.00 L602.52,131.30 L602.85,130.04 L603.18,127.81 L603.51,124.09 L603.84,118.25 L604.17,109.78 L604.50,98.50 L604.83,84.83 L605.16,69.95 L605.50,55.70 L605.83,44.23 L606.16,37.48 L606.49,36.65 L606.82,41.93 L607.15,52.38 L607.48,66.06 L607.81,80.64 L608.14,94.11 L608.47,105.22 L608.80,113.55 L609.13,119.26 L609.46,122.90 L609.79,125.07 L610.12,126.29 L610.46,126.97 L610.79,127.36 L611.12,127.60 L611.45,127.76 L611.78,127.89 L612.11,127.99 L612.44,128.09 L612.77,128.17 L613.10,128.25 L613.43,128.32 L613.76,128.38 L614.09,128.43 L614.42,128.48 L614.75,128.53 L615.08,128.57 L615.42,128.61 L615.75,128.64 L616.08,128.67 L616.41,128.70 L616.74,128.73 L617.07,128.75 L617.40,128.77 L617.73,128.79 L618.06,128.81 L618.39,128.82 L618.72,128.83 L619.05,128.85 L619.38,128.86 L619.71,128.87 L620.04,128.88 L620.37,128.89 L620.71,128.89 L621.04,128.90 L621.37,128.91 L621.70,128.91 L622.03,128.92 L622.36,128.92 L622.69,128.93 L623.02,128.93 L623.35,128.93 L623.68,128.94 L624.01,128.94 L624.34,128.94 L624.67,128.94 L625.00,128.95 L625.33,128.95 L625.67,128.95 L626.00,128.95 L626.33,128.95 L626.66,128.95 L626.99,128.96 L627.32,128.96 L627.65,128.96 L627.98,128.96 L628.31,128.96 L628.64,128.96 L628.97,128.96 L629.30,128.96 L629.63,128.96 L629.96,128.96 L630.29,128.96 L630.63,128.95 L630.96,128.95 L631.29,128.93 L631.62,128.90 L631.95,128.85 L632.28,128.77 L632.61,128.64 L632.94,128.45 L633.27,128.15 L633.60,127.74 L633.93,127.18 L634.26,126.46 L634.59,125.57 L634.92,124.51 L635.25,123.34 L635.58,122.12 L635.92,120.94 L636.25,119.90 L636.58,119.13 L636.91,118.71 L637.24,118.70 L637.57,119.11 L637.90,119.91 L638.23,121.03 L638.56,122.38 L638.89,123.85 L639.22,125.36 L639.55,126.81 L639.88,128.14 L640.21,129.30 L640.54,130.26 L640.88,131.03 L641.21,131.62 L641.54,132.05 L641.87,132.36 L642.20,132.56 L642.53,132.70 L642.86,132.78 L643.19,132.83 L643.52,132.86 L643.85,132.90 L644.18,132.90 L644.51,132.90 L644.84,132.90 L645.17,132.90 L645.50,132.90 L645.83,132.90 L646.17,132.90 L646.50,132.90 L646.83,132.90 L647.16,132.90 L647.49,132.90 L647.82,132.90 L648.15,132.90 L648.48,132.90 L648.81,132.90 L649.14,132.90 L649.47,132.90 L649.80,132.90 L650.13,132.90 L650.46,132.90 L650.79,132.90 L651.13,132.90 L651.46,132.90 L651.79,132.90 L652.12,132.90 L652.45,132.90 L652.78,132.90 L653.11,132.90 L653.44,132.90 L653.77,132.90 L654.10,132.90 L654.43,132.90 L654.76,132.90 L655.09,132.90 L655.42,132.90 L655.75,132.90 L656.09,132.90 L656.42,132.90 L656.75,132.90 L657.08,132.90 L657.41,132.90 L657.74,132.90 L658.07,132.90 L658.40,132.90 L658.73,132.90 L659.06,132.90 L659.39,132.90 L659.72,132.90 L660.05,132.90 L660.38,132.90 L660.71,132.90 L661.04,132.90 L661.38,132.90 L661.71,132.90 L662.04,132.90 L662.37,132.90 L662.70,132.90 L663.03,132.90 L663.36,132.90 L663.69,132.90 L664.02,132.90 L664.35,132.90 L664.68,132.90 L665.01,132.90 L665.34,132.90 L665.67,132.90 L666.00,132.90 L666.34,132.90 L666.67,132.90 L667.00,132.90 L667.33,132.90 L667.66,132.90 L667.99,132.90 L668.32,132.90 L668.65,132.90 L668.98,132.90 L669.31,132.90 L669.64,132.90 L669.97,132.90 L670.30,132.90 L670.63,132.90 L670.96,132.90 L671.30,132.90 L671.63,132.90 L671.96,132.90 L672.29,132.90 L672.62,132.90 L672.95,132.90 L673.28,132.90 L673.61,132.90 L673.94,132.90 L674.27,132.90 L674.60,132.90 L674.93,132.90 L675.26,132.90 L675.59,132.90 L675.92,132.90 L676.25,132.90 L676.59,132.90 L676.92,132.90 L677.25,132.90 L677.58,132.90 L677.58,132.90" fill="#8e8e8e" stroke="#2b2b2b" stroke-width="0.75" stroke-linejoin="round"/>
<path d="M573.10,132.90 L573.10,27.40 L678.60,27.40 L678.60,132.90" fill="none" stroke="#c4c4c4" stroke-width="0.8"/>
<line x1="573.10" y1="132.90" x2="678.60" y2="132.90" stroke="#3a3a3a" stroke-width="0.9" />
<line x1="571.10" y1="132.90" x2="573.10" y2="132.90" stroke="#888" stroke-width="0.7" />
<text x="567.80" y="135.30" font-size="6.9" text-anchor="end" fill="#1e1e1e" stroke="#1e1e1e" stroke-width="0.1" transform="translate(567.80 135.30) scale(1 1.1) translate(-567.80 -135.30)" >0</text>
<line x1="571.10" y1="104.80" x2="573.10" y2="104.80" stroke="#888" stroke-width="0.7" />
<text x="567.80" y="107.20" font-size="6.9" text-anchor="end" fill="#1e1e1e" stroke="#1e1e1e" stroke-width="0.1" transform="translate(567.80 107.20) scale(1 1.1) translate(-567.80 -107.20)" >0.5K</text>
<line x1="571.10" y1="76.70" x2="573.10" y2="76.70" stroke="#888" stroke-width="0.7" />
<text x="567.80" y="79.10" font-size="6.9" text-anchor="end" fill="#1e1e1e" stroke="#1e1e1e" stroke-width="0.1" transform="translate(567.80 79.10) scale(1 1.1) translate(-567.80 -79.10)" >1.0K</text>
<line x1="571.10" y1="48.60" x2="573.10" y2="48.60" stroke="#888" stroke-width="0.7" />
<text x="567.80" y="51.00" font-size="6.9" text-anchor="end" fill="#1e1e1e" stroke="#1e1e1e" stroke-width="0.1" transform="translate(567.80 51.00) scale(1 1.1) translate(-567.80 -51.00)" >1.5K</text>
<line x1="572.00" y1="127.28" x2="573.10" y2="127.28" stroke="#bbb" stroke-width="0.5" />
<line x1="572.00" y1="121.66" x2="573.10" y2="121.66" stroke="#bbb" stroke-width="0.5" />
<line x1="572.00" y1="116.04" x2="573.10" y2="116.04" stroke="#bbb" stroke-width="0.5" />
<line x1="572.00" y1="110.42" x2="573.10" y2="110.42" stroke="#bbb" stroke-width="0.5" />
<line x1="572.00" y1="99.18" x2="573.10" y2="99.18" stroke="#bbb" stroke-width="0.5" />
<line x1="572.00" y1="93.56" x2="573.10" y2="93.56" stroke="#bbb" stroke-width="0.5" />
<line x1="572.00" y1="87.94" x2="573.10" y2="87.94" stroke="#bbb" stroke-width="0.5" />
<line x1="572.00" y1="82.32" x2="573.10" y2="82.32" stroke="#bbb" stroke-width="0.5" />
<line x1="572.00" y1="71.08" x2="573.10" y2="71.08" stroke="#bbb" stroke-width="0.5" />
<line x1="572.00" y1="65.46" x2="573.10" y2="65.46" stroke="#bbb" stroke-width="0.5" />
<line x1="572.00" y1="59.84" x2="573.10" y2="59.84" stroke="#bbb" stroke-width="0.5" />
<line x1="572.00" y1="54.22" x2="573.10" y2="54.22" stroke="#bbb" stroke-width="0.5" />
<line x1="572.00" y1="42.98" x2="573.10" y2="42.98" stroke="#bbb" stroke-width="0.5" />
<line x1="572.00" y1="37.36" x2="573.10" y2="37.36" stroke="#bbb" stroke-width="0.5" />
<line x1="572.00" y1="31.74" x2="573.10" y2="31.74" stroke="#bbb" stroke-width="0.5" />
<line x1="572.10" y1="132.90" x2="572.10" y2="134.50" stroke="#999" stroke-width="0.6" />
<text x="572.10" y="143.20" font-size="6.9" text-anchor="middle" fill="#1e1e1e" stroke="#1e1e1e" stroke-width="0.1" transform="translate(572.10 143.20) scale(1 1.1) translate(-572.10 -143.20)" >0</text>
<line x1="605.16" y1="132.90" x2="605.16" y2="134.50" stroke="#999" stroke-width="0.6" />
<text x="605.16" y="143.20" font-size="6.9" text-anchor="middle" fill="#1e1e1e" stroke="#1e1e1e" stroke-width="0.1" transform="translate(605.16 143.20) scale(1 1.1) translate(-605.16 -143.20)" >50K</text>
<line x1="638.23" y1="132.90" x2="638.23" y2="134.50" stroke="#999" stroke-width="0.6" />
<text x="638.23" y="143.20" font-size="6.9" text-anchor="middle" fill="#1e1e1e" stroke="#1e1e1e" stroke-width="0.1" transform="translate(638.23 143.20) scale(1 1.1) translate(-638.23 -143.20)" >100K</text>
<line x1="671.30" y1="132.90" x2="671.30" y2="134.50" stroke="#999" stroke-width="0.6" />
<text x="671.30" y="143.20" font-size="6.9" text-anchor="middle" fill="#1e1e1e" stroke="#1e1e1e" stroke-width="0.1" transform="translate(671.30 143.20) scale(1 1.1) translate(-671.30 -143.20)" >150K</text>
<line x1="578.71" y1="132.90" x2="578.71" y2="133.80" stroke="#bbb" stroke-width="0.5" />
<line x1="585.33" y1="132.90" x2="585.33" y2="133.80" stroke="#bbb" stroke-width="0.5" />
<line x1="591.94" y1="132.90" x2="591.94" y2="133.80" stroke="#bbb" stroke-width="0.5" />
<line x1="598.55" y1="132.90" x2="598.55" y2="133.80" stroke="#bbb" stroke-width="0.5" />
<line x1="611.78" y1="132.90" x2="611.78" y2="133.80" stroke="#bbb" stroke-width="0.5" />
<line x1="618.39" y1="132.90" x2="618.39" y2="133.80" stroke="#bbb" stroke-width="0.5" />
<line x1="625.00" y1="132.90" x2="625.00" y2="133.80" stroke="#bbb" stroke-width="0.5" />
<line x1="631.62" y1="132.90" x2="631.62" y2="133.80" stroke="#bbb" stroke-width="0.5" />
<line x1="644.84" y1="132.90" x2="644.84" y2="133.80" stroke="#bbb" stroke-width="0.5" />
<line x1="651.46" y1="132.90" x2="651.46" y2="133.80" stroke="#bbb" stroke-width="0.5" />
<line x1="658.07" y1="132.90" x2="658.07" y2="133.80" stroke="#bbb" stroke-width="0.5" />
<line x1="664.68" y1="132.90" x2="664.68" y2="133.80" stroke="#bbb" stroke-width="0.5" />
<text x="621.90" y="155.80" font-size="7.4" text-anchor="middle" fill="#1e1e1e" stroke="#1e1e1e" stroke-width="0.1" transform="translate(621.90 155.80) scale(1 1.1) translate(-621.90 -155.80)" >PE-A</text>
<text x="550.80" y="84.40" font-size="7.4" text-anchor="middle" fill="#1e1e1e" stroke="#1e1e1e" stroke-width="0.1" transform="rotate(-90 550.80 84.40) translate(550.80 84.40) scale(1 1.1) translate(-550.80 -84.40)" >Count</text>
<text x="573.40" y="23.30" font-size="7.3" text-anchor="start" fill="#1e1e1e" stroke="#1e1e1e" stroke-width="0.1" transform="translate(573.40 23.30) scale(1 1.1) translate(-573.40 -23.30)" >sgNC + HNRNPH1</text>
<text x="604.70" y="86.80" font-size="4.9" text-anchor="middle" fill="#222" stroke="#222" stroke-width="0.16" transform="translate(604.70 86.80) scale(1 1.1) translate(-604.70 -86.80)" >G0-G1</text>
<text x="604.70" y="92.80" font-size="4.9" text-anchor="middle" fill="#222" stroke="#222" stroke-width="0.16" transform="translate(604.70 92.80) scale(1 1.1) translate(-604.70 -92.80)" >60.0</text>
<line x1="598.50" y1="98.30" x2="611.30" y2="98.30" stroke="#333" stroke-width="0.7" />
<line x1="598.50" y1="96.40" x2="598.50" y2="100.20" stroke="#333" stroke-width="0.7" />
<line x1="611.30" y1="96.40" x2="611.30" y2="100.20" stroke="#333" stroke-width="0.7" />
<text x="621.30" y="107.40" font-size="4.9" text-anchor="middle" fill="#222" stroke="#222" stroke-width="0.16" transform="translate(621.30 107.40) scale(1 1.1) translate(-621.30 -107.40)" >S</text>
<text x="621.30" y="113.40" font-size="4.9" text-anchor="middle" fill="#222" stroke="#222" stroke-width="0.16" transform="translate(621.30 113.40) scale(1 1.1) translate(-621.30 -113.40)" >21.6</text>
<line x1="611.30" y1="118.90" x2="631.10" y2="118.90" stroke="#333" stroke-width="0.7" />
<line x1="611.30" y1="117.00" x2="611.30" y2="120.80" stroke="#333" stroke-width="0.7" />
<line x1="631.10" y1="117.00" x2="631.10" y2="120.80" stroke="#333" stroke-width="0.7" />
<text x="637.90" y="95.00" font-size="4.9" text-anchor="middle" fill="#222" stroke="#222" stroke-width="0.16" transform="translate(637.90 95.00) scale(1 1.1) translate(-637.90 -95.00)" >G2-M</text>
<text x="637.90" y="101.00" font-size="4.9" text-anchor="middle" fill="#222" stroke="#222" stroke-width="0.16" transform="translate(637.90 101.00) scale(1 1.1) translate(-637.90 -101.00)" >16.9</text>
<line x1="632.90" y1="106.30" x2="643.70" y2="106.30" stroke="#333" stroke-width="0.7" />
<line x1="632.90" y1="104.40" x2="632.90" y2="108.20" stroke="#333" stroke-width="0.7" />
<line x1="643.70" y1="104.40" x2="643.70" y2="108.20" stroke="#333" stroke-width="0.7" />
<path d="M419.20,295.20 L419.20,295.20 L419.53,295.20 L419.86,295.20 L420.19,295.20 L420.52,295.20 L420.85,295.20 L421.18,295.20 L421.51,295.20 L421.85,295.20 L422.18,295.20 L422.51,295.20 L422.84,295.20 L423.17,295.20 L423.50,295.20 L423.83,295.20 L424.16,295.20 L424.49,295.20 L424.82,295.20 L425.15,295.20 L425.48,295.20 L425.81,295.20 L426.14,295.20 L426.47,295.20 L426.80,295.20 L427.14,295.20 L427.47,295.20 L427.80,295.20 L428.13,295.20 L428.46,295.20 L428.79,295.20 L429.12,295.20 L429.45,295.20 L429.78,295.20 L430.11,295.20 L430.44,295.20 L430.77,295.20 L431.10,295.20 L431.43,295.20 L431.76,295.20 L432.10,295.20 L432.43,295.20 L432.76,295.20 L433.09,295.20 L433.42,295.20 L433.75,295.20 L434.08,295.20 L434.41,295.20 L434.74,295.20 L435.07,295.20 L435.40,295.20 L435.73,295.20 L436.06,295.20 L436.39,295.20 L436.72,295.20 L437.06,295.20 L437.39,295.20 L437.72,295.20 L438.05,295.20 L438.38,295.20 L438.71,295.20 L439.04,295.20 L439.37,295.20 L439.70,295.20 L440.03,295.20 L440.36,295.20 L440.69,295.20 L441.02,295.20 L441.35,295.20 L441.68,295.20 L442.01,295.20 L442.35,295.20 L442.68,295.20 L443.01,295.20 L443.34,295.20 L443.67,295.20 L444.00,295.20 L444.33,295.20 L444.66,295.20 L444.99,295.20 L445.32,295.20 L445.65,295.20 L445.98,295.20 L446.31,295.20 L446.64,295.20 L446.97,295.20 L447.31,295.17 L447.64,295.14 L447.97,295.10 L448.30,295.02 L448.63,294.89 L448.96,294.67 L449.29,294.29 L449.62,293.60 L449.95,292.36 L450.28,290.18 L450.61,286.54 L450.94,280.84 L451.27,272.57 L451.60,261.57 L451.93,248.22 L452.26,233.70 L452.60,219.79 L452.93,208.61 L453.26,202.03 L453.59,201.24 L453.92,206.43 L454.25,216.67 L454.58,230.07 L454.91,244.34 L455.24,257.53 L455.57,268.40 L455.90,276.55 L456.23,282.15 L456.56,285.72 L456.89,287.85 L457.22,289.06 L457.56,289.73 L457.89,290.12 L458.22,290.36 L458.55,290.53 L458.88,290.66 L459.21,290.77 L459.54,290.87 L459.87,290.96 L460.20,291.04 L460.53,291.11 L460.86,291.17 L461.19,291.23 L461.52,291.29 L461.85,291.33 L462.18,291.38 L462.52,291.42 L462.85,291.45 L463.18,291.48 L463.51,291.51 L463.84,291.54 L464.17,291.56 L464.50,291.58 L464.83,291.60 L465.16,291.62 L465.49,291.64 L465.82,291.65 L466.15,291.67 L466.48,291.68 L466.81,291.69 L467.14,291.70 L467.47,291.71 L467.81,291.71 L468.14,291.72 L468.47,291.73 L468.80,291.73 L469.13,291.74 L469.46,291.74 L469.79,291.75 L470.12,291.75 L470.45,291.76 L470.78,291.76 L471.11,291.76 L471.44,291.76 L471.77,291.77 L472.10,291.77 L472.43,291.77 L472.77,291.77 L473.10,291.77 L473.43,291.78 L473.76,291.78 L474.09,291.78 L474.42,291.78 L474.75,291.78 L475.08,291.78 L475.41,291.78 L475.74,291.78 L476.07,291.78 L476.40,291.78 L476.73,291.78 L477.06,291.78 L477.39,291.78 L477.73,291.78 L478.06,291.78 L478.39,291.78 L478.72,291.77 L479.05,291.75 L479.38,291.71 L479.71,291.65 L480.04,291.54 L480.37,291.38 L480.70,291.12 L481.03,290.75 L481.36,290.21 L481.69,289.48 L482.02,288.53 L482.35,287.34 L482.68,285.93 L483.02,284.34 L483.35,282.66 L483.68,280.99 L484.01,279.47 L484.34,278.26 L484.67,277.47 L485.00,277.21 L485.33,277.51 L485.66,278.34 L485.99,279.62 L486.32,281.26 L486.65,283.11 L486.98,285.05 L487.31,286.95 L487.64,288.72 L487.98,290.27 L488.31,291.57 L488.64,292.62 L488.97,293.42 L489.30,294.02 L489.63,294.44 L489.96,294.73 L490.29,294.92 L490.62,295.04 L490.95,295.11 L491.28,295.15 L491.61,295.20 L491.94,295.20 L492.27,295.20 L492.60,295.20 L492.93,295.20 L493.27,295.20 L493.60,295.20 L493.93,295.20 L494.26,295.20 L494.59,295.20 L494.92,295.20 L495.25,295.20 L495.58,295.20 L495.91,295.20 L496.24,295.20 L496.57,295.20 L496.90,295.20 L497.23,295.20 L497.56,295.20 L497.89,295.20 L498.23,295.20 L498.56,295.20 L498.89,295.20 L499.22,295.20 L499.55,295.20 L499.88,295.20 L500.21,295.20 L500.54,295.20 L500.87,295.20 L501.20,295.20 L501.53,295.20 L501.86,295.20 L502.19,295.20 L502.52,295.20 L502.85,295.20 L503.19,295.20 L503.52,295.20 L503.85,295.20 L504.18,295.20 L504.51,295.20 L504.84,295.20 L505.17,295.20 L505.50,295.20 L505.83,295.20 L506.16,295.20 L506.49,295.20 L506.82,295.20 L507.15,295.20 L507.48,295.20 L507.81,295.20 L508.14,295.20 L508.48,295.20 L508.81,295.20 L509.14,295.20 L509.47,295.20 L509.80,295.20 L510.13,295.20 L510.46,295.20 L510.79,295.20 L511.12,295.20 L511.45,295.20 L511.78,295.20 L512.11,295.20 L512.44,295.20 L512.77,295.20 L513.10,295.20 L513.44,295.20 L513.77,295.20 L514.10,295.20 L514.43,295.20 L514.76,295.20 L515.09,295.20 L515.42,295.20 L515.75,295.20 L516.08,295.20 L516.41,295.20 L516.74,295.20 L517.07,295.20 L517.40,295.20 L517.73,295.20 L518.06,295.20 L518.39,295.20 L518.73,295.20 L519.06,295.20 L519.39,295.20 L519.72,295.20 L520.05,295.20 L520.38,295.20 L520.71,295.20 L521.04,295.20 L521.37,295.20 L521.70,295.20 L522.03,295.20 L522.36,295.20 L522.69,295.20 L523.02,295.20 L523.35,295.20 L523.69,295.20 L524.02,295.20 L524.35,295.20 L524.68,295.20 L524.68,295.20" fill="#8e8e8e" stroke="#2b2b2b" stroke-width="0.75" stroke-linejoin="round"/>
<path d="M420.20,295.20 L420.20,190.90 L525.80,190.90 L525.80,295.20" fill="none" stroke="#c4c4c4" stroke-width="0.8"/>
<line x1="420.20" y1="295.20" x2="525.80" y2="295.20" stroke="#3a3a3a" stroke-width="0.9" />
<line x1="418.20" y1="295.20" x2="420.20" y2="295.20" stroke="#888" stroke-width="0.7" />
<text x="414.90" y="297.60" font-size="6.9" text-anchor="end" fill="#1e1e1e" stroke="#1e1e1e" stroke-width="0.1" transform="translate(414.90 297.60) scale(1 1.1) translate(-414.90 -297.60)" >0</text>
<line x1="418.20" y1="265.80" x2="420.20" y2="265.80" stroke="#888" stroke-width="0.7" />
<text x="414.90" y="268.20" font-size="6.9" text-anchor="end" fill="#1e1e1e" stroke="#1e1e1e" stroke-width="0.1" transform="translate(414.90 268.20) scale(1 1.1) translate(-414.90 -268.20)" >0.5K</text>
<line x1="418.20" y1="236.40" x2="420.20" y2="236.40" stroke="#888" stroke-width="0.7" />
<text x="414.90" y="238.80" font-size="6.9" text-anchor="end" fill="#1e1e1e" stroke="#1e1e1e" stroke-width="0.1" transform="translate(414.90 238.80) scale(1 1.1) translate(-414.90 -238.80)" >1.0K</text>
<line x1="418.20" y1="207.00" x2="420.20" y2="207.00" stroke="#888" stroke-width="0.7" />
<text x="414.90" y="209.40" font-size="6.9" text-anchor="end" fill="#1e1e1e" stroke="#1e1e1e" stroke-width="0.1" transform="translate(414.90 209.40) scale(1 1.1) translate(-414.90 -209.40)" >1.5K</text>
<line x1="419.10" y1="289.32" x2="420.20" y2="289.32" stroke="#bbb" stroke-width="0.5" />
<line x1="419.10" y1="283.44" x2="420.20" y2="283.44" stroke="#bbb" stroke-width="0.5" />
<line x1="419.10" y1="277.56" x2="420.20" y2="277.56" stroke="#bbb" stroke-width="0.5" />
<line x1="419.10" y1="271.68" x2="420.20" y2="271.68" stroke="#bbb" stroke-width="0.5" />
<line x1="419.10" y1="259.92" x2="420.20" y2="259.92" stroke="#bbb" stroke-width="0.5" />
<line x1="419.10" y1="254.04" x2="420.20" y2="254.04" stroke="#bbb" stroke-width="0.5" />
<line x1="419.10" y1="248.16" x2="420.20" y2="248.16" stroke="#bbb" stroke-width="0.5" />
<line x1="419.10" y1="242.28" x2="420.20" y2="242.28" stroke="#bbb" stroke-width="0.5" />
<line x1="419.10" y1="230.52" x2="420.20" y2="230.52" stroke="#bbb" stroke-width="0.5" />
<line x1="419.10" y1="224.64" x2="420.20" y2="224.64" stroke="#bbb" stroke-width="0.5" />
<line x1="419.10" y1="218.76" x2="420.20" y2="218.76" stroke="#bbb" stroke-width="0.5" />
<line x1="419.10" y1="212.88" x2="420.20" y2="212.88" stroke="#bbb" stroke-width="0.5" />
<line x1="419.10" y1="201.12" x2="420.20" y2="201.12" stroke="#bbb" stroke-width="0.5" />
<line x1="419.10" y1="195.24" x2="420.20" y2="195.24" stroke="#bbb" stroke-width="0.5" />
<line x1="419.20" y1="295.20" x2="419.20" y2="296.80" stroke="#999" stroke-width="0.6" />
<text x="419.20" y="305.50" font-size="6.9" text-anchor="middle" fill="#1e1e1e" stroke="#1e1e1e" stroke-width="0.1" transform="translate(419.20 305.50) scale(1 1.1) translate(-419.20 -305.50)" >0</text>
<line x1="452.26" y1="295.20" x2="452.26" y2="296.80" stroke="#999" stroke-width="0.6" />
<text x="452.26" y="305.50" font-size="6.9" text-anchor="middle" fill="#1e1e1e" stroke="#1e1e1e" stroke-width="0.1" transform="translate(452.26 305.50) scale(1 1.1) translate(-452.26 -305.50)" >50K</text>
<line x1="485.33" y1="295.20" x2="485.33" y2="296.80" stroke="#999" stroke-width="0.6" />
<text x="485.33" y="305.50" font-size="6.9" text-anchor="middle" fill="#1e1e1e" stroke="#1e1e1e" stroke-width="0.1" transform="translate(485.33 305.50) scale(1 1.1) translate(-485.33 -305.50)" >100K</text>
<line x1="518.39" y1="295.20" x2="518.39" y2="296.80" stroke="#999" stroke-width="0.6" />
<text x="518.39" y="305.50" font-size="6.9" text-anchor="middle" fill="#1e1e1e" stroke="#1e1e1e" stroke-width="0.1" transform="translate(518.39 305.50) scale(1 1.1) translate(-518.39 -305.50)" >150K</text>
<line x1="425.81" y1="295.20" x2="425.81" y2="296.10" stroke="#bbb" stroke-width="0.5" />
<line x1="432.43" y1="295.20" x2="432.43" y2="296.10" stroke="#bbb" stroke-width="0.5" />
<line x1="439.04" y1="295.20" x2="439.04" y2="296.10" stroke="#bbb" stroke-width="0.5" />
<line x1="445.65" y1="295.20" x2="445.65" y2="296.10" stroke="#bbb" stroke-width="0.5" />
<line x1="458.88" y1="295.20" x2="458.88" y2="296.10" stroke="#bbb" stroke-width="0.5" />
<line x1="465.49" y1="295.20" x2="465.49" y2="296.10" stroke="#bbb" stroke-width="0.5" />
<line x1="472.10" y1="295.20" x2="472.10" y2="296.10" stroke="#bbb" stroke-width="0.5" />
<line x1="478.72" y1="295.20" x2="478.72" y2="296.10" stroke="#bbb" stroke-width="0.5" />
<line x1="491.94" y1="295.20" x2="491.94" y2="296.10" stroke="#bbb" stroke-width="0.5" />
<line x1="498.56" y1="295.20" x2="498.56" y2="296.10" stroke="#bbb" stroke-width="0.5" />
<line x1="505.17" y1="295.20" x2="505.17" y2="296.10" stroke="#bbb" stroke-width="0.5" />
<line x1="511.78" y1="295.20" x2="511.78" y2="296.10" stroke="#bbb" stroke-width="0.5" />
<text x="469.00" y="318.10" font-size="7.4" text-anchor="middle" fill="#1e1e1e" stroke="#1e1e1e" stroke-width="0.1" transform="translate(469.00 318.10) scale(1 1.1) translate(-469.00 -318.10)" >PE-A</text>
<text x="397.50" y="247.80" font-size="7.4" text-anchor="middle" fill="#1e1e1e" stroke="#1e1e1e" stroke-width="0.1" transform="rotate(-90 397.50 247.80) translate(397.50 247.80) scale(1 1.1) translate(-397.50 -247.80)" >Count</text>
<text x="420.50" y="186.80" font-size="7.3" text-anchor="start" fill="#1e1e1e" stroke="#1e1e1e" stroke-width="0.1" transform="translate(420.50 186.80) scale(1 1.1) translate(-420.50 -186.80)" >sgHNRNPH1 + Empty vector</text>
<text x="451.80" y="249.10" font-size="4.9" text-anchor="middle" fill="#222" stroke="#222" stroke-width="0.16" transform="translate(451.80 249.10) scale(1 1.1) translate(-451.80 -249.10)" >G0-G1</text>
<text x="451.80" y="255.10" font-size="4.9" text-anchor="middle" fill="#222" stroke="#222" stroke-width="0.16" transform="translate(451.80 255.10) scale(1 1.1) translate(-451.80 -255.10)" >57.9</text>
<line x1="445.60" y1="260.60" x2="458.40" y2="260.60" stroke="#333" stroke-width="0.7" />
<line x1="445.60" y1="258.70" x2="445.60" y2="262.50" stroke="#333" stroke-width="0.7" />
<line x1="458.40" y1="258.70" x2="458.40" y2="262.50" stroke="#333" stroke-width="0.7" />
<text x="468.40" y="269.70" font-size="4.9" text-anchor="middle" fill="#222" stroke="#222" stroke-width="0.16" transform="translate(468.40 269.70) scale(1 1.1) translate(-468.40 -269.70)" >S</text>
<text x="468.40" y="275.70" font-size="4.9" text-anchor="middle" fill="#222" stroke="#222" stroke-width="0.16" transform="translate(468.40 275.70) scale(1 1.1) translate(-468.40 -275.70)" >17.8</text>
<line x1="458.40" y1="281.20" x2="478.20" y2="281.20" stroke="#333" stroke-width="0.7" />
<line x1="458.40" y1="279.30" x2="458.40" y2="283.10" stroke="#333" stroke-width="0.7" />
<line x1="478.20" y1="279.30" x2="478.20" y2="283.10" stroke="#333" stroke-width="0.7" />
<text x="485.00" y="257.30" font-size="4.9" text-anchor="middle" fill="#222" stroke="#222" stroke-width="0.16" transform="translate(485.00 257.30) scale(1 1.1) translate(-485.00 -257.30)" >G2-M</text>
<text x="485.00" y="263.30" font-size="4.9" text-anchor="middle" fill="#222" stroke="#222" stroke-width="0.16" transform="translate(485.00 263.30) scale(1 1.1) translate(-485.00 -263.30)" >22.7</text>
<line x1="480.00" y1="268.60" x2="490.80" y2="268.60" stroke="#333" stroke-width="0.7" />
<line x1="480.00" y1="266.70" x2="480.00" y2="270.50" stroke="#333" stroke-width="0.7" />
<line x1="490.80" y1="266.70" x2="490.80" y2="270.50" stroke="#333" stroke-width="0.7" />
<path d="M572.10,295.80 L572.10,295.80 L572.43,295.80 L572.76,295.80 L573.09,295.80 L573.42,295.80 L573.75,295.80 L574.08,295.80 L574.41,295.80 L574.75,295.80 L575.08,295.80 L575.41,295.80 L575.74,295.80 L576.07,295.80 L576.40,295.80 L576.73,295.80 L577.06,295.80 L577.39,295.80 L577.72,295.80 L578.05,295.80 L578.38,295.80 L578.71,295.80 L579.04,295.80 L579.37,295.80 L579.70,295.80 L580.04,295.80 L580.37,295.80 L580.70,295.80 L581.03,295.80 L581.36,295.80 L581.69,295.80 L582.02,295.80 L582.35,295.80 L582.68,295.80 L583.01,295.80 L583.34,295.80 L583.67,295.80 L584.00,295.80 L584.33,295.80 L584.66,295.80 L585.00,295.80 L585.33,295.80 L585.66,295.80 L585.99,295.80 L586.32,295.80 L586.65,295.80 L586.98,295.80 L587.31,295.80 L587.64,295.80 L587.97,295.80 L588.30,295.80 L588.63,295.80 L588.96,295.80 L589.29,295.80 L589.62,295.80 L589.96,295.80 L590.29,295.80 L590.62,295.80 L590.95,295.80 L591.28,295.80 L591.61,295.80 L591.94,295.80 L592.27,295.80 L592.60,295.80 L592.93,295.80 L593.26,295.80 L593.59,295.80 L593.92,295.80 L594.25,295.80 L594.58,295.80 L594.91,295.80 L595.25,295.80 L595.58,295.80 L595.91,295.80 L596.24,295.80 L596.57,295.80 L596.90,295.80 L597.23,295.80 L597.56,295.80 L597.89,295.80 L598.22,295.80 L598.55,295.80 L598.88,295.80 L599.21,295.80 L599.54,295.80 L599.87,295.77 L600.21,295.74 L600.54,295.68 L600.87,295.60 L601.20,295.46 L601.53,295.22 L601.86,294.81 L602.19,294.08 L602.52,292.76 L602.85,290.49 L603.18,286.74 L603.51,280.96 L603.84,272.73 L604.17,261.97 L604.50,249.20 L604.83,235.62 L605.16,223.01 L605.50,213.31 L605.83,208.15 L606.16,208.48 L606.49,214.28 L606.82,224.51 L607.15,237.29 L607.48,250.48 L607.81,262.37 L608.14,271.98 L608.47,279.06 L608.80,283.84 L609.13,286.86 L609.46,288.64 L609.79,289.65 L610.12,290.22 L610.46,290.55 L610.79,290.77 L611.12,290.93 L611.45,291.05 L611.78,291.16 L612.11,291.25 L612.44,291.34 L612.77,291.42 L613.10,291.49 L613.43,291.55 L613.76,291.61 L614.09,291.66 L614.42,291.71 L614.75,291.75 L615.08,291.79 L615.42,291.82 L615.75,291.86 L616.08,291.88 L616.41,291.91 L616.74,291.93 L617.07,291.95 L617.40,291.97 L617.73,291.99 L618.06,292.01 L618.39,292.02 L618.72,292.03 L619.05,292.04 L619.38,292.05 L619.71,292.06 L620.04,292.07 L620.37,292.08 L620.71,292.09 L621.04,292.09 L621.37,292.10 L621.70,292.10 L622.03,292.11 L622.36,292.11 L622.69,292.12 L623.02,292.12 L623.35,292.12 L623.68,292.13 L624.01,292.13 L624.34,292.13 L624.67,292.13 L625.00,292.14 L625.33,292.14 L625.67,292.14 L626.00,292.14 L626.33,292.14 L626.66,292.14 L626.99,292.14 L627.32,292.15 L627.65,292.15 L627.98,292.15 L628.31,292.15 L628.64,292.15 L628.97,292.15 L629.30,292.15 L629.63,292.15 L629.96,292.15 L630.29,292.14 L630.63,292.14 L630.96,292.12 L631.29,292.09 L631.62,292.05 L631.95,291.97 L632.28,291.84 L632.61,291.64 L632.94,291.33 L633.27,290.90 L633.60,290.30 L633.93,289.51 L634.26,288.52 L634.59,287.32 L634.92,285.96 L635.25,284.49 L635.58,283.01 L635.92,281.64 L636.25,280.51 L636.58,279.74 L636.91,279.43 L637.24,279.62 L637.57,280.29 L637.90,281.39 L638.23,282.82 L638.56,284.47 L638.89,286.21 L639.22,287.95 L639.55,289.57 L639.88,291.02 L640.21,292.25 L640.54,293.25 L640.88,294.03 L641.21,294.61 L641.54,295.03 L641.87,295.32 L642.20,295.51 L642.53,295.63 L642.86,295.70 L643.19,295.75 L643.52,295.80 L643.85,295.80 L644.18,295.80 L644.51,295.80 L644.84,295.80 L645.17,295.80 L645.50,295.80 L645.83,295.80 L646.17,295.80 L646.50,295.80 L646.83,295.80 L647.16,295.80 L647.49,295.80 L647.82,295.80 L648.15,295.80 L648.48,295.80 L648.81,295.80 L649.14,295.80 L649.47,295.80 L649.80,295.80 L650.13,295.80 L650.46,295.80 L650.79,295.80 L651.13,295.80 L651.46,295.80 L651.79,295.80 L652.12,295.80 L652.45,295.80 L652.78,295.80 L653.11,295.80 L653.44,295.80 L653.77,295.80 L654.10,295.80 L654.43,295.80 L654.76,295.80 L655.09,295.80 L655.42,295.80 L655.75,295.80 L656.09,295.80 L656.42,295.80 L656.75,295.80 L657.08,295.80 L657.41,295.80 L657.74,295.80 L658.07,295.80 L658.40,295.80 L658.73,295.80 L659.06,295.80 L659.39,295.80 L659.72,295.80 L660.05,295.80 L660.38,295.80 L660.71,295.80 L661.04,295.80 L661.38,295.80 L661.71,295.80 L662.04,295.80 L662.37,295.80 L662.70,295.80 L663.03,295.80 L663.36,295.80 L663.69,295.80 L664.02,295.80 L664.35,295.80 L664.68,295.80 L665.01,295.80 L665.34,295.80 L665.67,295.80 L666.00,295.80 L666.34,295.80 L666.67,295.80 L667.00,295.80 L667.33,295.80 L667.66,295.80 L667.99,295.80 L668.32,295.80 L668.65,295.80 L668.98,295.80 L669.31,295.80 L669.64,295.80 L669.97,295.80 L670.30,295.80 L670.63,295.80 L670.96,295.80 L671.30,295.80 L671.63,295.80 L671.96,295.80 L672.29,295.80 L672.62,295.80 L672.95,295.80 L673.28,295.80 L673.61,295.80 L673.94,295.80 L674.27,295.80 L674.60,295.80 L674.93,295.80 L675.26,295.80 L675.59,295.80 L675.92,295.80 L676.25,295.80 L676.59,295.80 L676.92,295.80 L677.25,295.80 L677.58,295.80 L677.58,295.80" fill="#8e8e8e" stroke="#2b2b2b" stroke-width="0.75" stroke-linejoin="round"/>
<path d="M573.10,295.80 L573.10,190.90 L678.40,190.90 L678.40,295.80" fill="none" stroke="#c4c4c4" stroke-width="0.8"/>
<line x1="573.10" y1="295.80" x2="678.40" y2="295.80" stroke="#3a3a3a" stroke-width="0.9" />
<line x1="571.10" y1="295.80" x2="573.10" y2="295.80" stroke="#888" stroke-width="0.7" />
<text x="567.80" y="298.20" font-size="6.9" text-anchor="end" fill="#1e1e1e" stroke="#1e1e1e" stroke-width="0.1" transform="translate(567.80 298.20) scale(1 1.1) translate(-567.80 -298.20)" >0</text>
<line x1="571.10" y1="266.40" x2="573.10" y2="266.40" stroke="#888" stroke-width="0.7" />
<text x="567.80" y="268.80" font-size="6.9" text-anchor="end" fill="#1e1e1e" stroke="#1e1e1e" stroke-width="0.1" transform="translate(567.80 268.80) scale(1 1.1) translate(-567.80 -268.80)" >0.5K</text>
<line x1="571.10" y1="237.00" x2="573.10" y2="237.00" stroke="#888" stroke-width="0.7" />
<text x="567.80" y="239.40" font-size="6.9" text-anchor="end" fill="#1e1e1e" stroke="#1e1e1e" stroke-width="0.1" transform="translate(567.80 239.40) scale(1 1.1) translate(-567.80 -239.40)" >1.0K</text>
<line x1="571.10" y1="207.60" x2="573.10" y2="207.60" stroke="#888" stroke-width="0.7" />
<text x="567.80" y="210.00" font-size="6.9" text-anchor="end" fill="#1e1e1e" stroke="#1e1e1e" stroke-width="0.1" transform="translate(567.80 210.00) scale(1 1.1) translate(-567.80 -210.00)" >1.5K</text>
<line x1="572.00" y1="289.92" x2="573.10" y2="289.92" stroke="#bbb" stroke-width="0.5" />
<line x1="572.00" y1="284.04" x2="573.10" y2="284.04" stroke="#bbb" stroke-width="0.5" />
<line x1="572.00" y1="278.16" x2="573.10" y2="278.16" stroke="#bbb" stroke-width="0.5" />
<line x1="572.00" y1="272.28" x2="573.10" y2="272.28" stroke="#bbb" stroke-width="0.5" />
<line x1="572.00" y1="260.52" x2="573.10" y2="260.52" stroke="#bbb" stroke-width="0.5" />
<line x1="572.00" y1="254.64" x2="573.10" y2="254.64" stroke="#bbb" stroke-width="0.5" />
<line x1="572.00" y1="248.76" x2="573.10" y2="248.76" stroke="#bbb" stroke-width="0.5" />
<line x1="572.00" y1="242.88" x2="573.10" y2="242.88" stroke="#bbb" stroke-width="0.5" />
<line x1="572.00" y1="231.12" x2="573.10" y2="231.12" stroke="#bbb" stroke-width="0.5" />
<line x1="572.00" y1="225.24" x2="573.10" y2="225.24" stroke="#bbb" stroke-width="0.5" />
<line x1="572.00" y1="219.36" x2="573.10" y2="219.36" stroke="#bbb" stroke-width="0.5" />
<line x1="572.00" y1="213.48" x2="573.10" y2="213.48" stroke="#bbb" stroke-width="0.5" />
<line x1="572.00" y1="201.72" x2="573.10" y2="201.72" stroke="#bbb" stroke-width="0.5" />
<line x1="572.00" y1="195.84" x2="573.10" y2="195.84" stroke="#bbb" stroke-width="0.5" />
<line x1="572.10" y1="295.80" x2="572.10" y2="297.40" stroke="#999" stroke-width="0.6" />
<text x="572.10" y="306.10" font-size="6.9" text-anchor="middle" fill="#1e1e1e" stroke="#1e1e1e" stroke-width="0.1" transform="translate(572.10 306.10) scale(1 1.1) translate(-572.10 -306.10)" >0</text>
<line x1="605.16" y1="295.80" x2="605.16" y2="297.40" stroke="#999" stroke-width="0.6" />
<text x="605.16" y="306.10" font-size="6.9" text-anchor="middle" fill="#1e1e1e" stroke="#1e1e1e" stroke-width="0.1" transform="translate(605.16 306.10) scale(1 1.1) translate(-605.16 -306.10)" >50K</text>
<line x1="638.23" y1="295.80" x2="638.23" y2="297.40" stroke="#999" stroke-width="0.6" />
<text x="638.23" y="306.10" font-size="6.9" text-anchor="middle" fill="#1e1e1e" stroke="#1e1e1e" stroke-width="0.1" transform="translate(638.23 306.10) scale(1 1.1) translate(-638.23 -306.10)" >100K</text>
<line x1="671.30" y1="295.80" x2="671.30" y2="297.40" stroke="#999" stroke-width="0.6" />
<text x="671.30" y="306.10" font-size="6.9" text-anchor="middle" fill="#1e1e1e" stroke="#1e1e1e" stroke-width="0.1" transform="translate(671.30 306.10) scale(1 1.1) translate(-671.30 -306.10)" >150K</text>
<line x1="578.71" y1="295.80" x2="578.71" y2="296.70" stroke="#bbb" stroke-width="0.5" />
<line x1="585.33" y1="295.80" x2="585.33" y2="296.70" stroke="#bbb" stroke-width="0.5" />
<line x1="591.94" y1="295.80" x2="591.94" y2="296.70" stroke="#bbb" stroke-width="0.5" />
<line x1="598.55" y1="295.80" x2="598.55" y2="296.70" stroke="#bbb" stroke-width="0.5" />
<line x1="611.78" y1="295.80" x2="611.78" y2="296.70" stroke="#bbb" stroke-width="0.5" />
<line x1="618.39" y1="295.80" x2="618.39" y2="296.70" stroke="#bbb" stroke-width="0.5" />
<line x1="625.00" y1="295.80" x2="625.00" y2="296.70" stroke="#bbb" stroke-width="0.5" />
<line x1="631.62" y1="295.80" x2="631.62" y2="296.70" stroke="#bbb" stroke-width="0.5" />
<line x1="644.84" y1="295.80" x2="644.84" y2="296.70" stroke="#bbb" stroke-width="0.5" />
<line x1="651.46" y1="295.80" x2="651.46" y2="296.70" stroke="#bbb" stroke-width="0.5" />
<line x1="658.07" y1="295.80" x2="658.07" y2="296.70" stroke="#bbb" stroke-width="0.5" />
<line x1="664.68" y1="295.80" x2="664.68" y2="296.70" stroke="#bbb" stroke-width="0.5" />
<text x="621.90" y="318.70" font-size="7.4" text-anchor="middle" fill="#1e1e1e" stroke="#1e1e1e" stroke-width="0.1" transform="translate(621.90 318.70) scale(1 1.1) translate(-621.90 -318.70)" >PE-A</text>
<text x="550.30" y="247.80" font-size="7.4" text-anchor="middle" fill="#1e1e1e" stroke="#1e1e1e" stroke-width="0.1" transform="rotate(-90 550.30 247.80) translate(550.30 247.80) scale(1 1.1) translate(-550.30 -247.80)" >Count</text>
<text x="573.40" y="186.80" font-size="7.3" text-anchor="start" fill="#1e1e1e" stroke="#1e1e1e" stroke-width="0.1" transform="translate(573.40 186.80) scale(1 1.1) translate(-573.40 -186.80)" >sgHNRNPH1 + HNRNPH1</text>
<text x="604.70" y="249.70" font-size="4.9" text-anchor="middle" fill="#222" stroke="#222" stroke-width="0.16" transform="translate(604.70 249.70) scale(1 1.1) translate(-604.70 -249.70)" >G0-G1</text>
<text x="604.70" y="255.70" font-size="4.9" text-anchor="middle" fill="#222" stroke="#222" stroke-width="0.16" transform="translate(604.70 255.70) scale(1 1.1) translate(-604.70 -255.70)" >58.8</text>
<line x1="598.50" y1="261.20" x2="611.30" y2="261.20" stroke="#333" stroke-width="0.7" />
<line x1="598.50" y1="259.30" x2="598.50" y2="263.10" stroke="#333" stroke-width="0.7" />
<line x1="611.30" y1="259.30" x2="611.30" y2="263.10" stroke="#333" stroke-width="0.7" />
<text x="621.30" y="270.30" font-size="4.9" text-anchor="middle" fill="#222" stroke="#222" stroke-width="0.16" transform="translate(621.30 270.30) scale(1 1.1) translate(-621.30 -270.30)" >S</text>
<text x="621.30" y="276.30" font-size="4.9" text-anchor="middle" fill="#222" stroke="#222" stroke-width="0.16" transform="translate(621.30 276.30) scale(1 1.1) translate(-621.30 -276.30)" >19.1</text>
<line x1="611.30" y1="281.80" x2="631.10" y2="281.80" stroke="#333" stroke-width="0.7" />
<line x1="611.30" y1="279.90" x2="611.30" y2="283.70" stroke="#333" stroke-width="0.7" />
<line x1="631.10" y1="279.90" x2="631.10" y2="283.70" stroke="#333" stroke-width="0.7" />
<text x="637.90" y="257.90" font-size="4.9" text-anchor="middle" fill="#222" stroke="#222" stroke-width="0.16" transform="translate(637.90 257.90) scale(1 1.1) translate(-637.90 -257.90)" >G2-M</text>
<text x="637.90" y="263.90" font-size="4.9" text-anchor="middle" fill="#222" stroke="#222" stroke-width="0.16" transform="translate(637.90 263.90) scale(1 1.1) translate(-637.90 -263.90)" >20.3</text>
<line x1="632.90" y1="269.20" x2="643.70" y2="269.20" stroke="#333" stroke-width="0.7" />
<line x1="632.90" y1="267.30" x2="632.90" y2="271.10" stroke="#333" stroke-width="0.7" />
<line x1="643.70" y1="267.30" x2="643.70" y2="271.10" stroke="#333" stroke-width="0.7" />
<line x1="249.20" y1="173.70" x2="249.20" y2="263.10" stroke="#4a4a4a" stroke-width="0.9" />
<line x1="246.00" y1="262.60" x2="284.50" y2="262.60" stroke="#808080" stroke-width="1.0" />
<line x1="246.20" y1="262.60" x2="249.20" y2="262.60" stroke="#4a4a4a" stroke-width="0.8" />
<text x="244.60" y="265.10" font-size="7.3" text-anchor="end" fill="#1e1e1e" stroke="#1e1e1e" stroke-width="0.1" transform="translate(244.60 265.10) scale(1 1.1) translate(-244.60 -265.10)" >0</text>
<line x1="246.20" y1="233.10" x2="249.20" y2="233.10" stroke="#4a4a4a" stroke-width="0.8" />
<text x="244.60" y="235.60" font-size="7.3" text-anchor="end" fill="#1e1e1e" stroke="#1e1e1e" stroke-width="0.1" transform="translate(244.60 235.60) scale(1 1.1) translate(-244.60 -235.60)" >500</text>
<line x1="246.20" y1="203.60" x2="249.20" y2="203.60" stroke="#4a4a4a" stroke-width="0.8" />
<text x="244.60" y="206.10" font-size="7.3" text-anchor="end" fill="#1e1e1e" stroke="#1e1e1e" stroke-width="0.1" transform="translate(244.60 206.10) scale(1 1.1) translate(-244.60 -206.10)" >1000</text>
<line x1="246.20" y1="174.10" x2="249.20" y2="174.10" stroke="#4a4a4a" stroke-width="0.8" />
<text x="244.60" y="176.60" font-size="7.3" text-anchor="end" fill="#1e1e1e" stroke="#1e1e1e" stroke-width="0.1" transform="translate(244.60 176.60) scale(1 1.1) translate(-244.60 -176.60)" >1500</text>
<line x1="259.70" y1="231.33" x2="259.70" y2="227.20" stroke="#333" stroke-width="0.75" />
<line x1="257.40" y1="227.20" x2="262.00" y2="227.20" stroke="#333" stroke-width="0.75" />
<rect x="255.00" y="231.33" width="9.40" height="31.27" fill="#62a2f7" stroke="#3a3a3a" stroke-width="0.6"/>
<line x1="259.70" y1="262.60" x2="259.70" y2="266.10" stroke="#4a4a4a" stroke-width="0.8" />
<line x1="274.55" y1="212.45" x2="274.55" y2="196.23" stroke="#333" stroke-width="0.75" />
<line x1="272.25" y1="196.23" x2="276.85" y2="196.23" stroke="#333" stroke-width="0.75" />
<rect x="269.60" y="212.45" width="9.90" height="50.15" fill="#f2393f" stroke="#3a3a3a" stroke-width="0.6"/>
<line x1="274.55" y1="262.60" x2="274.55" y2="266.10" stroke="#4a4a4a" stroke-width="0.8" />
<line x1="259.90" y1="190.60" x2="274.00" y2="190.60" stroke="#888" stroke-width="0.8" />
<text x="266.95" y="190.10" font-size="6.9" text-anchor="middle" fill="#1e1e1e" stroke="#1e1e1e" stroke-width="0.1" transform="translate(266.95 190.10) scale(1 1.1) translate(-266.95 -190.10)" >****</text>
<text x="224.60" y="220.20" font-size="7.4" text-anchor="middle" fill="#1e1e1e" stroke="#1e1e1e" stroke-width="0.1" transform="rotate(-90 224.60 220.20) translate(224.60 220.20) scale(1 1.1) translate(-224.60 -220.20)" >Average area (pixel<tspan font-size="4.8" dy="-2.6">2</tspan><tspan dy="2.6">)</tspan></text>
<text x="264.20" y="271.00" font-size="7.3" text-anchor="end" fill="#1e1e1e" stroke="#1e1e1e" stroke-width="0.1" transform="rotate(-45 264.20 271.00) translate(264.20 271.00) scale(1 1.1) translate(-264.20 -271.00)" >sgNC</text>
<text x="278.80" y="271.00" font-size="7.3" text-anchor="end" fill="#1e1e1e" stroke="#1e1e1e" stroke-width="0.1" transform="rotate(-45 278.80 271.00) translate(278.80 271.00) scale(1 1.1) translate(-278.80 -271.00)" >sgHNRNPH1</text>
<line x1="329.80" y1="174.20" x2="329.80" y2="263.00" stroke="#4a4a4a" stroke-width="0.9" />
<line x1="326.60" y1="262.50" x2="364.80" y2="262.50" stroke="#808080" stroke-width="1.0" />
<line x1="326.80" y1="262.50" x2="329.80" y2="262.50" stroke="#4a4a4a" stroke-width="0.8" />
<text x="325.20" y="265.00" font-size="7.3" text-anchor="end" fill="#1e1e1e" stroke="#1e1e1e" stroke-width="0.1" transform="translate(325.20 265.00) scale(1 1.1) translate(-325.20 -265.00)" >0.0</text>
<line x1="326.80" y1="240.53" x2="329.80" y2="240.53" stroke="#4a4a4a" stroke-width="0.8" />
<text x="325.20" y="243.03" font-size="7.3" text-anchor="end" fill="#1e1e1e" stroke="#1e1e1e" stroke-width="0.1" transform="translate(325.20 243.03) scale(1 1.1) translate(-325.20 -243.03)" >0.1</text>
<line x1="326.80" y1="218.55" x2="329.80" y2="218.55" stroke="#4a4a4a" stroke-width="0.8" />
<text x="325.20" y="221.05" font-size="7.3" text-anchor="end" fill="#1e1e1e" stroke="#1e1e1e" stroke-width="0.1" transform="translate(325.20 221.05) scale(1 1.1) translate(-325.20 -221.05)" >0.2</text>
<line x1="326.80" y1="196.57" x2="329.80" y2="196.57" stroke="#4a4a4a" stroke-width="0.8" />
<text x="325.20" y="199.07" font-size="7.3" text-anchor="end" fill="#1e1e1e" stroke="#1e1e1e" stroke-width="0.1" transform="translate(325.20 199.07) scale(1 1.1) translate(-325.20 -199.07)" >0.3</text>
<line x1="326.80" y1="174.60" x2="329.80" y2="174.60" stroke="#4a4a4a" stroke-width="0.8" />
<text x="325.20" y="177.10" font-size="7.3" text-anchor="end" fill="#1e1e1e" stroke="#1e1e1e" stroke-width="0.1" transform="translate(325.20 177.10) scale(1 1.1) translate(-325.20 -177.10)" >0.4</text>
<line x1="340.10" y1="243.16" x2="340.10" y2="232.39" stroke="#333" stroke-width="0.75" />
<line x1="337.80" y1="232.39" x2="342.40" y2="232.39" stroke="#333" stroke-width="0.75" />
<rect x="335.30" y="243.16" width="9.60" height="19.34" fill="#62a2f7" stroke="#3a3a3a" stroke-width="0.6"/>
<line x1="340.10" y1="262.50" x2="340.10" y2="266.00" stroke="#4a4a4a" stroke-width="0.8" />
<line x1="355.00" y1="204.27" x2="355.00" y2="183.39" stroke="#333" stroke-width="0.75" />
<line x1="352.70" y1="183.39" x2="357.30" y2="183.39" stroke="#333" stroke-width="0.75" />
<rect x="350.20" y="204.27" width="9.60" height="58.23" fill="#f2393f" stroke="#3a3a3a" stroke-width="0.6"/>
<line x1="355.00" y1="262.50" x2="355.00" y2="266.00" stroke="#4a4a4a" stroke-width="0.8" />
<line x1="340.50" y1="180.70" x2="354.60" y2="180.70" stroke="#888" stroke-width="0.8" />
<text x="347.55" y="180.20" font-size="6.9" text-anchor="middle" fill="#1e1e1e" stroke="#1e1e1e" stroke-width="0.1" transform="translate(347.55 180.20) scale(1 1.1) translate(-347.55 -180.20)" >****</text>
<text x="308.60" y="219.40" font-size="7.4" text-anchor="middle" fill="#1e1e1e" stroke="#1e1e1e" stroke-width="0.1" transform="rotate(-90 308.60 219.40) translate(308.60 219.40) scale(1 1.1) translate(-308.60 -219.40)" >Fragmented nuclei (%)</text>
<text x="344.50" y="271.00" font-size="7.3" text-anchor="end" fill="#1e1e1e" stroke="#1e1e1e" stroke-width="0.1" transform="rotate(-45 344.50 271.00) translate(344.50 271.00) scale(1 1.1) translate(-344.50 -271.00)" >sgNC</text>
<text x="359.40" y="271.00" font-size="7.3" text-anchor="end" fill="#1e1e1e" stroke="#1e1e1e" stroke-width="0.1" transform="rotate(-45 359.40 271.00) translate(359.40 271.00) scale(1 1.1) translate(-359.40 -271.00)" >sgHNRNPH1</text>
<line x1="410.50" y1="354.80" x2="410.50" y2="443.80" stroke="#8a8a8a" stroke-width="1.0" />
<line x1="407.30" y1="443.30" x2="468.80" y2="443.30" stroke="#808080" stroke-width="1.0" />
<line x1="407.50" y1="443.30" x2="410.50" y2="443.30" stroke="#4a4a4a" stroke-width="0.8" />
<text x="405.90" y="445.80" font-size="7.3" text-anchor="end" fill="#1e1e1e" stroke="#1e1e1e" stroke-width="0.1" transform="translate(405.90 445.80) scale(1 1.1) translate(-405.90 -445.80)" >40</text>
<line x1="407.50" y1="421.27" x2="410.50" y2="421.27" stroke="#4a4a4a" stroke-width="0.8" />
<text x="405.90" y="423.77" font-size="7.3" text-anchor="end" fill="#1e1e1e" stroke="#1e1e1e" stroke-width="0.1" transform="translate(405.90 423.77) scale(1 1.1) translate(-405.90 -423.77)" >50</text>
<line x1="407.50" y1="399.25" x2="410.50" y2="399.25" stroke="#4a4a4a" stroke-width="0.8" />
<text x="405.90" y="401.75" font-size="7.3" text-anchor="end" fill="#1e1e1e" stroke="#1e1e1e" stroke-width="0.1" transform="translate(405.90 401.75) scale(1 1.1) translate(-405.90 -401.75)" >60</text>
<line x1="407.50" y1="377.23" x2="410.50" y2="377.23" stroke="#4a4a4a" stroke-width="0.8" />
<text x="405.90" y="379.73" font-size="7.3" text-anchor="end" fill="#1e1e1e" stroke="#1e1e1e" stroke-width="0.1" transform="translate(405.90 379.73) scale(1 1.1) translate(-405.90 -379.73)" >70</text>
<line x1="407.50" y1="355.20" x2="410.50" y2="355.20" stroke="#4a4a4a" stroke-width="0.8" />
<text x="405.90" y="357.70" font-size="7.3" text-anchor="end" fill="#1e1e1e" stroke="#1e1e1e" stroke-width="0.1" transform="translate(405.90 357.70) scale(1 1.1) translate(-405.90 -357.70)" >80</text>
<rect x="415.10" y="395.29" width="8.80" height="48.01" fill="#68a8f8" stroke="#3a3a3a" stroke-width="0.6"/>
<line x1="419.50" y1="389.78" x2="419.50" y2="400.35" stroke="#111" stroke-width="0.75" />
<line x1="417.50" y1="389.78" x2="421.50" y2="389.78" stroke="#111" stroke-width="0.75" />
<line x1="417.50" y1="400.35" x2="421.50" y2="400.35" stroke="#111" stroke-width="0.75" />
<path d="M418.25,391.00 L420.75,391.00 L419.50,388.75Z" fill="#111"/>
<circle cx="420.50" cy="398.15" r="1.0" fill="#111" />
<rect x="417.55" y="396.54" width="1.90" height="1.90" fill="#111" />
<line x1="419.50" y1="443.30" x2="419.50" y2="446.50" stroke="#777" stroke-width="0.8" />
<text x="422.90" y="450.10" font-size="7.2" text-anchor="end" fill="#1e1e1e" stroke="#1e1e1e" stroke-width="0.1" transform="rotate(-45 422.90 450.10) translate(422.90 450.10) scale(1 1.1) translate(-422.90 -450.10)" >sgNC_empty</text>
<rect x="428.60" y="397.05" width="8.80" height="46.25" fill="#1808f6" stroke="#3a3a3a" stroke-width="0.6"/>
<line x1="433.00" y1="391.98" x2="433.00" y2="400.79" stroke="#111" stroke-width="0.75" />
<line x1="431.00" y1="391.98" x2="435.00" y2="391.98" stroke="#111" stroke-width="0.75" />
<line x1="431.00" y1="400.79" x2="435.00" y2="400.79" stroke="#111" stroke-width="0.75" />
<path d="M431.75,394.08 L434.25,394.08 L433.00,391.83Z" fill="#111"/>
<circle cx="434.00" cy="398.59" r="1.0" fill="#111" />
<rect x="431.05" y="396.98" width="1.90" height="1.90" fill="#111" />
<line x1="433.00" y1="443.30" x2="433.00" y2="446.50" stroke="#777" stroke-width="0.8" />
<text x="436.40" y="450.10" font-size="7.2" text-anchor="end" fill="#1e1e1e" stroke="#1e1e1e" stroke-width="0.1" transform="rotate(-45 436.40 450.10) translate(436.40 450.10) scale(1 1.1) translate(-436.40 -450.10)" >sgNC_HNRNPH1</text>
<rect x="442.10" y="406.08" width="8.80" height="37.22" fill="#f27a82" stroke="#3a3a3a" stroke-width="0.6"/>
<line x1="446.50" y1="402.33" x2="446.50" y2="409.82" stroke="#111" stroke-width="0.75" />
<line x1="444.50" y1="402.33" x2="448.50" y2="402.33" stroke="#111" stroke-width="0.75" />
<line x1="444.50" y1="409.82" x2="448.50" y2="409.82" stroke="#111" stroke-width="0.75" />
<rect x="445.55" y="402.04" width="1.90" height="1.90" fill="#111" />
<path d="M445.25,407.94 L447.75,407.94 L446.50,410.19Z" fill="#111"/>
<circle cx="445.50" cy="404.10" r="1.0" fill="#111" />
<line x1="446.50" y1="443.30" x2="446.50" y2="446.50" stroke="#777" stroke-width="0.8" />
<text x="449.90" y="450.10" font-size="7.2" text-anchor="end" fill="#1e1e1e" stroke="#1e1e1e" stroke-width="0.1" transform="rotate(-45 449.90 450.10) translate(449.90 450.10) scale(1 1.1) translate(-449.90 -450.10)" >sgHNRNPH1_empty</text>
<rect x="455.80" y="403.88" width="8.80" height="39.42" fill="#f43f43" stroke="#3a3a3a" stroke-width="0.6"/>
<line x1="460.20" y1="401.67" x2="460.20" y2="406.08" stroke="#111" stroke-width="0.75" />
<line x1="458.20" y1="401.67" x2="462.20" y2="401.67" stroke="#111" stroke-width="0.75" />
<line x1="458.20" y1="406.08" x2="462.20" y2="406.08" stroke="#111" stroke-width="0.75" />
<rect x="459.25" y="401.38" width="1.90" height="1.90" fill="#111" />
<path d="M458.95,404.20 L461.45,404.20 L460.20,406.45Z" fill="#111"/>
<circle cx="461.20" cy="403.21" r="1.0" fill="#111" />
<line x1="460.20" y1="443.30" x2="460.20" y2="446.50" stroke="#777" stroke-width="0.8" />
<text x="463.60" y="450.10" font-size="7.2" text-anchor="end" fill="#1e1e1e" stroke="#1e1e1e" stroke-width="0.1" transform="rotate(-45 463.60 450.10) translate(463.60 450.10) scale(1 1.1) translate(-463.60 -450.10)" >sgHNRNPH1_HNRNPH1</text>
<line x1="418.40" y1="360.50" x2="461.50" y2="360.50" stroke="#777" stroke-width="0.75" />
<text x="439.95" y="359.00" font-size="6.9" text-anchor="middle" fill="#1e1e1e" stroke="#1e1e1e" stroke-width="0.1" transform="translate(439.95 359.00) scale(1 1.1) translate(-439.95 -359.00)" >ns</text>
<line x1="418.40" y1="369.20" x2="447.00" y2="369.20" stroke="#777" stroke-width="0.75" />
<text x="432.70" y="368.60" font-size="6.9" text-anchor="middle" fill="#1e1e1e" stroke="#1e1e1e" stroke-width="0.1" transform="translate(432.70 368.60) scale(1 1.1) translate(-432.70 -368.60)" >*</text>
<line x1="432.40" y1="378.10" x2="460.80" y2="378.10" stroke="#777" stroke-width="0.75" />
<text x="446.60" y="376.60" font-size="6.9" text-anchor="middle" fill="#1e1e1e" stroke="#1e1e1e" stroke-width="0.1" transform="translate(446.60 376.60) scale(1 1.1) translate(-446.60 -376.60)" >ns</text>
<line x1="432.40" y1="387.30" x2="446.70" y2="387.30" stroke="#777" stroke-width="0.75" />
<text x="439.55" y="386.40" font-size="6.9" text-anchor="middle" fill="#1e1e1e" stroke="#1e1e1e" stroke-width="0.1" transform="translate(439.55 386.40) scale(1 1.1) translate(-439.55 -386.40)" >*</text>
<text x="440.00" y="348.10" font-size="7.4" text-anchor="middle" fill="#1e1e1e" stroke="#1e1e1e" stroke-width="0.1" transform="translate(440.00 348.10) scale(1 1.1) translate(-440.00 -348.10)" >G1/G0</text>
<text x="392.20" y="398.20" font-size="7.4" text-anchor="middle" fill="#1e1e1e" stroke="#1e1e1e" stroke-width="0.1" transform="rotate(-90 392.20 398.20) translate(392.20 398.20) scale(1 1.1) translate(-392.20 -398.20)" >Cells (%)</text>
<line x1="519.20" y1="354.80" x2="519.20" y2="443.70" stroke="#8a8a8a" stroke-width="1.0" />
<line x1="516.00" y1="443.20" x2="577.80" y2="443.20" stroke="#808080" stroke-width="1.0" />
<line x1="516.20" y1="443.20" x2="519.20" y2="443.20" stroke="#4a4a4a" stroke-width="0.8" />
<text x="514.60" y="445.70" font-size="7.3" text-anchor="end" fill="#1e1e1e" stroke="#1e1e1e" stroke-width="0.1" transform="translate(514.60 445.70) scale(1 1.1) translate(-514.60 -445.70)" >10</text>
<line x1="516.20" y1="413.87" x2="519.20" y2="413.87" stroke="#4a4a4a" stroke-width="0.8" />
<text x="514.60" y="416.37" font-size="7.3" text-anchor="end" fill="#1e1e1e" stroke="#1e1e1e" stroke-width="0.1" transform="translate(514.60 416.37) scale(1 1.1) translate(-514.60 -416.37)" >15</text>
<line x1="516.20" y1="384.53" x2="519.20" y2="384.53" stroke="#4a4a4a" stroke-width="0.8" />
<text x="514.60" y="387.03" font-size="7.3" text-anchor="end" fill="#1e1e1e" stroke="#1e1e1e" stroke-width="0.1" transform="translate(514.60 387.03) scale(1 1.1) translate(-514.60 -387.03)" >20</text>
<line x1="516.20" y1="355.20" x2="519.20" y2="355.20" stroke="#4a4a4a" stroke-width="0.8" />
<text x="514.60" y="357.70" font-size="7.3" text-anchor="end" fill="#1e1e1e" stroke="#1e1e1e" stroke-width="0.1" transform="translate(514.60 357.70) scale(1 1.1) translate(-514.60 -357.70)" >25</text>
<rect x="524.10" y="383.65" width="8.80" height="59.55" fill="#68a8f8" stroke="#3a3a3a" stroke-width="0.6"/>
<line x1="528.50" y1="366.93" x2="528.50" y2="400.96" stroke="#111" stroke-width="0.75" />
<line x1="526.50" y1="366.93" x2="530.50" y2="366.93" stroke="#111" stroke-width="0.75" />
<line x1="526.50" y1="400.96" x2="530.50" y2="400.96" stroke="#111" stroke-width="0.75" />
<path d="M527.25,373.21 L529.75,373.21 L528.50,370.96Z" fill="#111"/>
<circle cx="528.50" cy="402.13" r="1.0" fill="#111" />
<rect x="527.55" y="377.72" width="1.90" height="1.90" fill="#111" />
<line x1="528.50" y1="443.20" x2="528.50" y2="446.40" stroke="#777" stroke-width="0.8" />
<text x="531.90" y="450.00" font-size="7.2" text-anchor="end" fill="#1e1e1e" stroke="#1e1e1e" stroke-width="0.1" transform="rotate(-45 531.90 450.00) translate(531.90 450.00) scale(1 1.1) translate(-531.90 -450.00)" >sgNC_empty</text>
<rect x="537.80" y="381.31" width="8.80" height="61.89" fill="#1808f6" stroke="#3a3a3a" stroke-width="0.6"/>
<line x1="542.20" y1="366.93" x2="542.20" y2="395.68" stroke="#111" stroke-width="0.75" />
<line x1="540.20" y1="366.93" x2="544.20" y2="366.93" stroke="#111" stroke-width="0.75" />
<line x1="540.20" y1="395.68" x2="544.20" y2="395.68" stroke="#111" stroke-width="0.75" />
<path d="M540.95,370.87 L543.45,370.87 L542.20,368.62Z" fill="#111"/>
<circle cx="542.20" cy="395.68" r="1.0" fill="#111" />
<rect x="541.25" y="375.96" width="1.90" height="1.90" fill="#111" />
<line x1="542.20" y1="443.20" x2="542.20" y2="446.40" stroke="#777" stroke-width="0.8" />
<text x="545.60" y="450.00" font-size="7.2" text-anchor="end" fill="#1e1e1e" stroke="#1e1e1e" stroke-width="0.1" transform="rotate(-45 545.60 450.00) translate(545.60 450.00) scale(1 1.1) translate(-545.60 -450.00)" >sgNC_HNRNPH1</text>
<rect x="551.40" y="390.11" width="8.80" height="53.09" fill="#f27a82" stroke="#3a3a3a" stroke-width="0.6"/>
<line x1="555.80" y1="378.67" x2="555.80" y2="401.55" stroke="#111" stroke-width="0.75" />
<line x1="553.80" y1="378.67" x2="557.80" y2="378.67" stroke="#111" stroke-width="0.75" />
<line x1="553.80" y1="401.55" x2="557.80" y2="401.55" stroke="#111" stroke-width="0.75" />
<path d="M554.55,380.84 L557.05,380.84 L555.80,378.59Z" fill="#111"/>
<circle cx="555.80" cy="398.61" r="1.0" fill="#111" />
<rect x="554.85" y="391.80" width="1.90" height="1.90" fill="#111" />
<line x1="555.80" y1="443.20" x2="555.80" y2="446.40" stroke="#777" stroke-width="0.8" />
<text x="559.20" y="450.00" font-size="7.2" text-anchor="end" fill="#1e1e1e" stroke="#1e1e1e" stroke-width="0.1" transform="rotate(-45 559.20 450.00) translate(559.20 450.00) scale(1 1.1) translate(-559.20 -450.00)" >sgHNRNPH1_empty</text>
<rect x="564.90" y="382.19" width="8.80" height="61.01" fill="#f43f43" stroke="#3a3a3a" stroke-width="0.6"/>
<line x1="569.30" y1="375.44" x2="569.30" y2="389.23" stroke="#111" stroke-width="0.75" />
<line x1="567.30" y1="375.44" x2="571.30" y2="375.44" stroke="#111" stroke-width="0.75" />
<line x1="567.30" y1="389.23" x2="571.30" y2="389.23" stroke="#111" stroke-width="0.75" />
<path d="M568.05,377.91 L570.55,377.91 L569.30,375.66Z" fill="#111"/>
<circle cx="569.30" cy="389.23" r="1.0" fill="#111" />
<rect x="568.35" y="379.48" width="1.90" height="1.90" fill="#111" />
<line x1="569.30" y1="443.20" x2="569.30" y2="446.40" stroke="#777" stroke-width="0.8" />
<text x="572.70" y="450.00" font-size="7.2" text-anchor="end" fill="#1e1e1e" stroke="#1e1e1e" stroke-width="0.1" transform="rotate(-45 572.70 450.00) translate(572.70 450.00) scale(1 1.1) translate(-572.70 -450.00)" >sgHNRNPH1_HNRNPH1</text>
<text x="548.40" y="348.10" font-size="7.4" text-anchor="middle" fill="#1e1e1e" stroke="#1e1e1e" stroke-width="0.1" transform="translate(548.40 348.10) scale(1 1.1) translate(-548.40 -348.10)" >S</text>
<text x="500.10" y="398.20" font-size="7.4" text-anchor="middle" fill="#1e1e1e" stroke="#1e1e1e" stroke-width="0.1" transform="rotate(-90 500.10 398.20) translate(500.10 398.20) scale(1 1.1) translate(-500.10 -398.20)" >Cells (%)</text>
<line x1="624.20" y1="355.20" x2="624.20" y2="444.30" stroke="#8a8a8a" stroke-width="1.0" />
<line x1="621.00" y1="443.80" x2="679.20" y2="443.80" stroke="#808080" stroke-width="1.0" />
<line x1="621.20" y1="443.80" x2="624.20" y2="443.80" stroke="#4a4a4a" stroke-width="0.8" />
<text x="619.60" y="446.30" font-size="7.3" text-anchor="end" fill="#1e1e1e" stroke="#1e1e1e" stroke-width="0.1" transform="translate(619.60 446.30) scale(1 1.1) translate(-619.60 -446.30)" >10</text>
<line x1="621.20" y1="414.40" x2="624.20" y2="414.40" stroke="#4a4a4a" stroke-width="0.8" />
<text x="619.60" y="416.90" font-size="7.3" text-anchor="end" fill="#1e1e1e" stroke="#1e1e1e" stroke-width="0.1" transform="translate(619.60 416.90) scale(1 1.1) translate(-619.60 -416.90)" >15</text>
<line x1="621.20" y1="385.00" x2="624.20" y2="385.00" stroke="#4a4a4a" stroke-width="0.8" />
<text x="619.60" y="387.50" font-size="7.3" text-anchor="end" fill="#1e1e1e" stroke="#1e1e1e" stroke-width="0.1" transform="translate(619.60 387.50) scale(1 1.1) translate(-619.60 -387.50)" >20</text>
<line x1="621.20" y1="355.60" x2="624.20" y2="355.60" stroke="#4a4a4a" stroke-width="0.8" />
<text x="619.60" y="358.10" font-size="7.3" text-anchor="end" fill="#1e1e1e" stroke="#1e1e1e" stroke-width="0.1" transform="translate(619.60 358.10) scale(1 1.1) translate(-619.60 -358.10)" >25</text>
<rect x="629.50" y="405.58" width="8.80" height="38.22" fill="#68a8f8" stroke="#3a3a3a" stroke-width="0.6"/>
<line x1="633.90" y1="402.05" x2="633.90" y2="409.11" stroke="#111" stroke-width="0.75" />
<line x1="631.90" y1="402.05" x2="635.90" y2="402.05" stroke="#111" stroke-width="0.75" />
<line x1="631.90" y1="409.11" x2="635.90" y2="409.11" stroke="#111" stroke-width="0.75" />
<path d="M632.65,403.64 L635.15,403.64 L633.90,401.39Z" fill="#111"/>
<circle cx="633.90" cy="408.52" r="1.0" fill="#111" />
<rect x="632.95" y="404.04" width="1.90" height="1.90" fill="#111" />
<line x1="633.90" y1="443.80" x2="633.90" y2="447.00" stroke="#777" stroke-width="0.8" />
<text x="637.30" y="450.60" font-size="7.2" text-anchor="end" fill="#1e1e1e" stroke="#1e1e1e" stroke-width="0.1" transform="rotate(-45 637.30 450.60) translate(637.30 450.60) scale(1 1.1) translate(-637.30 -450.60)" >sgNC_empty</text>
<rect x="643.10" y="402.64" width="8.80" height="41.16" fill="#1808f6" stroke="#3a3a3a" stroke-width="0.6"/>
<line x1="647.50" y1="399.11" x2="647.50" y2="406.17" stroke="#111" stroke-width="0.75" />
<line x1="645.50" y1="399.11" x2="649.50" y2="399.11" stroke="#111" stroke-width="0.75" />
<line x1="645.50" y1="406.17" x2="649.50" y2="406.17" stroke="#111" stroke-width="0.75" />
<path d="M646.25,401.29 L648.75,401.29 L647.50,399.04Z" fill="#111"/>
<circle cx="647.50" cy="404.99" r="1.0" fill="#111" />
<rect x="646.55" y="401.69" width="1.90" height="1.90" fill="#111" />
<line x1="647.50" y1="443.80" x2="647.50" y2="447.00" stroke="#777" stroke-width="0.8" />
<text x="650.90" y="450.60" font-size="7.2" text-anchor="end" fill="#1e1e1e" stroke="#1e1e1e" stroke-width="0.1" transform="rotate(-45 650.90 450.60) translate(650.90 450.60) scale(1 1.1) translate(-650.90 -450.60)" >sgNC_HNRNPH1</text>
<rect x="656.40" y="371.48" width="8.80" height="72.32" fill="#f27a82" stroke="#3a3a3a" stroke-width="0.6"/>
<line x1="660.80" y1="369.71" x2="660.80" y2="373.24" stroke="#111" stroke-width="0.75" />
<line x1="658.80" y1="369.71" x2="662.80" y2="369.71" stroke="#111" stroke-width="0.75" />
<line x1="658.80" y1="373.24" x2="662.80" y2="373.24" stroke="#111" stroke-width="0.75" />
<path d="M659.55,371.30 L662.05,371.30 L660.80,369.05Z" fill="#111"/>
<circle cx="659.80" cy="372.06" r="1.0" fill="#111" />
<rect x="660.85" y="370.53" width="1.90" height="1.90" fill="#111" />
<line x1="660.80" y1="443.80" x2="660.80" y2="447.00" stroke="#777" stroke-width="0.8" />
<text x="664.20" y="450.60" font-size="7.2" text-anchor="end" fill="#1e1e1e" stroke="#1e1e1e" stroke-width="0.1" transform="rotate(-45 664.20 450.60) translate(664.20 450.60) scale(1 1.1) translate(-664.20 -450.60)" >sgHNRNPH1_empty</text>
<rect x="670.00" y="385.00" width="8.80" height="58.80" fill="#f43f43" stroke="#3a3a3a" stroke-width="0.6"/>
<line x1="674.40" y1="382.06" x2="674.40" y2="387.94" stroke="#111" stroke-width="0.75" />
<line x1="672.40" y1="382.06" x2="676.40" y2="382.06" stroke="#111" stroke-width="0.75" />
<line x1="672.40" y1="387.94" x2="676.40" y2="387.94" stroke="#111" stroke-width="0.75" />
<path d="M673.15,384.24 L675.65,384.24 L674.40,381.99Z" fill="#111"/>
<path d="M673.15,386.35 L675.65,386.35 L674.40,388.60Z" fill="#111"/>
<circle cx="675.40" cy="383.82" r="1.0" fill="#111" />
<line x1="674.40" y1="443.80" x2="674.40" y2="447.00" stroke="#777" stroke-width="0.8" />
<text x="677.80" y="450.60" font-size="7.2" text-anchor="end" fill="#1e1e1e" stroke="#1e1e1e" stroke-width="0.1" transform="rotate(-45 677.80 450.60) translate(677.80 450.60) scale(1 1.1) translate(-677.80 -450.60)" >sgHNRNPH1_HNRNPH1</text>
<line x1="635.30" y1="357.00" x2="660.80" y2="357.00" stroke="#777" stroke-width="0.75" />
<text x="648.05" y="355.50" font-size="6.9" text-anchor="middle" fill="#1e1e1e" stroke="#1e1e1e" stroke-width="0.1" transform="translate(648.05 355.50) scale(1 1.1) translate(-648.05 -355.50)" >****</text>
<line x1="662.10" y1="360.30" x2="675.80" y2="360.30" stroke="#777" stroke-width="0.75" />
<text x="668.95" y="360.30" font-size="6.9" text-anchor="middle" fill="#1e1e1e" stroke="#1e1e1e" stroke-width="0.1" transform="translate(668.95 360.30) scale(1 1.1) translate(-668.95 -360.30)" >**</text>
<line x1="647.30" y1="365.80" x2="660.80" y2="365.80" stroke="#777" stroke-width="0.75" />
<text x="654.05" y="365.30" font-size="6.9" text-anchor="middle" fill="#1e1e1e" stroke="#1e1e1e" stroke-width="0.1" transform="translate(654.05 365.30) scale(1 1.1) translate(-654.05 -365.30)" >****</text>
<line x1="633.50" y1="392.10" x2="647.10" y2="392.10" stroke="#777" stroke-width="0.75" />
<text x="640.30" y="390.60" font-size="6.9" text-anchor="middle" fill="#1e1e1e" stroke="#1e1e1e" stroke-width="0.1" transform="translate(640.30 390.60) scale(1 1.1) translate(-640.30 -390.60)" >ns</text>
<text x="652.90" y="348.10" font-size="7.4" text-anchor="middle" fill="#1e1e1e" stroke="#1e1e1e" stroke-width="0.1" transform="translate(652.90 348.10) scale(1 1.1) translate(-652.90 -348.10)" >G2/M</text>
<text x="604.30" y="398.20" font-size="7.4" text-anchor="middle" fill="#1e1e1e" stroke="#1e1e1e" stroke-width="0.1" transform="rotate(-90 604.30 398.20) translate(604.30 398.20) scale(1 1.1) translate(-604.30 -398.20)" >Cells (%)</text>
<text x="67.30" y="171.60" font-size="7.35" text-anchor="middle" fill="#1e1e1e" stroke="#1e1e1e" stroke-width="0.1" transform="translate(67.30 171.60) scale(1 1.1) translate(-67.30 -171.60)" >sgNC</text>
<text x="157.00" y="171.60" font-size="7.35" text-anchor="middle" fill="#1e1e1e" stroke="#1e1e1e" stroke-width="0.1" transform="translate(157.00 171.60) scale(1 1.1) translate(-157.00 -171.60)" >sgHNRNPH1</text>
<text x="37.70" y="369.50" font-size="7.25" text-anchor="middle" fill="#1e1e1e" stroke="#1e1e1e" stroke-width="0.1" transform="rotate(-90 37.70 369.50) translate(37.70 369.50) scale(1 1.1) translate(-37.70 -369.50)" >sgNC</text>
<text x="37.70" y="464.30" font-size="7.25" text-anchor="middle" fill="#1e1e1e" stroke="#1e1e1e" stroke-width="0.1" transform="rotate(-90 37.70 464.30) translate(37.70 464.30) scale(1 1.1) translate(-37.70 -464.30)" >sgHNRNPH1</text>
</svg>
</body></html>
